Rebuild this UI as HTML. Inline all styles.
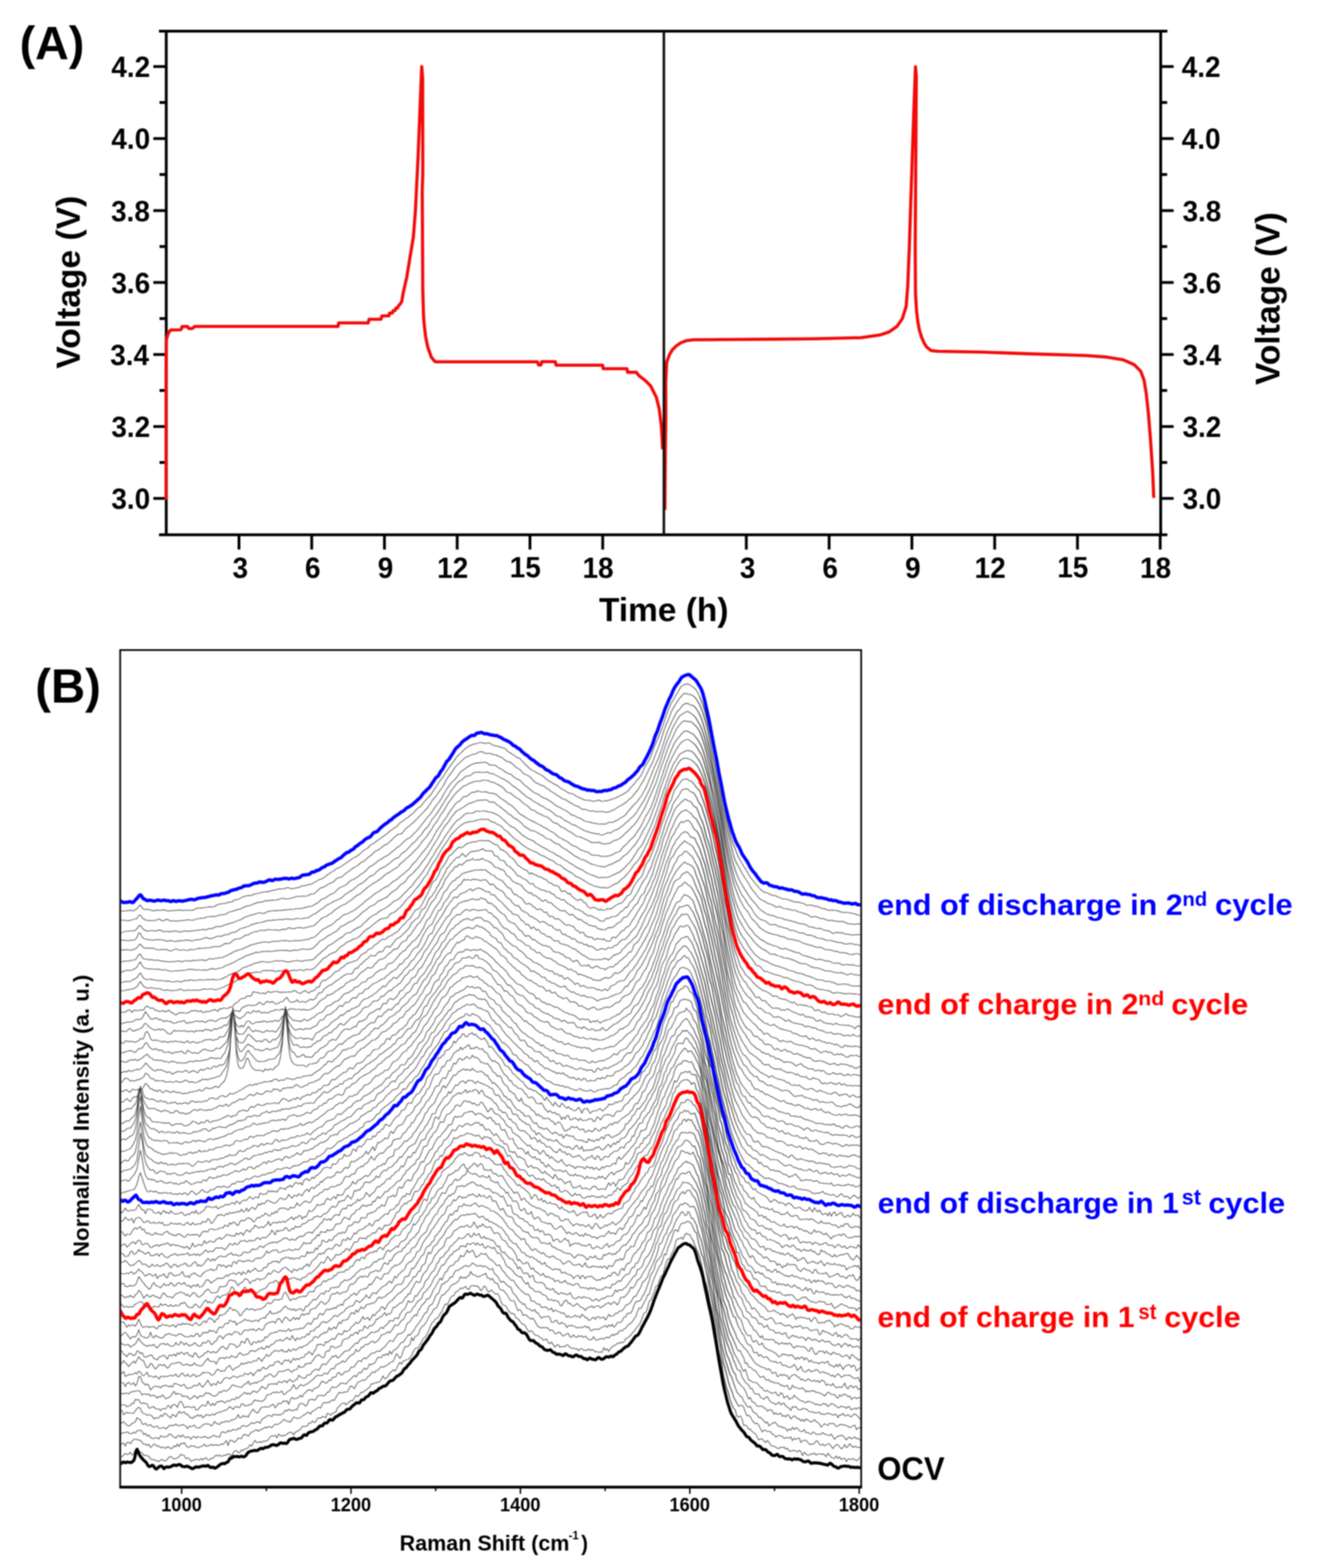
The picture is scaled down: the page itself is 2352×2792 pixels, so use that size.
<!DOCTYPE html>
<html><head><meta charset="utf-8"><title>Figure</title>
<style>html,body{margin:0;padding:0;background:#fff;}svg{display:block;filter:blur(0.8px);}</style></head>
<body>
<svg width="2352" height="2792" viewBox="0 0 2352 2792" font-family="Liberation Sans, Arial, sans-serif" font-weight="bold">
<path d="M283 55.5H2078.5M283 952.3H2078.5M296.0 53.0V954.8M2066.6 53.0V954.8" stroke="#000" stroke-width="5" fill="none"/>
<path d="M273.0 887.6H296.0M2066.6 887.6H2089.6M284.0 823.5H296.0M2066.6 823.5H2078.1M273.0 759.4H296.0M2066.6 759.4H2089.6M284.0 695.3H296.0M2066.6 695.3H2078.1M273.0 631.2H296.0M2066.6 631.2H2089.6M284.0 567.2H296.0M2066.6 567.2H2078.1M273.0 503.1H296.0M2066.6 503.1H2089.6M284.0 439.0H296.0M2066.6 439.0H2078.1M273.0 374.9H296.0M2066.6 374.9H2089.6M284.0 310.8H296.0M2066.6 310.8H2078.1M273.0 246.7H296.0M2066.6 246.7H2089.6M284.0 182.6H296.0M2066.6 182.6H2078.1M273.0 118.5H296.0M2066.6 118.5H2089.6" stroke="#000" stroke-width="5" fill="none"/>
<path d="M425.5 952.3V978.5M1328.8 952.3V978.5M555.0 952.3V978.5M1476.2 952.3V978.5M684.5 952.3V978.5M1623.6 952.3V978.5M814.0 952.3V978.5M1771.0 952.3V978.5M943.6 952.3V978.5M1918.4 952.3V978.5M1073.1 952.3V978.5M2065.7 952.3V978.5" stroke="#000" stroke-width="5" fill="none"/>
<path d="M295.7 890.0 295.7 700.0 295.8 640.0 296.2 605.0 298.5 596.7 301.0 591.0 304.2 587.5 321.2 587.3 323.0 586.0 324.0 581.5 334.0 581.3 336.0 585.0 342.0 585.0 347.0 581.3 601.8 581.3 603.0 575.0 655.6 575.0 657.0 568.5 678.3 568.5 680.0 562.5 692.5 562.5 693.5 557.5 698.5 557.5 700.0 553.0 703.5 553.0 705.0 548.5 707.5 548.5 709.5 544.5 712.0 542.0 715.2 537.0 718.2 520.0 724.2 493.8 730.0 458.0 736.0 422.0 739.7 374.5 742.0 326.7 744.4 279.0 746.8 219.3 749.2 159.7 750.9 118.5 752.5 140.0 752.8 307.6 751.8 338.7 752.8 517.7 754.0 560.0 755.0 575.0 757.9 600.4 761.7 618.3 768.0 636.1 774.4 643.8 776.0 644.3 956.8 644.3 959.0 650.0 963.0 650.0 964.5 644.0 988.7 644.0 990.0 650.2 1072.9 650.2 1074.0 656.5 1116.3 656.5 1117.5 662.9 1132.9 662.9 1138.0 669.3 1148.2 677.0 1158.4 687.1 1168.6 707.6 1173.7 728.0 1177.5 758.6 1179.3 789.2 1179.6 800.0" stroke="#f20a0a" stroke-width="5.6" fill="none" stroke-linejoin="round"/>
<path d="M1183.8 908.0 1184.6 800.0 1185.5 740.0 1185.3 679.0 1187.0 645.0 1192.0 631.4 1197.0 623.0 1204.0 616.0 1212.0 610.5 1221.0 606.8 1234.6 605.0 1300.0 604.5 1384.0 603.9 1450.0 603.2 1491.5 602.2 1533.0 601.2 1566.3 596.6 1583.0 591.0 1596.8 581.4 1606.5 567.5 1613.4 545.4 1616.2 509.4 1619.0 440.0 1621.7 357.0 1624.5 273.9 1627.3 190.8 1630.0 118.8 1631.4 135.4 1630.6 274.0 1629.5 440.0 1630.0 523.0 1632.0 555.0 1634.2 573.0 1637.0 588.0 1641.0 600.8 1645.0 610.0 1649.4 617.4 1657.8 624.3 1670.0 625.5 1750.0 627.0 1836.4 630.1 1932.7 633.0 1971.3 635.9 2000.2 640.7 2019.5 649.4 2031.0 661.0 2036.8 676.4 2040.7 699.5 2044.5 734.2 2048.4 782.4 2052.3 840.2 2054.2 886.5" stroke="#f20a0a" stroke-width="5.6" fill="none" stroke-linejoin="round"/>
<path d="M1182.0 55.5V952.3" stroke="#111" stroke-width="4.5" fill="none"/>
<path d="M214.0 2648.0V1157.4H1533.3V2648.0" stroke="#000" stroke-width="3" fill="none"/>
<path d="M212.5 2648.0H1534.8" stroke="#000" stroke-width="5" fill="none"/>
<path d="M323.4 2648.0V2660M474.2 2648.0V2655M625.0 2648.0V2660M775.8 2648.0V2655M926.6 2648.0V2660M1077.4 2648.0V2655M1228.2 2648.0V2660M1379.0 2648.0V2655M1529.8 2648.0V2660" stroke="#000" stroke-width="2.5" fill="none"/>
<defs><clipPath id="cb"><rect x="215.5" y="1159" width="1316.3" height="1487"/></clipPath></defs>
<defs><linearGradient id="bg" x1="1228" x2="1318" y1="0" y2="0" gradientUnits="userSpaceOnUse"><stop offset="0" stop-color="#fff" stop-opacity="0"/><stop offset="0.3" stop-color="#fff" stop-opacity="1"/><stop offset="0.7" stop-color="#fff" stop-opacity="1"/><stop offset="1" stop-color="#fff" stop-opacity="0"/></linearGradient><mask id="mband" maskUnits="userSpaceOnUse" x="1200" y="1200" width="150" height="1450"><rect x="1228" y="1240" width="90" height="1400" fill="url(#bg)"/></mask></defs>
<g clip-path="url(#cb)"><g stroke="#404040" stroke-width="1.25"><path id="gl" d="M214 2594.5l3-.5 3-2.7 3-3.4 3 2 3-.7 3-3.2 3 4.8 3-1.5 3-8.3 3 6 3-3.5 3 2.4 3 1.3 3 4.5 3-.5 3 1 3 .9 3 4.8 3 1.2 3-.4 3 2.4 3 .1 3 1.1 3-2.7 3-.8 3 2.6 3 0 3-3.1 3-3.8 3-1.1 3 2.4 3 1.8 3-.4 3-1.4 3-2 3-4.2 3 1.6 3 .3 3 6 3-1.6 3 1.3 3 5 3-1.9 3-.4 3-1.9 3 .9 3 1.1 3-3.1 3 2.9 3-3 3-1.2 3 3.7 3 .2 3-3 3 .2 3-3.3 3-2.5 3 1.8 3-1.8 3 2.2 3-.8 3-1.4 3 .4 3-2.4 3 .3 3 4.2 3-6.6 3-3.5 3-.1 3 3.1 3 0 3-4.7 3 1.3 3-3.1 3-.4 3-1.7 3-5.2 3 2.6 3-6.1 3-4.1 3 3.6 3 .2 3-1.8 3 1.8 3-3.1 3 1.1 3-1.3 3-2.2 3-5 3-1.7 3 .8 3-1.8 3 4.9 3-7.1 3 2.6 3 1.2 3-1.5 3 .3 3-2.3 3-2.3 3-.9 3 .2 3 4.6 3-5.3 3-1 3-2 3-1.9 3-4.8 3-.6 3-.1 3-.1 3-5.9 3 1 3-4.5 3 2.9 3-1 3-6.4 3-.6 3 .4 3-3 3 .4 3 1.8 3-8.1 3 1.3 3 2.2 3-3.1 3-1.4 3-.9 3-8 3-2.2 3-4 3-1.3 3-1.2 3 3.7 3-3.1 3-2.1 3-2.7 3 .7 3-5.3 3-4.3 3 2 3-2.7 3-5.1 3 .6 3-3 3-1.5 3-2.7 3-1.9 3-6.6 3 .6 3-2 3-.1 3-1.2 3-.6 3-4.3 3-6.5 3 5.5 3-1.2 3-3.9 3-5.2 3-2.3 3-3.7 3 2.4 3-4.5 3-6.3 3-4.9 3 3.4 3-5.4 3-.9 3-1.7 3-.5 3-3 3-4.1 3-7 3-4.9 3-1.4 3-.1 3-6.5 3-4.9 3-6.1 3-1.2 3-5.8 3-5.4 3-7.9 3-6.5 3-2.4 3-4.9 3-.8 3-3.7 3-5.3 3-3.8 3-7.8 3-5.1 3 1 3-4.6 3-7.5 3-3.2 3-.4 3-6.4 3-1.2 3-2.4 3-3.9 3 1.3 3-2.1 3-1.8 3 4.5 3 .9 3-6.1 3-.7 3-.2 3 1 3-.3 3 3 3 5.6 3-3.2 3-5.5 3 2.3 3 6.8 3 1.9 3-3.8 3 1.9 3 3.9 3 1.4 3-.7 3 5.4 3 8.8 3 5.4 3 1.5 3 1.2 3 6.2 3 3.6 3 3.3 3-.2 3 1.6 3 6.9 3 .7 3 3.9 3 4.3 3 1.9 3 1.2 3 4.6 3 5.6 3 2.2 3-2.2 3 3.3 3 4.1 3 1.1 3 .4 3 3.6 3 .4 3 4.3 3-.9 3-1.6 3 6.6 3 2.2 3-3.2 3 4.8 3 4.5 3-4 3-.6 3 4.6 3-1.3 3 .1 3 .1 3-3.3 3 1 3 3.9 3 1.6 3-.6 3 1.3 3-.2 3 3.7 3-3.4 3-.4 3 3.3 3-.6 3 .6 3-3.1 3 3.2 3-1.7 3 1.2 3 2.9 3-.5 3 1.3 3-.9 3 1 3-8.7 3 5.1 3-3 3 5.2 3-6 3-2 3-2.9 3-.6 3-3.3 3 .4 3-2.4 3 1.1 3-1.8 3-5.5 3-1.1 3-2.7 3-2.1 3-4.8 3-2.7 3-4.5 3-3.6 3-3.3 3-5.7 3-8.5 3-7.2 3-.5 3-8.5 3-11.8 3-1.5 3-7.9 3-8.1 3-9.1 3-.5 3-9.8 3-7.9 3-.8 3-12.1 3-10.5 3-7 3 1.1 3-8.8 3-4.6 3-8.7 3-12.2 3-2.6 3 0 3-2.6 3 3.7 3-7.3 3-3.5 3 2 3 0 3 6.3 3 4.4 3 8.5 3 6.5 3 7.3 3 8.4 3 12.9 3 13.3 3 14.5 3 8.8 3 12.7 3 17 3 11.8 3 16.4 3 15.2 3 20 3 19.6 3 13.8 3 11.8 3 21.5 3 12.7 3 11 3 8.2 3 12.2 3 8.1 3 6.4 3 3.3 3 10.8 3 1.8 3-1.8 3 4.1 3 12.7 3-.5 3 1.6 3 5.6 3-.3 3 4.3 3 2.1 3 2.2 3 5.3 3 5.4 3-1.7 3 .2 3 3.1 3 3.4 3-3.9 3 2.9 3 5.1 3 1.9 3 .4 3 1.1 3 2.6 3 .2 3-2.7 3 1.3 3-1.4 3 4 3-1.6 3 4.5 3 .9 3-1.3 3-.4 3 1.7 3 .9 3-2.6 3 2.5 3 6.7 3-5.9 3 2.9 3 2.7 3-.4 3-2.5 3 .8 3-2.1 3 3.9 3-2.3 3 .2 3 .4 3-.3 3 .8 3 3.9 3-6 3 3.2 3 4 3 1.3 3 .4 3-4.3 3 4.4 3-2.8 3 4.9 3-1.7 3-.7 3 6.1 3-4.7 3 .1 3 1.1 3-2.1 3 2.3 3 1.7 3-2.3 3-3.5 3 2.1M214 2572.0l3-1.1 3-1.7 3 5.9 3-6.5 3-.6 3 2.9 3-4.2 3-3.9 3 .1 3 0 3 1.2 3 .8 3 3.1 3 4 3-.6 3 2.6 3-2.3 3 5.8 3-2.6 3-3.5 3 1.1 3 3 3-.9 3 3.2 3-.6 3 .1 3 1.7 3-2.8 3 .7 3 2.5 3-.8 3-4 3 1.5 3-4.9 3 4.8 3-6.2 3 1.5 3-2.7 3 5 3 3.7 3-.3 3-2.8 3 .9 3-.4 3 2.2 3 .8 3-.8 3-1.4 3-.9 3-3.1 3 3.8 3-.6 3-.8 3-2.1 3 2.1 3-1.1 3-.4 3 1.6 3-1.1 3-2 3 1.6 3-4.1 3-3.1 3 8.7 3-8.8 3-.8 3 2 3 1.5 3-2.9 3-4.4 3 .5 3 .5 3-6.5 3-.7 3 .8 3 2.1 3-3.9 3-3.9 3-.1 3-2.8 3-.8 3 3 3-2.7 3-1.2 3-1.2 3-2.6 3 1.8 3-2.9 3 .9 3 .9 3-2.9 3-2.9 3 .7 3-1.2 3-1.7 3-2.9 3-3.5 3 1.6 3 2 3-.3 3 1.7 3-4.6 3-4.8 3 1.3 3 1.5 3-.9 3-.3 3-3 3-2.2 3-1.3 3-3.2 3-.1 3 3.2 3-5.3 3-.6 3-2.7 3-2.2 3-1.7 3 1.7 3-7.1 3-2.8 3 .9 3-1.1 3 .2 3-2.8 3-1.9 3 1.1 3-5.5 3-4.5 3-4.5 3 1.1 3-.4 3-1.3 3 0 3-.6 3-7 3-3.2 3 1.5 3 3.5 3-6.1 3-5.7 3-.7 3-1.6 3-1.7 3 1.1 3-2.9 3-3.8 3-1.6 3-4.7 3-2.2 3 1.1 3-3.5 3-.9 3-3.5 3-2.8 3 1.3 3-1.5 3-1.8 3-1.6 3-3 3-1.5 3-1.1 3-6.6 3-7 3 3.7 3 4.8 3-4.6 3-9.7 3-6.8 3 .4 3-1.8 3-2.7 3-12.2 3 5.9 3-8.1 3-.4 3-3.5 3-8.7 3-4.2 3-2.3 3-3 3-5.1 3-5.9 3-5.1 3-3.8 3-6.2 3-1.1 3-2.5 3-7.4 3-8.5 3-6 3-.1 3-3.1 3-3.6 3-2.6 3-5.5 3-3.1 3-1.3 3-1 3-2.3 3-3.3 3-6.8 3 3 3-1.6 3 1.7 3-3.5 3-.9 3-7.8 3 5.2 3 .7 3 1.4 3 2.2 3 0 3-1.9 3-1.3 3-1.1 3-1.9 3 8.7 3-.3 3 3.5 3-2.8 3 6.8 3 1.8 3 .3 3 8.6 3 3.3 3 0 3 1.9 3 4.6 3 3.3 3 6.7 3 2.6 3-.4 3 1.5 3 8.7 3 7.9 3-2.1 3 2.3 3 8.1 3-1 3 .5 3 3.1 3 2.6 3 1.5 3-1.5 3 4.2 3 6 3 4.5 3 1.3 3 1.3 3-1 3 .4 3 0 3 .8 3 4.6 3-1.7 3 2.2 3 4.7 3 0 3-2.3 3-.1 3 4.6 3 2 3-1.5 3-2.8 3 0 3 6 3 .3 3-4.2 3 3.7 3 .9 3-2.9 3 1.6 3-1.4 3 2.7 3-2.1 3 2.6 3 3.6 3 .3 3-.9 3-4.7 3 5.2 3 1.2 3-1.8 3-.9 3-.6 3 1.5 3-2.6 3-1.2 3 1.5 3-3.1 3-3.4 3 2.4 3-3.1 3 .5 3-4.8 3-1.6 3 .3 3-3.2 3-1.2 3-4.7 3-2.4 3-1.8 3-3.1 3-4.6 3-4.3 3-8.4 3-7.2 3 1.5 3-5.6 3-5.6 3-5.3 3-7.9 3-.9 3-12.3 3-9.7 3-7.5 3-7.2 3-6.6 3-7 3-2.8 3-8.9 3-10 3 1.5 3-11.8 3-7 3-6.3 3-10.8 3-7.7 3-1 3 3.4 3-8.9 3-5.5 3-.9 3 0 3-2.3 3-1.3 3 2.5 3 2.2 3 6.4 3 7.7 3 1.7 3 14.5 3 11.9 3 11.7 3 6 3 13.5 3 13.7 3 15.7 3 14.9 3 14.8 3 15.9 3 18.1 3 14.8 3 18.1 3 17 3 18.6 3 12.9 3 9.3 3 12.7 3 12.1 3 9.3 3 6.2 3 10.6 3 5.8 3 5.5 3 5.6 3-1.8 3 .3 3 2.7 3 9 3 6.9 3-1.2 3 2.8 3 6.1 3 3.7 3 2.8 3-1.5 3 4.2 3 6.2 3 5.6 3-3.4 3 .5 3 2 3-.1 3 .3 3 4.8 3 .6 3 4.4 3-1.8 3-1.1 3 .8 3 1.1 3 3.2 3-.7 3-.7 3 1.3 3-2.6 3 6.8 3-4.2 3 1.9 3-1.9 3-.4 3 8.1 3-3.5 3-.3 3-.6 3 3.5 3 3.8 3-.2 3 .6 3-2.2 3-3.9 3 .4 3 5.7 3 1.5 3-2.3 3 3.4 3-2.1 3-1.5 3 0 3 4.1 3 4.3 3-3.8 3-3.5 3 .7 3 3.5 3 3.6 3-2.4 3-5.5 3 5.9 3-2.6 3-4.6 3 3.2 3 3.6 3-2.4 3 1.3 3 1 3-.1 3-.4M214 2553.9l3-1.8 3-1 3-.3 3-1 3 1.3 3 1.9 3-.3 3-2.7 3 1.8 3-4.2 3-.6 3-.3 3 2 3 5.9 3-2.3 3 4.9 3-1.8 3 4.2 3 1.8 3-.3 3-1 3 .1 3 2.3 3-5.8 3 1.1 3 1.2 3-1.2 3-.1 3-4 3 .2 3 2.9 3 2.2 3 1.6 3-3.6 3-1.3 3 3.4 3-4.3 3 3.4 3 1.8 3-1.7 3 .6 3 3.9 3-4.3 3-.9 3 3.2 3-2.6 3 .8 3 .6 3-.1 3-1.9 3 1.5 3 1.7 3-.9 3-1.3 3-2.2 3-.3 3 2.4 3-.7 3 1.3 3-8.4 3-1.5 3 1.9 3-.3 3-3.7 3 1.8 3-1.4 3-2.2 3 .8 3 .4 3-3.3 3 1 3-4.3 3-1.5 3 .6 3 .8 3-1.2 3-2.5 3-3.1 3 1.8 3-1 3-1.9 3-.3 3 3 3-7 3-2 3-1.6 3-2.5 3-1.5 3 .7 3 1.6 3-3.9 3 .4 3 .5 3-.1 3 .2 3-1.6 3-2 3-4.7 3 1.5 3-3.4 3 2.2 3-.3 3 1 3-2.7 3 1 3-8.6 3-2.6 3-.1 3 1.4 3 3.3 3-2.3 3-8.8 3-.3 3-1 3 1.7 3-.9 3-6.5 3-.7 3-.1 3 0 3 .8 3-2.5 3-4.5 3-.1 3-6.2 3-3.3 3 1.6 3 .3 3-2.6 3-2.3 3-3.6 3 .6 3 .1 3 1.3 3-3.9 3-3 3-2.2 3-3.6 3-2.9 3 2.8 3-4.8 3-3.5 3 1.3 3-5.8 3-2.9 3 2.5 3-2.9 3-7.1 3 2 3-2.6 3-.6 3-5.3 3-5.4 3 .5 3 .3 3-5.2 3 1.3 3-3 3 2.5 3-7.1 3 5.3 3-5.6 3-2.5 3-1.8 3-3.2 3-4.6 3-3.4 3 0 3-4.8 3-4.3 3-4.9 3 1.5 3-4.2 3-3 3-4.9 3-5.4 3-3.2 3-4.2 3-4.7 3-5.6 3-4.5 3-1.1 3-9.6 3-2.9 3-1.4 3-5.6 3-8.1 3-4.8 3-1.7 3-9 3-7.7 3 .5 3-3.9 3-.4 3-3.6 3-5 3 .9 3-6.6 3-5.2 3-.4 3-1.2 3-2.6 3-.8 3-3.1 3-1.3 3 1.8 3-.5 3-1.6 3-4.1 3 1.6 3 2 3 2.2 3-.5 3-1.1 3 2.8 3-2.2 3 1.8 3 1.4 3 3.4 3-.2 3-1.6 3 8.9 3 2.6 3 2.8 3 5 3 5.6 3-2 3 1.5 3 3.6 3 3.1 3 1.5 3 1.6 3 9.3 3 2.4 3 4 3 4.3 3 4.9 3 1.4 3 3.8 3-1.6 3 7.1 3 2.2 3 .7 3 2.1 3 1.3 3-3 3 5.5 3 .8 3 5.4 3 3.9 3-2.1 3-.4 3-.2 3-.8 3 2.1 3 8.7 3 .4 3-3.1 3-.9 3 5.9 3 .7 3-3 3 2.6 3 .4 3 6.4 3-3.5 3 .6 3-1.4 3 1.9 3 .5 3 2.5 3-1 3 .4 3-.1 3-1 3-1.9 3 3.2 3-1.8 3 6.8 3 .4 3-2.7 3 .2 3-.3 3 .8 3-2.9 3-1.1 3-1.7 3-1.5 3 3.2 3-4.3 3 2.3 3-3.3 3 4.9 3-2.3 3-5.6 3-.4 3-.2 3-3 3-6.5 3-.3 3-6.4 3 .2 3-.5 3-4.9 3-9.2 3-5.9 3-1.5 3 .3 3-2.3 3-6.5 3-4.5 3-6.5 3-9.1 3-7.6 3-11.1 3-3.8 3-6 3-11.8 3-4.3 3-3 3-4.3 3-8.7 3-6.3 3-8.2 3-8.8 3-7.9 3-2.2 3-6.2 3-7.5 3-7.7 3-5 3-3.3 3-5.9 3-.2 3 5.6 3 .5 3-7.1 3 3.4 3 8.8 3 .1 3 5.8 3 5.9 3 12.1 3 9 3 7.5 3 13.7 3 14.4 3 12.4 3 11.3 3 21.7 3 11.9 3 13.5 3 19.3 3 15.2 3 16.1 3 18.3 3 18.4 3 12.9 3 11.1 3 9.3 3 9.2 3 9.7 3 4.2 3 9.9 3 8.4 3 7.9 3 3.4 3 4.3 3 1.1 3 7.4 3 4.1 3 5 3 1.9 3-1.9 3 6.2 3 5.3 3 .3 3 3.6 3 4.9 3-.4 3 3.1 3 2.8 3 4.2 3-2.1 3 7.1 3-2.4 3-1.7 3-1.9 3 .2 3 4.1 3 2.9 3-.4 3 2.4 3-.1 3 1.7 3 4.4 3-3.7 3 2.1 3-5.2 3 4.2 3-3.2 3 .9 3 4.3 3 1.5 3-.2 3-3.5 3 5.8 3-.6 3 2 3 1.5 3-4.2 3 1.2 3 2.9 3 0 3 .1 3-.2 3-3.1 3 2.7 3 .9 3 1.2 3 .9 3-3.3 3 5.2 3 4.5 3-3.4 3-2.5 3 .1 3-1.3 3 1 3 3.6 3 3.8 3-4.2 3-.7 3 2.8 3-1.8 3-1.6 3 3.2 3-.6 3 2.4 3 6M214 2532.4l3 1.7 3-2.9 3 3.7 3 2.8 3 1.4 3-1.3 3-3 3-1.4 3-1.7 3-7.4 3 2.8 3 .9 3 7.4 3 .8 3-2 3 4.2 3-.3 3-1.5 3 3.4 3 1.1 3-.8 3-1.3 3 4.2 3 .3 3-1.5 3 .2 3 1.9 3-1.7 3-4.4 3 .8 3-1.2 3 .5 3-2.4 3 2.4 3 .5 3-.7 3-1 3 .8 3 1.8 3 4.6 3-4.9 3 1.3 3-1.2 3-1.8 3 4.5 3 .3 3 .4 3-2.6 3-2.4 3-2.2 3-.1 3-.1 3 .7 3 3 3-2.2 3-6 3 3.8 3 .8 3 1 3-4.1 3 .4 3-.9 3-1.7 3 1.4 3-.7 3-2.7 3 .2 3-1.5 3-2.1 3-6 3 6 3-.8 3-3.4 3 2.5 3-1.5 3 2 3-6.8 3-4.2 3-3.2 3 3.9 3 2.9 3-1.2 3-5.5 3-3.9 3-.2 3-.5 3 .6 3 .1 3-1.9 3-2 3-1.2 3 6.6 3-4.1 3-4.5 3 1.4 3-2.3 3-3.2 3 1.3 3-1.2 3 6.1 3-8.3 3-4.1 3 2.7 3-.6 3-.6 3-1.8 3-3 3 2.9 3-5.9 3-2 3-3.9 3-1.2 3 .1 3 2.7 3-4.7 3-1.5 3-.4 3-2.7 3-5.6 3-3.6 3 2.5 3 1.4 3-1.5 3-4.4 3 1.2 3-6 3 .5 3-1.2 3-6.6 3-1 3 4.4 3-.6 3-4.3 3-1 3-.3 3-2.2 3-5.6 3 .4 3-1.3 3-5 3-4.1 3-1.6 3 1.7 3-4.5 3-2.5 3 2.2 3-3.5 3-2.9 3-3 3-1.2 3 .2 3-2.7 3-1.1 3 1 3-3.4 3-2.8 3-1.7 3-4.4 3-3.5 3-3.7 3 .6 3 1.2 3-5.4 3-3.9 3-4.6 3 0 3-1 3-1.8 3-3.4 3-10.3 3-3.6 3-1.5 3-5.4 3-3.3 3-3.6 3 2.2 3-9.7 3-3.4 3-6.3 3-1.8 3-3.9 3-5.6 3 .7 3-3.7 3-6.7 3-6.7 3-4.2 3-5.5 3-5.3 3-5.3 3 3.7 3-8.2 3-6.4 3-.7 3-7.4 3-2.8 3-.5 3-1.7 3-5.4 3-.1 3-3.7 3-7.3 3 2.5 3-1.1 3-5.5 3-5.2 3 4.9 3-2 3-2.9 3 4.3 3 8.4 3-1.2 3-1.6 3-4 3 .7 3 1.1 3-1.6 3 4.8 3 4.4 3 1.9 3 1.9 3 2.9 3 3.9 3 2 3-1.4 3 4.6 3 5.8 3 2.4 3 4.4 3 4.1 3 2.1 3 4.2 3-.9 3 3.6 3 5.3 3 3.5 3 3.6 3 2.6 3 3 3 2.1 3 2.2 3-.7 3 3.5 3 9.2 3-.5 3 1.1 3 3.4 3 1.5 3-.3 3 6 3-.5 3-.4 3 .4 3 3.9 3 .1 3-2.8 3 6.9 3-3.2 3 1.4 3 1.5 3 .7 3 2.5 3-1.3 3 3.1 3 5 3-2.8 3 3.3 3-1 3-.1 3-3.3 3 2.9 3-1 3 2.8 3-5.9 3 1.8 3 4.4 3-.5 3 5 3-.7 3-3.3 3-1.5 3 3.7 3-5 3 .6 3 2.6 3-1.5 3-1.2 3 5.6 3-4.1 3-6.2 3 3.9 3-1 3-.1 3-4.9 3 .8 3-3.2 3-1.4 3-.8 3-3.7 3-5.4 3-1.1 3-2 3-2.6 3-5 3-5.5 3 .4 3-6.3 3-5.1 3-5.1 3-8.9 3-1.5 3-4.5 3-2.9 3-10.5 3-5.7 3-6.5 3-7.2 3-6.6 3-9.1 3-13.7 3-.7 3-6 3-8.8 3-2.6 3-9.1 3-5.9 3-5.1 3-12.5 3-3.6 3-4.4 3-4.1 3-5.7 3-2.5 3 1.3 3-3.6 3 1.1 3 2 3 4.3 3-.1 3-1.2 3 2.4 3 8.2 3 9 3 12.9 3 7.8 3 13.9 3 13.3 3 16.8 3 13.3 3 14.8 3 15.8 3 14.1 3 21.4 3 20.2 3 11.1 3 18.7 3 13.2 3 8.7 3 17.1 3 12.1 3 5.4 3 8 3 9.8 3 7.5 3 2.8 3 11.4 3 4.1 3 3.9 3 3.2 3 2.8 3 5.1 3 7.4 3 7.4 3-3 3 7.5 3 1 3 2.7 3 4.5 3-.1 3 .2 3-.8 3 4.2 3 0 3 4.9 3-1.5 3-.7 3 1.9 3 6.5 3-3.3 3 3.3 3-1 3-1.2 3 5.6 3-1.6 3 2.6 3-4 3 1.7 3 5.9 3-3.1 3-2.6 3 2.4 3 3 3-.1 3 4.1 3-2.8 3 3.6 3-4.8 3 2.5 3 1.2 3 2.3 3-1.5 3-3.2 3 3.8 3 1.5 3 2.7 3 5.6 3-3.1 3-3 3 1.7 3 1.5 3-4.3 3 1.1 3-.5 3 1.4 3 4.5 3-1.5 3-2.3 3-.4 3 1 3-.1 3 1.4 3 1.1 3 2.2 3-1.4 3-2 3-1 3 8 3-3 3-.6 3 5.4M214 2512.8l3-1.5 3 7.8 3-2.5 3-1.8 3 1.5 3-.8 3 1 3 .2 3-5.3 3-3.2 3-2.4 3 2.3 3 6.6 3 2.3 3 .9 3 2.4 3-1.6 3 1.3 3 1.4 3 5 3-2 3 .8 3-.4 3-5.1 3 2.6 3-4.9 3-.5 3 3.3 3 2.2 3 2.6 3-6.4 3 1.3 3 3.2 3-5.8 3-4.2 3 3.2 3-1 3-1.6 3 4.8 3-.6 3 4.7 3 1.8 3 1.5 3-3.9 3 .4 3-3.2 3 2.4 3-2 3 5 3-2.4 3-3.2 3 .3 3 1.1 3-1 3-1.6 3 1.8 3-3.5 3-.5 3-1.3 3 0 3-1.8 3-1.2 3-1 3-2.3 3-3.6 3 2.3 3 2.8 3-3.8 3-1.4 3 2.1 3-.5 3-6.2 3 .4 3 3.5 3-1.1 3 .3 3-2.3 3 0 3-4.7 3-3.2 3 2 3-.4 3 .4 3 1.1 3-1.8 3-2.7 3-7.3 3-.6 3-.3 3-2.2 3-2 3 1.3 3-1.9 3 1.8 3-1 3-2.2 3 6.3 3-1 3-3.4 3-2.3 3-.9 3-5.2 3-5.1 3 7 3 .7 3-3.7 3-3.9 3 1.6 3 1 3-2.8 3-.8 3-2.2 3-2.5 3-2.3 3-2.8 3-3.5 3-2.3 3 .7 3-.3 3 0 3-3.9 3 0 3 1.6 3-4.8 3-4.3 3-.9 3 .3 3-6.3 3-1.5 3-2 3-.7 3-3.6 3 2.6 3-1.9 3-4.7 3-3.2 3-2.5 3-1.4 3-2.4 3-6.7 3 3.9 3-1.7 3-5.8 3 .1 3-3.7 3-2.1 3 .8 3-2.9 3-2.3 3-1.3 3 3.3 3-1.8 3-2.4 3-3.6 3-6.6 3-.3 3-.9 3-1.7 3-2.6 3 1.9 3-4.1 3-3.6 3-6 3 .4 3-.1 3-4.3 3-4.6 3-.6 3-6.3 3-6.3 3-1.1 3 .1 3-3.4 3-5.7 3-2.2 3-6.6 3-2.1 3-2.4 3-2.5 3-9.2 3-2.1 3-3.2 3-4.1 3-3.1 3-5.8 3-6.7 3-4.7 3-2.4 3-6.8 3-5.9 3-5.4 3 .3 3-4.2 3-5.9 3-3.4 3-4.8 3-.4 3-5.3 3-.8 3-2.5 3-1.2 3-5.5 3 .7 3-1.2 3 2.6 3-6.7 3 1.1 3 .9 3-2.5 3-.5 3 4.2 3-4.2 3 3.6 3 .6 3-2.8 3 6.9 3 1.2 3-4 3 1 3 2.4 3 1 3-2.1 3 6.2 3 5 3-1.1 3 2.7 3 6.8 3 3.7 3 8.9 3 3.1 3 1.1 3 3 3 2.4 3 4.7 3 2.8 3 1.7 3 1.8 3-.2 3 5.7 3 4.5 3 2.9 3-3 3 8.6 3 1.5 3 1.7 3 3.9 3 1.3 3-1 3 .8 3 2.9 3 2.5 3 .2 3 2.6 3 6.1 3-.5 3 .1 3 1.9 3-.9 3 1.4 3 .8 3 6.1 3 2.1 3-6.1 3-3.9 3-.3 3 5.9 3-.5 3 3.7 3 1.3 3-1.8 3-3 3 2.2 3 3.5 3 1.6 3 1.1 3 4.1 3-4.2 3-1.3 3-.7 3-1.8 3 3.5 3-2.9 3-.5 3-.5 3 4.1 3-2.8 3-.7 3-3.8 3-.8 3-1.6 3 3.5 3-1.8 3-3.3 3 2.2 3 3.7 3-4.3 3-9 3-.9 3 1.2 3-3.6 3-3.5 3-4 3-7.5 3 1.8 3-2.9 3-4.7 3-6.9 3-1.8 3-2.8 3-6.8 3-4.2 3-5.5 3-4.8 3-4.9 3-6.6 3-8.2 3-7.5 3-11.4 3-4.4 3-9.6 3-5.9 3-5.8 3-9.8 3-4.6 3-6.1 3-4.6 3-6.7 3-11.1 3-6.2 3-2.1 3-2.1 3-7.9 3-3.3 3-3 3 4.2 3-4.5 3-2.4 3 .4 3 5.5 3 5.2 3 2.6 3 7.4 3 9 3 12.4 3 13.8 3 10.8 3 12.6 3 14.9 3 14.2 3 11.6 3 20.2 3 16.1 3 14.4 3 12.1 3 20.9 3 20.5 3 12.3 3 12.6 3 10.9 3 11.1 3 7.9 3 8.9 3 5 3 10.1 3 5.6 3 9.3 3 2.6 3 .9 3 10.7 3 4.9 3 4.8 3 2.7 3 2.5 3 6.4 3-.8 3 6.9 3 3.4 3-.3 3 .1 3 5.9 3 1.8 3 2 3-3.3 3-1.9 3 5.2 3 4.7 3 1.3 3 .8 3 2.3 3-1.8 3-2.6 3 5.2 3-3 3-.1 3 5.3 3 1.3 3 2.5 3 4 3-7.1 3 1.4 3-1.7 3 4.4 3 1.8 3 0 3-2.6 3 .5 3 .2 3 2.4 3 2.6 3 .2 3 .1 3 1.8 3 0 3-.5 3-.7 3 3.7 3-.5 3 .9 3-1.3 3-.9 3 .4 3 1.5 3 1.7 3-1.7 3 .6 3 5.2 3-4.8 3 .3 3-2.9 3 4.4 3-.6 3-1.6 3 2.9 3 1 3-3.7 3-1.6 3 2.3 3 3.1 3 4 3-1.3M214 2500.9l3 .6 3 .2 3 0 3 3.3 3-1.5 3-.9 3-4.1 3 .8 3-7.7 3 1.3 3-.7 3 5.5 3 1.8 3-1.6 3 1.2 3 .9 3 7.3 3-.2 3-2.2 3 .1 3 3.5 3 .4 3-.1 3 3.1 3-3.7 3 .3 3 .2 3-5.2 3-.6 3 4.8 3-5.8 3-.9 3 .9 3 4.2 3-8.6 3-2.6 3 4.1 3 7.8 3-1.4 3-.8 3 .4 3 1.1 3-.3 3-1.4 3 6.3 3-.2 3-3.8 3-3.6 3-1.6 3 1.8 3-.3 3-8.2 3 5.4 3 2.7 3-4.2 3 3.9 3-4.5 3-2.5 3 .5 3-1.7 3 .9 3 3.1 3-3 3-1.4 3 1.3 3-3.5 3-.8 3 1.5 3-4.6 3 1.9 3-3.5 3-1.9 3-2.8 3-2.3 3 3.1 3-1.8 3 2.2 3-3 3-3.1 3 1.2 3 1.5 3-2.2 3-3.6 3-4.8 3 .8 3 3.4 3-1 3-7.4 3 .2 3-.8 3 .6 3-1.1 3 2 3-5.5 3 .6 3 1.4 3-2.3 3-1.2 3 3.7 3-4.6 3-1.4 3 4.2 3-.5 3-3 3-1 3-7.3 3 3.2 3 1.4 3 .9 3-.8 3-4.7 3-.5 3-.5 3-5.4 3-1.9 3-2.1 3 .5 3 1.2 3-5.8 3-5 3-.3 3 1.3 3-3.7 3-4.1 3-2.7 3-4.7 3 .9 3-2.7 3 4.7 3-1.1 3-3.4 3-2.8 3-3.9 3-1 3-.5 3-.8 3-4.7 3-2.1 3-3.7 3-2.5 3 .8 3-5.7 3-2.3 3-2.3 3-.3 3 .1 3-3.7 3-2.4 3-3.8 3 .8 3 .2 3-2 3-.1 3-4.5 3-2.8 3 2.6 3-4.9 3-1.7 3-3.1 3-4.9 3 .5 3 .3 3-4.8 3-.8 3 1.8 3-7.6 3-4.9 3-3.7 3-2 3-6.5 3-7.4 3 2.6 3-.5 3-2.4 3-8.8 3 .7 3-4.7 3-4.7 3-3.7 3-3.4 3-9.5 3-3.1 3-2.8 3-6.4 3-4.4 3-1.6 3-5.4 3-8.6 3-2.3 3-7.6 3-.9 3-1.9 3-5.9 3-1.9 3-3.8 3-6.7 3-.7 3-4.3 3-2.2 3-2.9 3-4.7 3 1.8 3-.2 3-1.4 3-2.7 3-3.9 3-.1 3 5.8 3-2.1 3-5.4 3 4 3-.4 3-2.6 3 7.3 3 1.1 3-3.5 3 4.4 3-1.1 3 1.4 3 2.5 3-.8 3 3.3 3 4.9 3 4.2 3-1.7 3 8.5 3 3.3 3-1.2 3 4.9 3 3 3 3.6 3 1.3 3 .6 3 6 3 2.8 3 8.4 3-3.8 3 3.6 3 6.7 3 1.4 3-.8 3 .8 3 7.2 3-2.9 3-.9 3 10.3 3 1.8 3 .4 3 .4 3-.6 3 1.7 3 3.2 3 6.5 3-.9 3 3 3-.6 3-1.9 3 6.5 3-.4 3 4.3 3-1.1 3-2 3 2 3-.2 3 1.9 3-.1 3-3.6 3 5.4 3 5 3 .4 3-.8 3-2.4 3 .8 3 1.8 3-3.1 3 1.5 3 .7 3 .1 3 1.6 3 3.4 3 .2 3-3.4 3 .6 3 3.4 3-2.6 3-2.6 3 .7 3-2.1 3-1.9 3-.5 3 .2 3-.3 3-4.3 3-6.6 3 3.6 3-3.2 3-.3 3 .3 3-3.4 3-1.6 3-3.5 3-5 3-3.3 3-4.9 3-3.4 3-1.4 3-10 3-.6 3-3 3-2.9 3-10.2 3-4.6 3-2.5 3-4.7 3-5.6 3-7.5 3-8.5 3-8.9 3-10.9 3-6.1 3-1.8 3-13 3-8.9 3-1.1 3-7.4 3-7.4 3-7.2 3-2.2 3-7.4 3-6.3 3-5.3 3-1.5 3-5 3-5.3 3 .7 3 .4 3 0 3 2.2 3 2.3 3 5.7 3 2.4 3 4.3 3 8.8 3 11.8 3 11 3 15.9 3 9.8 3 13.9 3 11.2 3 22.4 3 14.4 3 19.4 3 16.5 3 12.2 3 16.8 3 9.2 3 16.9 3 18.8 3 10.3 3 10.8 3 10.7 3 5.7 3 8.3 3 9.2 3 6.6 3 4.1 3 6.6 3 4.9 3 7.9 3 4.8 3-3.7 3 9.7 3 9.8 3 0 3 3 3 .7 3 .2 3 1.5 3 3.4 3 3.7 3 1.1 3 4.5 3 2 3-2.1 3 2.6 3 1.5 3 1.1 3-.8 3-1.4 3 5.6 3 1.3 3-5.8 3 1.9 3 7.9 3-2.5 3-1.7 3 6.3 3-1.8 3-.2 3-5.4 3 4.3 3 1 3 2.9 3 2.1 3 .2 3 2 3 1 3-2.4 3 .4 3 .8 3 1.3 3 1.6 3 1.5 3-.7 3 1.9 3 0 3-3 3 1 3-.2 3 4.7 3-2.1 3-3.4 3 .9 3 1.7 3 2.4 3 2.8 3-1.2 3-2.2 3 1.7 3 .1 3 2.5 3-3.6 3 1.9 3 4.3 3-1.4 3-1.8 3 2 3-2.9 3 1.2 3 3M214 2483.9l3-3 3 1.2 3-1.6 3 .2 3 1.3 3-2.8 3-.9 3-.9 3-.1 3-.8 3-.2 3 2 3 5.7 3-2 3 .4 3 .8 3-1 3 3.8 3-1.7 3 .8 3 .9 3 3.5 3-2.8 3 .9 3-3.8 3 2.7 3 4.5 3-1.9 3-.9 3-2.2 3-4.9 3-3.6 3 5.4 3-1.8 3 .9 3 .3 3 4.6 3-1.7 3 1.6 3-.2 3 4.5 3-.4 3-2.7 3-3 3 2.2 3 3 3-4.3 3-.3 3 .5 3-2.6 3-4 3 1.8 3-.5 3 2.9 3 2 3 .4 3-1.2 3-2.7 3-4.1 3 1.2 3-3.5 3 .5 3 .8 3-2 3-2 3-5.4 3-2 3 1.9 3 .7 3 .7 3 .9 3 .4 3-3.1 3-3.1 3-.2 3-4.8 3 6.6 3-2.4 3 0 3-1.9 3 1.6 3-3 3-.5 3-2.1 3-1.4 3-6.1 3 1 3-3.5 3-.9 3 2.1 3 3.1 3-1.2 3-3 3-5.5 3 0 3 .2 3-.8 3-1.1 3-1.5 3-.4 3 3.2 3 1.8 3-4.1 3-.1 3-1.2 3-6.5 3 3.5 3-.9 3-.3 3-5.5 3 .3 3-1.6 3 1.1 3-4.6 3-3.7 3-4.6 3-1.6 3-1.8 3 3.6 3 2.1 3-.4 3-9.8 3-2 3 .6 3-8.5 3-.3 3 2.5 3 .5 3-1.6 3-1.3 3-.8 3-8.7 3-3.5 3 0 3-1.2 3-1.9 3-4.8 3 1.5 3-4.1 3-1.7 3 3.5 3-6.9 3 .9 3-1.2 3-7.3 3 3 3 1.5 3-5.2 3 .3 3-1.5 3-3.1 3-7.4 3 .2 3-3.7 3-.1 3-3.8 3-4.2 3 5.7 3-3.6 3 .8 3-3.5 3-8.5 3 .4 3-3 3-1.9 3-3.1 3-.1 3-4 3-5.4 3-1.9 3-5.3 3 .6 3-9 3-3.9 3-6.9 3-2.9 3 2.2 3-.3 3-9 3-6 3-3.8 3-2.3 3-8.1 3-3.3 3-2.9 3-7.5 3-6.1 3-2.3 3-5.4 3-2.2 3-2.5 3-2.3 3-9.9 3-5.4 3 0 3-2.4 3-3.1 3-7 3-1.2 3-2.5 3-2 3-1.8 3-.2 3 .5 3-2 3-1.4 3 3.2 3 .9 3-3.6 3-6.1 3 6 3 5.5 3-5 3 1.8 3-4.8 3 3.3 3 2.7 3 .4 3-1.3 3 1.2 3 6.1 3 4.9 3-1.1 3-.4 3 2.1 3 6.3 3 4.6 3 .8 3 2.1 3 6.4 3 3.6 3 1 3 3.4 3 4 3 5.8 3 9.5 3-1.7 3 3.8 3 3.4 3 .4 3-2.8 3 .3 3 7 3 5.2 3-3 3 5.4 3 2.5 3 1.7 3 2.9 3 1.5 3-4 3 5.2 3 1.7 3-1.2 3 2.6 3 .8 3 .8 3 5 3-2 3 .1 3 3 3 .6 3-1.1 3-2.9 3 4.6 3 2 3-1 3 2.8 3 .8 3-3 3-.5 3 1.2 3 5.3 3 1.5 3-1.3 3 1.6 3-.4 3 3 3-4 3 2.7 3-1.8 3 .7 3 3.2 3-.8 3 .3 3-.3 3-1.8 3-3.1 3 1.2 3 .1 3 1.1 3-7.2 3 .4 3-1.4 3-3.7 3-1.4 3 1.2 3-4.6 3-4.2 3-2.9 3-1.3 3-.2 3-7.4 3-4.4 3 .1 3-7.6 3-.1 3-5.9 3-6.9 3-7.5 3-1.9 3-9.7 3-6.8 3-2.5 3-2.9 3-10.7 3-5.4 3-2.5 3-6.5 3-8.2 3-8.6 3-4 3-11.2 3-6.2 3-8.2 3-4.9 3-7.6 3-6 3-7.8 3-8.4 3 .1 3-6.8 3-2.4 3-1.4 3 1.8 3-.9 3-2.8 3-.4 3 6.8 3 4.5 3 5 3 4.9 3 7.6 3 6.8 3 11.7 3 16.1 3 11.1 3 19 3 8.6 3 13.6 3 24.5 3 13.8 3 19.9 3 14.7 3 14.4 3 16 3 15.2 3 9.4 3 11.3 3 12.2 3 12.3 3 8.6 3 6 3 6.6 3 6.5 3 8.2 3 4.2 3-.6 3 7.4 3 4.8 3 10.8 3-1.5 3 7.7 3 .3 3 2.6 3 2.8 3 .8 3 4.3 3 4.5 3 3.1 3-.9 3-1.2 3 5.9 3 1.4 3-1.1 3 4.3 3-1.5 3 3.1 3-.6 3 1.1 3 0 3 3.7 3-.2 3 2.3 3-1 3-1 3 6.9 3-.5 3-6.9 3 3.7 3 .7 3 .4 3 1.5 3 0 3-1.8 3 3.2 3 4.7 3-2.5 3 2 3-1.7 3-.3 3 .4 3 2.8 3-.2 3 1 3 1.5 3 1.2 3 2.7 3-3.2 3-3.6 3 1.3 3 2.8 3 .4 3-.5 3 4.7 3 1.9 3-6 3 2.9 3-3.3 3-.7 3 2.2 3 2.2 3-.9 3 5.8 3-2.5 3-1.4 3 2.8 3-1.7 3 0 3-.6M214 2461.2l3 .8 3 .4 3 6.5 3-5.5 3-2.1 3 3.3 3 .3 3-2.9 3 5.8 3-4.4 3-12.4 3 0 3 9.9 3 1.7 3 4 3-2.3 3 3 3 7.9 3-3.6 3-2.6 3-1 3 1.1 3 0 3 2.2 3-3.7 3 .1 3-1.3 3 1.6 3 1.4 3-1.9 3 2.4 3-6.2 3-.2 3 1.5 3 .9 3 2.7 3-2.6 3-.9 3 4.9 3 2.4 3-1.1 3 .2 3-2.4 3-2.5 3 .4 3 0 3-4.5 3 5.1 3 2.5 3-3.7 3-4 3-4.8 3 5.2 3 5.2 3-4 3 .3 3 1.8 3-6.5 3 3.1 3-.1 3-4.9 3-3.8 3-.9 3 .5 3 1.8 3-2.2 3-3 3 .9 3 1.6 3-.2 3-2.5 3 0 3-.4 3-4.3 3 1.6 3 .9 3-3.3 3 .5 3 4.9 3-4.9 3-3 3-3.2 3 3 3-5 3-2.5 3 3.3 3 .1 3-3.6 3-3 3 .8 3-1.2 3-5.3 3-.6 3-1 3 3.9 3 2 3-5.4 3-2.8 3 1.9 3-2.1 3 5.6 3-4 3-4.2 3 3.3 3-3 3 2.2 3-3.3 3-.6 3-.2 3-5.6 3-.7 3-4 3 2.3 3 3.8 3-6.1 3-4.1 3-8.8 3 .8 3-1.2 3 1.6 3 .9 3-7.1 3 1.8 3-2.8 3-2.6 3-1.8 3 1.6 3-3.2 3-5.7 3-1.7 3 2 3-.8 3-6.5 3 2.4 3-2.1 3-.4 3-5.2 3-2.9 3-2.7 3-3.8 3 2 3-2 3-4.2 3-5.8 3 4.8 3-1.5 3-1.8 3 5.2 3-4.5 3-5.7 3 1.7 3-4.6 3-2.9 3-1.9 3-6 3 .1 3 4.6 3-5.2 3-5.1 3-3.8 3-1.3 3-3 3-3.7 3-3.2 3-2.9 3-1.8 3-1.5 3-4.2 3-1.8 3-3 3-3 3-5.1 3-3.5 3-6.2 3 .2 3-3.8 3-6.5 3 .2 3-9.6 3-2 3-2.4 3-12.2 3-8 3 3.1 3-4.5 3-8.5 3-1.9 3-2.1 3-5.4 3-4.6 3-3.1 3-3.4 3-6 3-5.3 3-3.2 3-3.6 3-3.5 3-3.5 3-3 3 1.3 3-4.3 3-3.2 3-1.5 3 .9 3-.5 3-2.3 3 1.8 3-1.3 3-.2 3-.5 3-.3 3 4.1 3 3.2 3-1.3 3-1.3 3 2.2 3 4.7 3-2 3 5.1 3-.6 3 2.1 3 2.1 3 .6 3 2.4 3 2.6 3 .7 3 3.4 3 3.6 3 5.4 3 2.1 3 7.6 3 1.4 3 4.3 3 1.3 3 0 3 5.8 3 2 3 6.4 3 2.2 3 0 3 5.2 3-.1 3 3 3-1.6 3 1.3 3 3.2 3 .4 3 4.2 3-.2 3 4.5 3 0 3-3.1 3 6.5 3 .9 3 2.3 3 2 3 1.7 3-1.7 3 .1 3 1.1 3-.3 3 6.6 3-1.1 3-.6 3 3 3 .7 3 1.1 3 1.6 3 5.1 3-3.5 3-1.8 3-.6 3 6.2 3-5.9 3 .9 3 4.8 3-3.5 3-.3 3-.4 3 .2 3 2.8 3 2.8 3 1.4 3-1.3 3 .7 3-4.2 3 1.5 3-.8 3-2.1 3-2.9 3 2 3-6.1 3-1 3 .6 3 4.7 3-1 3-8.9 3-2.6 3 3.7 3-7.6 3-5.1 3 .1 3-3.2 3-8.7 3-5.4 3-1 3-5.6 3-1.8 3-5.3 3-6.5 3-1.9 3-7.2 3-8.6 3-1.9 3-3.5 3-6.2 3-12 3-3.8 3-4.6 3-7.4 3-11 3-6.3 3-8.2 3-4.9 3-7.6 3-7.9 3-3.3 3-4.8 3-8.1 3-3.6 3-8.9 3-1.9 3-2.4 3-4.4 3-1.9 3-2.3 3 3.5 3-1.1 3 3 3 1.7 3 6.8 3 8.4 3 4.3 3 11.8 3 9.6 3 11.1 3 11.9 3 16.6 3 17.2 3 16 3 16.9 3 13.8 3 20.1 3 18 3 14.8 3 13.8 3 13.9 3 15.7 3 7.2 3 7.5 3 15 3 8.3 3 7.5 3 6.7 3 5.8 3 9.1 3 4.5 3 5.3 3 2.1 3 4.9 3 2.8 3 2.9 3 5.1 3 4.6 3 4.5 3 4.8 3 3.4 3 2.6 3 1.4 3 2.1 3 1.1 3 .8 3 1.3 3 2.5 3-1.9 3 3.1 3 5 3-.9 3-.9 3 7.7 3-1.1 3-3.2 3 2.5 3-2.1 3 2.4 3-.2 3 6.7 3-5.5 3-2.1 3-1.1 3 .6 3 4 3 .2 3 4.9 3-1.6 3 2.9 3 .4 3-3.3 3 .3 3 3.4 3-.2 3-1.5 3 2.6 3-2.1 3 3.7 3-3.9 3 .2 3 1.9 3 6.8 3-2.3 3 1.5 3 1.3 3-3.9 3 5.1 3 2.3 3-.7 3-.5 3 1.1 3-2.4 3-5.7 3 7.6 3 2.8 3-5.2 3-.4 3 4 3-2.9 3-.1 3 5.9 3-1.7 3 3.9M214 2445.7l3-.2 3-3.6 3 8.8 3-1.1 3-2.2 3 .5 3-.9 3-.3 3-2.8 3 2.5 3-5.1 3 2 3 5 3 1.3 3-2.7 3-3.4 3 7.4 3-.9 3 1 3 1.5 3-2.5 3 2.4 3 3.3 3-4.9 3 .1 3 .4 3-.8 3 .7 3-1.4 3-1.3 3 1.7 3-.8 3-2.8 3 4.5 3 .2 3-4.9 3-1.6 3 4.4 3 1.4 3-3.7 3 4 3 .1 3-3.3 3-.3 3 4.3 3-1.8 3-.3 3-2 3-4 3 1.2 3-1.3 3 .5 3 .9 3 3.8 3-.2 3-2.4 3-5.4 3-2.7 3 2.2 3 1.7 3-1.4 3 .8 3-5.6 3-1.9 3-2.7 3 5.7 3 3.3 3-3.7 3-1.2 3-1.3 3-2.3 3-4.6 3 2.6 3-2.4 3 .6 3-2.9 3 1.4 3-.2 3-2.9 3 0 3-.3 3-5.2 3 2 3 4.5 3-4.5 3-3.9 3-4.1 3 3.5 3-1.9 3-4.6 3-1.9 3-2.6 3 1.5 3-.1 3 0 3-2.8 3 4.7 3-1.3 3 1.4 3-5.2 3 3.8 3-2 3-2.6 3 3 3-2.4 3-2.1 3-1.7 3 1.2 3-3.1 3-.6 3-1.6 3-3.2 3-3 3-.9 3-6.5 3-.7 3 2.1 3-1.4 3-4.8 3-.1 3-3.7 3 1.7 3-2.9 3-7.1 3 4.4 3-2.5 3-2.9 3 3.4 3-6.2 3-5.9 3 2.8 3-6.1 3 0 3-.7 3-1 3-4.7 3-6.6 3-.2 3 2.3 3-7.3 3 4.1 3-4.8 3-4.9 3 2.8 3-.6 3-5.8 3-.7 3-.6 3-1.4 3-.1 3-1.4 3-3.3 3-4.8 3-1.5 3 2.5 3-2.6 3-.4 3-2.9 3-2.9 3-1.3 3-2.3 3-4.1 3-4.8 3-2.6 3-1.2 3-.5 3 .4 3-4.8 3-8.4 3-1.3 3 .2 3-6 3-8.2 3 .5 3-3.2 3-5.6 3-4.9 3-4.7 3-5 3-.9 3-8.7 3-5.6 3-1.4 3-1.9 3-5.9 3-1.4 3-9.4 3-1.2 3-5.1 3-2.8 3-6.4 3-3.3 3-6 3-.7 3-9.1 3-4.3 3 2.6 3-4.7 3-3.5 3 1.3 3-9.4 3 .3 3 .3 3-5.1 3 3.2 3-.4 3 1.2 3 0 3-2.7 3-1.3 3-1.3 3 4.5 3 2.6 3-1.8 3-.5 3 1.8 3 1.1 3 1.4 3 1 3 4.2 3 .3 3 .4 3 2.5 3 1.8 3 3.4 3 2.3 3 3.1 3 4.8 3 3.7 3 5.1 3 3.6 3 1.7 3 1.6 3 4 3 4.8 3 1.9 3 2.5 3 3.9 3-1.8 3-.2 3 9.3 3 1.4 3 4.5 3 4.8 3 .7 3-2.4 3 .6 3 4.4 3 .6 3 2.9 3-1.9 3 2.5 3 4 3 .4 3 1.8 3-2.2 3-.7 3 3 3 2.2 3 1.3 3 .2 3 4.4 3 3.5 3-1.4 3-2.2 3-2.1 3 1.1 3 3.4 3 3 3 .1 3-.6 3-1.3 3 .8 3 4.1 3-2.1 3-5.3 3 7.4 3-.1 3 1.5 3-2.5 3-.3 3 1.4 3-.5 3 1.4 3-2 3 3.2 3-3.6 3 1.1 3 4.2 3-6.2 3 1 3 .8 3-4.7 3-5.4 3-1.7 3 .7 3-3.4 3 3.1 3-3 3-10.7 3-4.2 3-1.4 3-5.4 3 .9 3-.5 3-9.5 3-5.6 3-7.1 3-1.9 3-3.9 3-2.6 3-4.8 3-1.9 3-7.9 3-10.3 3-5.4 3-4.2 3-7.3 3-7.3 3-11.4 3-8.2 3-5.4 3-3.7 3-7.7 3-9.3 3-6.6 3-3.7 3-7.1 3-7.3 3-4.5 3-2 3-6.1 3-8 3 .5 3 2.2 3 1.4 3-1.1 3 3.7 3-.9 3-3.1 3 6.4 3 7 3 7.1 3 9.5 3 10 3 15.1 3 15.1 3 11.6 3 17.8 3 19.3 3 12.1 3 19.2 3 17.8 3 15.7 3 12.1 3 16.2 3 17.3 3 8.5 3 13.8 3 8.7 3 6 3 10.1 3 8.8 3 7.9 3 .4 3 9.5 3 8.1 3 4.9 3 6.9 3 2.2 3 8.5 3 7.3 3 1.9 3 1.1 3 4.9 3 8.2 3 .2 3-.6 3 6.5 3-2.4 3 3.2 3 2.1 3-1.3 3 .1 3 4.5 3 2.7 3 .4 3 1 3-.3 3 2.4 3-.2 3-1.3 3 5.7 3 0 3 .2 3 2.4 3 .5 3 .2 3-1.9 3-3.2 3 3.9 3 6.9 3-2.8 3-4.3 3 6.9 3 2.5 3 .7 3-3.5 3-.9 3 4 3-1.8 3 .2 3-2.7 3 1.1 3 4.2 3 .3 3-1.6 3 1.4 3 1.2 3 .8 3 1.6 3 2.6 3-1.6 3 3.9 3-3.5 3-2.6 3 2.5 3 3.7 3-1.8 3-2.1 3 .4 3-.5 3 .2 3 2.5 3 2 3 1.6 3-1 3-1 3 7.8 3-4.4M214 2430.8l3-3.2 3-4.9 3 3.9 3 2.3 3 4.5 3-3.6 3-2.7 3-3.5 3 3.8 3-6.2 3-5.5 3 4.5 3 1.4 3 2.2 3 8 3 3.8 3-2 3-5.7 3 1.2 3 5.6 3 3.1 3-3.5 3-4.4 3 .2 3 1.6 3-2.3 3 3.6 3 3.3 3-2.2 3-4.9 3-1.4 3 .2 3-1.5 3 .2 3-1.5 3 1.8 3 3.6 3-.2 3-.7 3-.9 3 3.1 3-1.2 3 .2 3-4.3 3 3.8 3 .4 3 1.1 3 .6 3-2.1 3-5.1 3-2.8 3-4.1 3 5 3 .8 3 .3 3-.2 3 4.7 3-6.2 3-5.1 3 .9 3-1.3 3 2.1 3-2.9 3 1.2 3 .1 3-4.1 3 2.1 3 .9 3 .8 3-5.6 3-3.2 3 1.9 3 2.6 3-.4 3-1.7 3-.1 3-4.9 3-1.2 3 .7 3 .8 3-1.6 3-3 3-.4 3-2.4 3 3.3 3-1.2 3-4.6 3 3 3-3.2 3-2.8 3-.2 3-4.4 3-2 3 .1 3-1.9 3 2.6 3-.9 3-2.9 3-2.5 3 3.1 3 1.3 3-7.7 3 4.7 3 4.6 3-5.2 3 2.3 3-.6 3-2.9 3-.1 3-1.1 3-4.9 3 2.2 3-7.1 3-.4 3 0 3-4.4 3-2.3 3-.8 3-5.5 3-2.3 3-1.1 3 2.2 3-1.3 3-2.2 3-2.5 3-3 3-4 3 .4 3 1.5 3-3.4 3-2.4 3-1.7 3-1.8 3-5.4 3-.6 3-2.8 3-.3 3-1.1 3-3.2 3-5.9 3 .8 3 2.9 3-2.7 3-3.2 3-2.6 3-5.1 3 4.2 3 1.6 3-6.1 3-3.5 3 .3 3 1.3 3-4.4 3-2.8 3-3.6 3-2.1 3-1.7 3-1.4 3-4.4 3-2.1 3 3.8 3-4.7 3-7.6 3 2.9 3-5.2 3-2.9 3-3.4 3-1.8 3-3.3 3-7.4 3-2.9 3-1.9 3-.8 3-5 3-3.1 3-8 3-1.8 3-2.6 3-7.6 3-6.4 3-3.7 3-4.6 3-3.2 3-5 3-5.9 3-2.9 3-5 3-3.5 3-5.4 3-3.9 3-3.9 3-1.9 3-4.4 3-9 3-2.3 3-.3 3-5.5 3-4.8 3 1.9 3-3.2 3-4.8 3 0 3 3.7 3-2.1 3 1 3-2.6 3-2.8 3 1 3-2.4 3 1.3 3 3.2 3 1.1 3-5.5 3 4.7 3-1.2 3-.6 3 4.1 3 .3 3-3.9 3 1.4 3 7.9 3-.4 3 .6 3 6.8 3 6.5 3 2.9 3-3.8 3 4.8 3 6 3 3.7 3 .4 3 .6 3 1.9 3 8 3 3.7 3 2.3 3 1.7 3 3.1 3 4.7 3 .1 3 2.4 3-1 3 5.2 3 3.4 3 1 3 .5 3-.3 3 .6 3 5.2 3 4.5 3-.6 3 0 3 1.5 3 .6 3-2.9 3 6.1 3 2.7 3-.2 3 3.5 3 .6 3 1 3 1.2 3 2.7 3 .9 3 1.1 3-.2 3 .9 3 2 3 4.1 3 .9 3-4.5 3-1.3 3 1.6 3-.8 3 1.7 3 2 3 5.1 3-2.8 3-3.6 3 2.1 3 .3 3-3.8 3 5.1 3 1.1 3-.2 3 0 3-8.1 3 1.9 3-2.2 3-2 3 .5 3 2.6 3-2.3 3 1.3 3-4.7 3-.8 3-5 3-3.8 3-2.4 3 .6 3-4.1 3-3.7 3-3.8 3-7.7 3-1.9 3-4.6 3-3.9 3-4.6 3-2.3 3-3.2 3-7.9 3-2.9 3-2 3-7.3 3-7.7 3-7.3 3-3 3-13.4 3-2.6 3-4.1 3-12.5 3-6.5 3-7.5 3-5.6 3-5.8 3-9.4 3-6.7 3-6.3 3-5 3-6.8 3-5.3 3-.3 3-2 3-2.5 3-6.2 3-.9 3 1.3 3 2.1 3 4.1 3 4.4 3-1.4 3 8.1 3 9.8 3 3.7 3 15.6 3 13.2 3 15 3 9.4 3 20.7 3 17.2 3 12.2 3 20.2 3 15.8 3 17.1 3 17.8 3 11.9 3 11 3 13.1 3 9.7 3 12.2 3 7.8 3 6.1 3 5.5 3 11.1 3 7.3 3 8.6 3 5.3 3 2.4 3 5.6 3 12.2 3 5 3 5.4 3 2 3-1 3 8.9 3 3.8 3-3.3 3 1.5 3 6.2 3-.3 3-3.4 3 6.6 3 3.7 3 .7 3 2.3 3 .7 3 1.1 3 2.2 3 1.1 3 3.9 3 2.8 3-1.3 3-3.8 3 .9 3-.1 3 1.4 3 .8 3-1.5 3 .7 3 4.7 3 2.9 3-4 3 3.5 3-3.3 3-.6 3 5.3 3-3.9 3 2.7 3 4.9 3-3.5 3 3.5 3 .6 3 .4 3 .3 3 1.8 3-2.8 3-.6 3 2.4 3-1.9 3-1.8 3 7.1 3 0 3 2.4 3 1 3-4.8 3 4.2 3-4.8 3 4 3 5.8 3-5.1 3-1.8 3-1.7 3 .6 3 4.1 3-4 3 2.2 3 8.2 3-2.4 3-3.1 3-3.9M214 2403.8l3 1.9 3 5.6 3 1.2 3 3.4 3-5.1 3-1.1 3 2.2 3 1.7 3-1.2 3-6.8 3 .8 3 4 3-2.1 3 6.9 3 1.5 3-1 3-1.6 3-1.4 3 1.2 3 5.2 3 .3 3 2.3 3-5.1 3-1 3-1.4 3-1.2 3 3.4 3 3.6 3-6.9 3 .1 3 .9 3-3 3 3.8 3-6.2 3 2.9 3-4.1 3 1.6 3 3 3-3.4 3-.2 3 5.5 3-.6 3 3.4 3-7.3 3 .1 3 5.5 3 2.8 3-3 3-.8 3-4.5 3-.4 3-3.7 3 1.7 3 1.9 3-2.7 3 1.7 3 .8 3-3.2 3-3.9 3-3.2 3-1.5 3 3 3 2.4 3-3 3-6.7 3 .2 3 .9 3 .4 3 5.2 3-2.3 3-1.8 3-7.2 3 1.2 3 2.5 3-8.8 3 2 3 7 3 3 3-5.2 3 .1 3 1.2 3-3.7 3 2.6 3-3.3 3 .4 3-6.8 3 1.4 3-3.6 3-3.4 3-1 3-.5 3-1.3 3 .1 3-2.6 3-.7 3 1.5 3-1.1 3 1.8 3-1.9 3-3 3 4.5 3-2.3 3-.8 3-.5 3-.1 3-.6 3-1.1 3 .5 3-1.6 3-3.7 3-3.6 3-1.3 3 3 3-4.3 3-6.4 3 .9 3-.7 3-8 3-1.4 3 3.2 3-3.3 3-5.2 3-2.4 3 1.9 3-2.9 3 1.4 3-3.2 3 1.8 3-5.1 3 0 3-2.6 3 2.2 3-7.6 3-2.8 3-.8 3-3.3 3-3.5 3-1.7 3-2.3 3 3.9 3-3.2 3-4.5 3-2.2 3-.4 3-1.6 3 .2 3-3.4 3-5.1 3 1.9 3-5.1 3-4 3-5.4 3 1.2 3 2.3 3 1.1 3-6.6 3-3.4 3-.2 3-.2 3-4.4 3-5.1 3-2.2 3-3.1 3 .5 3-1.4 3-1.9 3-2.5 3-5 3-5.9 3-3.4 3-2.3 3-.5 3-8 3-.6 3-2.2 3-3.7 3-6.8 3-5.8 3-3.3 3-3 3-1.8 3-4.3 3-8.9 3-3.6 3-5.2 3-6.1 3-4.2 3-1.1 3-8.3 3-4.1 3-3.2 3-2.6 3-7.6 3-2.2 3-5.5 3 1.3 3-4.1 3 .4 3-5.4 3-8.3 3 .2 3 0 3-1.7 3 2.2 3-1.3 3-3 3-.9 3-1.9 3-1.5 3 1.4 3 2.9 3 2.5 3-.1 3-.8 3 2.7 3 2.2 3 1.8 3-.1 3-.3 3 3.1 3 3.9 3-.4 3 1.4 3 .7 3 3.4 3 2.7 3-2 3 5 3 7.2 3 6.1 3-1.4 3 .4 3 12.4 3 3.1 3 .3 3 2.5 3 3.5 3 1.7 3-.4 3 4.8 3 .2 3 2.4 3 5 3 0 3 .9 3 7.5 3 .1 3-2.2 3 5.4 3-2.6 3 1.2 3 6.6 3-.9 3-.3 3 .8 3 2.5 3 8.8 3-2.1 3-1.6 3 .7 3 5.2 3-1.5 3-3.1 3-2.9 3 4.3 3-.8 3 11.1 3-4 3 0 3-1.8 3 .9 3-.5 3 1.8 3 2.3 3-.6 3 1.3 3-.2 3-2.5 3 0 3 6.7 3 .6 3-2.1 3-2.2 3 1.7 3 2.3 3 .5 3-4.2 3-2.2 3-2.9 3 6.7 3-2.8 3-1 3-.1 3-5 3-1.8 3-.8 3-1.8 3-6.3 3-2.7 3-.4 3-2.2 3-4.2 3-7.4 3-.9 3-5 3-6.6 3-8.1 3 1.3 3-4.3 3-4.8 3-6.5 3 3.7 3-8.5 3-7.2 3-3.6 3-7.2 3-7.1 3-9.7 3-8.6 3-4.3 3-4.3 3-12.6 3-5.6 3-6 3-7.7 3-8.2 3-4 3-8.2 3-3.7 3-5.8 3-1.3 3-8.5 3-4.5 3-.3 3 .5 3 .2 3 .7 3-2.3 3 2.2 3 .1 3 3.4 3 9.6 3 4.1 3 8.4 3 14.1 3 10.8 3 16.2 3 20.4 3 14.9 3 14.9 3 12.6 3 17.2 3 18.6 3 18.3 3 14.8 3 14 3 15.3 3 9.3 3 9.8 3 6.1 3 8.8 3 9.7 3 7.2 3 13.1 3 3 3 7.3 3 6.4 3 4 3 5.6 3 9.4 3 1.8 3 1.4 3 3.8 3 7.1 3 2.4 3 6.9 3 .3 3 4.6 3 4.7 3 4 3-3.7 3 6.6 3 .1 3-.4 3 1.3 3-.7 3-.1 3 1.2 3 4.5 3-.5 3 3.5 3-1.7 3-1.4 3 2.7 3-1.8 3 2.1 3-2.1 3 1.2 3 4.7 3 3.1 3-3.4 3-.4 3 .8 3 .4 3 .1 3 .3 3 2.5 3 4.1 3 1.1 3-6.5 3 2.2 3 7.9 3 2.4 3-3.8 3-2.7 3 .7 3-.8 3 4.5 3-4 3 3.2 3 1.1 3 2.1 3-4.6 3 1 3 2.2 3 .2 3 .4 3 3.5 3 .9 3-1.8 3-1.7 3 2.3 3 5.1 3-7.8 3 .5 3 4.4 3 .8 3 4.4 3-1.9 3-.8M214 2390.8l3 1.8 3 1.8 3 .6 3-.4 3-.5 3 4.5 3-1.9 3-1.8 3-1.6 3-5.4 3-5.2 3 5.9 3 2.5 3 3.1 3 1.7 3 1.5 3-2.3 3 1 3-.4 3-1.8 3 4.1 3 2.2 3-4.1 3-3.2 3-.1 3-.7 3 2.6 3-2.3 3 2.7 3 1.9 3 .2 3-1.5 3-5.2 3 4 3 .3 3-5.9 3 2.2 3 3.8 3-3.8 3 2.9 3 2.8 3-1.9 3-.1 3-3.9 3 1.9 3 3.6 3 .4 3-.7 3-5.7 3 .8 3 0 3-3.9 3 .5 3 6.4 3-1 3-4.4 3-1.1 3-6.3 3-2.7 3 .9 3 4.6 3-4.6 3-3.2 3 0 3-1.9 3 2.8 3-2.9 3-3.3 3 .9 3 .2 3 4.2 3-.4 3-5.6 3-2.1 3 .1 3 .7 3-2.2 3 1 3-1.7 3 2.9 3 .3 3-3.8 3 1 3 2.1 3-1.5 3-7.4 3-2.9 3-1.3 3-1.4 3-.6 3-.4 3 2.9 3-5.9 3-2.7 3 2.3 3 5.5 3-5.5 3-4.6 3 1.5 3 3.7 3 1.7 3-3.4 3-3.2 3 4.5 3-3.9 3 3.4 3-6.3 3-4.2 3 3.2 3-2.1 3-1 3 .8 3-8.2 3-.7 3-1.5 3-.1 3-4.8 3-2.4 3-4.7 3 .9 3 3.8 3-.1 3-3.7 3-2.7 3-9.3 3-2.7 3 .7 3-1.3 3-2.4 3 3.4 3-.5 3-2.6 3-.3 3-.2 3-3.1 3-7.9 3-3.4 3 .9 3-2.2 3-3.8 3-4.9 3-1.9 3-1.6 3 1.5 3-2.2 3 1.6 3 .4 3-6.6 3-2.3 3-.4 3-1.6 3-1.3 3 2.2 3-.7 3-3.5 3-7.8 3-3.6 3 2.2 3 .9 3-7.4 3 .8 3-6.5 3-4.5 3-1.7 3-3.2 3-.1 3-.7 3-6 3-.2 3-6.4 3-.8 3-5.6 3-2.5 3-3 3-1.3 3-5.9 3-1.5 3-8.7 3-6.4 3-5.1 3-6.3 3-4.5 3-1.8 3-7 3-3.3 3-2.6 3-5.1 3-2.1 3-7.7 3-5.2 3-5.2 3 .5 3 .4 3-6.5 3-6.2 3-2.5 3-.8 3-6.2 3-3.3 3 3 3-1.4 3-1.7 3-5.1 3-1 3-1.6 3-8.1 3 4.3 3 1.3 3 1.8 3-1 3 .3 3 2.3 3 2.9 3 .2 3-2.4 3 2.1 3 1.1 3 .6 3-3.8 3 9.1 3 1 3 1.4 3 2 3-2.7 3 6.9 3 3.8 3 2.1 3 2.1 3 6 3-2.4 3 8 3 2.1 3 6.5 3-.1 3-.5 3 3.7 3 10.3 3 3.6 3-2.3 3-2.1 3 7.7 3 2.7 3-.9 3-3.6 3 9.4 3 3.9 3-2.3 3-1.8 3 3.4 3 5.5 3 .4 3 1.1 3 .7 3 1.6 3-1.4 3 2.4 3 5 3 3.2 3-.2 3-2.8 3-1.8 3-.4 3 4.6 3 3.8 3 5 3-3.2 3 1.5 3 2.3 3 .6 3-2.7 3 .1 3 3.8 3 1.4 3-1.7 3 2.6 3-5.6 3 3.4 3-.5 3 1.4 3 2.9 3-.7 3 .4 3 3.1 3-3.1 3-1 3-1.5 3 1.5 3-2.9 3-3.2 3-3.5 3 4.5 3-1.3 3 .1 3 2.5 3-6.3 3-3.5 3-2 3 3.6 3-3.6 3-7.7 3-2.1 3-8.8 3-.7 3-2.5 3-5 3-8 3-2.6 3-2.9 3-8 3 1.6 3-7.7 3-3.5 3-8.8 3-.8 3-6.5 3 .8 3-8.6 3-9.2 3-6.6 3-8.9 3-9.8 3-3.6 3-7.6 3-7.2 3-9.9 3-4.1 3-5.5 3-9.2 3-9.8 3-1.1 3-4.4 3-5.4 3-.2 3-7.3 3-2.1 3 4.8 3-4.9 3 2.5 3-1.1 3 6.4 3 4.6 3 7.2 3 1.5 3 8.6 3 12.4 3 13.8 3 17.8 3 15.3 3 15 3 16.2 3 17.7 3 18.4 3 16 3 12.4 3 15.4 3 13.7 3 18.2 3 3.9 3 9.9 3 13 3 9.2 3 10.1 3 6.3 3 9.3 3 6.9 3 7.2 3 6.1 3 3.6 3 2.9 3 9.7 3 5.5 3 8 3 .7 3 3 3 6.1 3 .1 3 1.2 3 3.9 3 6.4 3-.8 3 1.6 3 5.6 3-1.3 3-3.2 3 6.8 3 2 3 .3 3 1.3 3 4.3 3-.9 3-.3 3 1.3 3 2.4 3-2.6 3-.6 3 7.1 3 3 3-3.5 3-2.6 3 2.5 3-.7 3 2.5 3 .6 3-1.3 3 .5 3 1.9 3 3.7 3-5.1 3 .4 3 3 3 1.3 3-1.7 3 .5 3 1.9 3 2.3 3-2.9 3-.8 3 3.4 3 .1 3-1 3 .2 3 4.3 3 1.7 3 1.4 3-.8 3-2.6 3 1.5 3 4.8 3-4.4 3-2.3 3 .6 3 4.4 3-3.2 3 3.6 3 1.3 3-.7 3-1 3 .1 3 3.3 3 .1M214 2378.2l3-.1 3-4.4 3-1.4 3 3.4 3 4.4 3 4.1 3-3.9 3-.2 3 .6 3-4.4 3-8.7 3 9.1 3 3.1 3 1.4 3 1 3 .4 3-2.5 3-7.9 3 8.1 3 2 3-4.6 3 1.9 3 1.5 3 1.3 3 .1 3-2.8 3-3.9 3 .5 3-2.1 3 1.8 3 .9 3 .2 3 1.9 3-1.5 3-2.9 3 1.1 3 1.4 3 2.2 3 .9 3 .3 3-.2 3-2.4 3 1.7 3-.5 3-4.5 3 0 3 5.4 3-1.7 3-5.5 3 .6 3-1 3 .9 3-5.1 3 2.8 3-1.8 3 1.4 3 3.3 3-6.8 3-4.2 3 1.3 3-1 3-5.2 3-2 3 1 3-6.3 3 1.3 3 2.4 3-1.9 3 7 3-3.5 3-.5 3-2 3-1.6 3-3 3 2.3 3 0 3 .4 3 1.3 3 0 3-2 3-.1 3 2.3 3-4.4 3-.7 3-1.8 3 1.2 3-6 3-2 3-5 3 5 3 0 3-1.4 3 .5 3-3 3 .2 3-4.1 3-3.1 3-3.1 3 3.2 3 2.4 3-.3 3 2.2 3-2.5 3 3.6 3-1.6 3-1.4 3-.8 3 3 3 .8 3-7.8 3 .3 3-3 3-3.8 3-3.5 3-3 3 1.6 3-2.8 3-4.8 3-3.4 3-1.3 3 1.9 3-5.6 3 .7 3-.3 3-6.2 3-.2 3 0 3-.7 3 .1 3-1.2 3-6.9 3-1 3-4 3 1 3-.5 3-1.3 3-1.2 3-3.9 3-1 3-5.5 3-1.7 3-2.6 3-3 3 .6 3-.2 3-3.4 3 .7 3-1 3-2.5 3-4.2 3-3.1 3 .8 3-3.1 3-2.5 3 .3 3-.4 3-6 3-6.8 3-2.6 3 2.5 3-1.8 3-2.8 3-2.2 3-2.9 3 2 3-7 3-3.5 3-.5 3-2.3 3-3.5 3-7.8 3-2.2 3-6.1 3-9 3 2.5 3-4.4 3-3.1 3-7.7 3-1.7 3-5.2 3-4.3 3-6.4 3-6.2 3-.6 3-8.8 3 0 3-4.6 3-6.8 3-3.7 3-2 3-.6 3-6.3 3-4.5 3-7.6 3-5.6 3 .8 3-2.8 3-1 3-4.2 3 .7 3-2.7 3-5 3-2.6 3-2.2 3 7.5 3 1.9 3-1.2 3-3.5 3-2 3-4 3 1.8 3 4.6 3-3.2 3-2.1 3 2 3 8.9 3-.3 3 1.2 3 0 3-1.7 3 5.9 3 2.3 3-.8 3 4.1 3 .7 3-1.3 3 1.3 3 5.7 3 4.4 3 5.4 3 3.7 3 3.3 3 4.6 3 3.5 3-2.4 3 .7 3 5.8 3 8.3 3-2.7 3-1.2 3 5.3 3 1.7 3 3.2 3 2.1 3 2.6 3 0 3 2.7 3-.3 3 1.1 3 1.9 3 1.8 3 .7 3 5 3 3.3 3-4.3 3 .3 3 1.1 3 3.3 3 0 3 .7 3 5.7 3 2.5 3-.3 3-2.5 3-.1 3 .3 3 5.2 3 3.1 3 3.2 3-2.8 3-1.1 3 1.3 3 2.2 3-1.9 3 1.1 3 2.7 3-.9 3-3.1 3 3.5 3 4.4 3-4.4 3-5.6 3 1.3 3 5 3 3.2 3-1.9 3-1.3 3-3.2 3 1.6 3-3.1 3 .2 3-4.4 3 2.3 3 3.5 3-2.8 3-2.3 3-1.9 3-5 3-4.4 3-3.2 3-4.8 3-5.4 3-3.3 3-3.6 3-3.7 3-3.9 3-2.7 3-5.4 3-5.4 3-4 3-2.3 3-5.2 3-4.1 3-7.5 3-3.6 3-5.3 3-9.2 3-7.7 3-5.3 3-7.9 3-8.7 3-6.8 3-6.5 3-4.6 3-8 3-8.1 3-5.1 3-10.1 3-5.1 3-3.6 3-3.4 3-8.8 3-1.8 3-.2 3-4 3 2.6 3-1.4 3 3.8 3 2.2 3-1 3-.9 3 8.5 3 9.1 3 8.1 3 9.8 3 15.1 3 14.2 3 17.3 3 17.7 3 16.2 3 13.8 3 16.1 3 18.3 3 15.4 3 14.4 3 14.4 3 9.2 3 14 3 9.7 3 5.9 3 5.5 3 13.4 3 13.5 3 4.9 3 7.9 3 8 3 3.5 3 6.1 3 10.8 3 2.3 3 5.3 3 6.7 3 2 3 5.5 3 6.7 3-2.7 3 2.4 3 4.4 3 3.2 3 6.6 3-.7 3 2.9 3 2.5 3-.2 3-1.4 3-2.3 3 1.6 3 4.2 3 5.2 3-.5 3-.2 3-1 3 3 3 1.6 3 .9 3-1 3-.4 3 1.8 3 3.7 3-2.7 3-.5 3 1.2 3-2.3 3 .4 3 4.5 3-1.1 3-.4 3 .4 3 3.2 3 1.9 3-.8 3-.4 3-1.3 3 1.4 3 8.5 3-2.4 3-5.9 3 2.5 3 1.1 3 .2 3 2.3 3 1.7 3 2 3-3.7 3-2.3 3 7.8 3-3.3 3 4.4 3-1.6 3-3.4 3 .1 3 2.5 3 3.2 3 2.9 3-1.5 3 1 3-.8 3 3.8 3-4.3 3-.4M214 2352.6l3 1.9 3-.6 3 4.6 3 5 3-4.6 3 2.2 3-2.1 3 .6 3 1.8 3-5 3-7.4 3 6.5 3 7 3 1.2 3-1.7 3-.2 3 1.8 3-1.2 3 .6 3-1 3 3.2 3 .7 3-5.3 3 1 3-3.4 3 .8 3 1.4 3-.9 3 2.1 3-.1 3-2.3 3 .7 3 3.6 3-4.9 3-.5 3 1.4 3-3.5 3 2.6 3-1.9 3 1 3-.1 3 1.5 3 1.4 3-3.1 3-2.7 3 4.1 3 1.5 3-2.3 3-4 3-2 3 3.2 3-5.3 3-3.4 3 1.9 3 1.7 3 4.8 3-5.7 3-.3 3-7.5 3 1 3-2 3-.4 3-3.8 3-2.7 3-5.6 3 2 3 3.5 3-1.7 3 2.2 3 2.3 3 6.9 3-1.9 3-5.2 3-2.8 3-3.6 3 2.2 3 .3 3-1.8 3 .7 3 2.8 3-2 3-.8 3 .6 3-2.1 3-1.4 3-2.3 3-4.8 3-1.6 3 2.4 3-1.9 3-4.8 3-1.3 3 .4 3 .8 3-1.9 3-.2 3-9.3 3-3 3 4.2 3 6.5 3 4.8 3-2.9 3-.6 3 .8 3-1.6 3-2.2 3-.6 3 0 3-1.1 3 .8 3-2.9 3-5.5 3-.2 3-.5 3 .3 3-7.5 3-1.8 3-1.8 3 0 3-5.9 3-2.7 3 2.4 3-3.1 3-1.9 3-.1 3-1.6 3-4.6 3 .4 3-5.2 3-.9 3-.1 3-.8 3 .2 3-4 3 .2 3-2.9 3-3.5 3-.1 3-5.9 3-4.6 3-1.5 3 2.3 3-5.7 3-.1 3 2.1 3-6.9 3-1 3-2.2 3-1.1 3 .5 3-3.2 3 1.7 3-5 3-2.8 3 .7 3 3.5 3-5.4 3-3.2 3-1 3-5.4 3-4.5 3-1.9 3-3.9 3-.1 3-.1 3-.8 3-6.5 3-4.2 3-1.9 3-3.9 3-1.7 3-2.1 3-5.6 3-7.6 3-3.3 3-2.4 3-1.4 3-9.4 3-4.9 3-8.6 3-.3 3 3.3 3-10.2 3-7.4 3-6.1 3-4.4 3-2.2 3-5.7 3-4.4 3-2.8 3-8 3-3.9 3-1.9 3-2.2 3-1.8 3-3.3 3-2.4 3-3.7 3-5.5 3-2.8 3-3.3 3-1.5 3 1.1 3-3.5 3 .5 3 2.8 3 2.1 3-1.7 3 1.3 3-4.7 3-1.1 3 1.1 3 .4 3 6.9 3-1.5 3-1.1 3 4.4 3 .4 3-.9 3 4.3 3 1 3 5.7 3 .7 3 .8 3 0 3-1.8 3 5.7 3 5.4 3 3 3 5.8 3 2.1 3 3.1 3 2.7 3 3.2 3 5.1 3 3 3-2.4 3 4 3 2.7 3 1.2 3 3.7 3 2.1 3 3.4 3 8.8 3-3.7 3-4.2 3 2.1 3 7.2 3 .7 3-3.4 3 6.7 3-2.9 3 4.5 3 1 3-2.2 3 2.6 3 .4 3 .5 3 1.2 3 4.3 3 3.1 3-4.3 3 4.6 3 1.4 3 .8 3 3.5 3-.8 3 .4 3-3.6 3 4.5 3 5.4 3-1.1 3-2.9 3-1.4 3-1.3 3 1.3 3-1.7 3 8.1 3 .4 3 .1 3-4 3 .1 3 8 3-3.2 3-4.3 3 4.5 3 .8 3-3.6 3-3.3 3-.8 3 .7 3 0 3-4.2 3-1.3 3-1.3 3-1.7 3-.6 3-.7 3-9.1 3-.3 3-3.5 3-.4 3-7.1 3-5.6 3-4 3-6.9 3-2.8 3-4.2 3-5.7 3-4.3 3-3 3-5.7 3-1.3 3-7.6 3-2.3 3-.5 3-5.1 3-10.8 3-9.5 3-7 3-6.1 3-7.3 3-11 3-8.4 3-6.3 3-8.6 3-3.7 3-5.3 3-5 3-6.5 3-2.3 3-4.7 3-6.6 3 .7 3-.1 3-4.7 3-.8 3 1.4 3 2.1 3 5.9 3 .4 3 5.6 3 6.2 3 3.4 3 14.4 3 17.8 3 14.3 3 17.4 3 16.5 3 20.6 3 14.2 3 15.2 3 14.8 3 18.2 3 15.6 3 10.7 3 13.4 3 11.5 3 4.2 3 9 3 11.2 3 5.9 3 8.6 3 7.5 3 4.7 3 10.7 3 14.3 3 4.1 3 2.6 3 5.4 3 3.9 3 2.1 3 5 3 6.1 3 3.1 3 2.6 3 4.4 3 2.2 3 4.3 3 1.1 3 3.7 3 1.3 3 2.5 3 5.8 3 1.6 3-.4 3-.6 3-2 3 2.8 3 2.3 3 .7 3 3.1 3-2.7 3 1.8 3 1.8 3 3.9 3-3.8 3-.5 3-2.7 3 3.6 3 6.6 3-4.1 3 1.6 3-1.8 3 1.7 3-.4 3 1.3 3 .6 3-.6 3 5.9 3-3.6 3-4.4 3 2.2 3 6.7 3 2 3-1.7 3 .4 3 .1 3-3.2 3 .4 3-1.9 3 4.1 3 2.2 3 6.1 3-3.7 3 .9 3-2.6 3-.4 3 1.7 3 .8 3 2.6 3-1.9 3 5 3 .5 3 .1 3-4.2 3 .9 3 .9 3-.7 3 5.2M214 2318.6l3 4.8 3 3.6 3 0 3-1.1 3 2.1 3-1.8 3 1.5 3-2.1 3-3.6 3-1.3 3-1.7 3-.9 3-.1 3 6.2 3 3.1 3-1 3-.4 3 1.7 3 1.4 3-3.4 3 .7 3 .6 3 .4 3-6.1 3 3.1 3-1 3-1 3 3.1 3 .7 3-3.2 3 3.2 3-.4 3-2.2 3 1.7 3-.3 3-4.6 3 .8 3-2.5 3 3.4 3 4.6 3 1.2 3 .9 3-.6 3-4.7 3-1.3 3 3.3 3 3.3 3-2.5 3-5.3 3-3.8 3-2.4 3 5.4 3-2.9 3 3.1 3-.3 3-4.6 3-5.4 3-2.9 3 4.6 3-2.9 3-2.8 3-.2 3-.5 3-3.3 3-2.1 3-8.5 3 1.2 3 6.1 3 3.5 3 .1 3 .8 3-.3 3-7.1 3-4 3 4.9 3 1.3 3-1.6 3-1.9 3 4.2 3 4.9 3-.8 3-2.4 3-2.8 3-.8 3-1.6 3-.6 3-3.5 3-4.2 3-2.8 3-.5 3 .1 3-3.8 3 1.3 3 4.4 3-2.9 3-5.1 3-2 3-2.6 3 .4 3 4.8 3-1 3-1.6 3-.5 3 .6 3 2.7 3-.9 3 2.7 3-4.4 3-1.1 3-.7 3-3.2 3-3.5 3 .6 3-2.4 3-3.2 3-2.5 3-3.7 3-3 3-5.1 3 0 3 1 3-5.1 3-6.5 3 3.1 3 4.8 3-2.8 3-2.6 3-5.9 3 .7 3-.2 3-1.5 3-3.6 3-.7 3-5.3 3 .3 3 3.7 3-5.2 3-4.6 3-6 3 .1 3-.6 3-6.4 3-.4 3 1.4 3-1.2 3 1.8 3-5.7 3 .4 3-2.8 3-2.9 3 .8 3-3 3-4.8 3-2.7 3 4.3 3-2.4 3-6.2 3 1.4 3-1.4 3-.6 3-3.5 3-6.3 3-4.4 3-7.9 3-.1 3-4.1 3-6.4 3-2.2 3-3.6 3 1.7 3-4.8 3-.6 3-1.8 3-9.4 3-6.2 3 1.1 3-2.2 3-3 3-7 3-1.1 3-8.4 3-2.4 3-7 3-2 3-4.9 3-9.5 3-7 3-2.6 3-.6 3-7.3 3 2.2 3-5 3-8 3-3.1 3-2.1 3-2.4 3-5.3 3-7.3 3 1.2 3-.9 3-2.2 3-2 3 .2 3-.9 3-2.1 3-1.8 3 .9 3 .6 3 .8 3 2 3 .9 3-1.1 3 .1 3 3.9 3 3.2 3-5 3 1.3 3-.7 3 2.3 3-.1 3 5.9 3 2.8 3 2.7 3 .7 3 0 3 3.5 3-.1 3 4 3 6.5 3 6.5 3-2.1 3 3 3 5.9 3 4.1 3 3.9 3 4.5 3 4.4 3-.3 3 .6 3 .6 3 2.8 3 5.5 3 2.3 3-1.7 3-.2 3 4.3 3 3.2 3-1.4 3 .7 3 2.6 3-3.5 3 3.6 3 3.8 3 1.3 3 1.3 3 4 3-1.1 3-1.6 3 5.4 3-1.6 3 8 3 1.3 3-1.6 3-1.7 3 1.3 3 2.3 3 2.9 3 3.8 3-1.2 3-4 3 3.7 3-1.1 3 .2 3 4.8 3 1.3 3-.6 3-2.2 3-.3 3 .9 3-2.6 3 1.6 3 .1 3 2.2 3-1.5 3 .8 3-2.9 3 1.7 3 2.7 3-2.3 3-3.5 3 1 3-1.1 3-6.3 3 .3 3-6.8 3 2.1 3 2.9 3-7.3 3-1.3 3-2.5 3-1.4 3-8.4 3-4.1 3-3.5 3-5.2 3-5.8 3-4.3 3-1 3-5.6 3-6.4 3-4.3 3-1.3 3-1.1 3-7 3-3.9 3-3 3-7 3-9.7 3-9.6 3-5.9 3-9.7 3-4.7 3-6 3-7.7 3-5.8 3-6.7 3-8.6 3-13.1 3-3.1 3-9.3 3-.5 3-6 3-3.1 3-2.1 3-.8 3-.6 3 .9 3 2.2 3 5.6 3-3.4 3 1.8 3 11.3 3 3.7 3 11.6 3 11.2 3 13.6 3 14.5 3 13.5 3 17.3 3 20.9 3 17.1 3 10.8 3 14.3 3 18.1 3 14.9 3 14 3 13.3 3 6.4 3 13.9 3 9.3 3 7.4 3 9.1 3 6.8 3 8.9 3 7.8 3 11.4 3-.7 3 10.6 3 10.4 3 2.4 3 6.4 3 3.1 3 .2 3 1 3 6.2 3 7.5 3-.7 3 2.1 3 4.7 3 6.5 3 .2 3 .4 3-.7 3 6.4 3 1.8 3 .1 3 1.9 3-2 3 2.5 3 1.3 3-1.7 3 1.8 3 3.3 3 .4 3 1.6 3-2.7 3 2 3-1.8 3 1 3 3.6 3 3.5 3 2.8 3-2.2 3-1.3 3-2.6 3 .4 3-.5 3 4.1 3 1.2 3 3 3-.7 3 1.9 3 .6 3-1.3 3-2.1 3 2.1 3-.8 3 .5 3 4.5 3-.2 3 .6 3-2.7 3 5.7 3 3.7 3-1.9 3-2.2 3-1.8 3-2.4 3 1.7 3 1.5 3 .3 3 3.1 3 .7 3-.5 3 1.1 3 0 3 4.7 3-4.9 3 .7 3-2.3M214 2306.3l3-.2 3 2.7 3 2.2 3-2.3 3 .9 3-3.1 3 2.7 3 1.1 3-4.9 3-2 3-5.9 3 2.5 3 5.7 3 6.3 3-4.3 3-2.5 3 3.5 3 .6 3-3 3 .1 3 3.1 3-.5 3 2.7 3-.1 3-7.7 3-1.7 3 3.8 3 3.1 3 .1 3 .1 3 2 3-3.9 3-3.5 3-.7 3-1.7 3-1.3 3 2.1 3 .5 3 3.6 3-1.9 3 4.2 3-1.7 3-4.8 3-.2 3 2.6 3 4.6 3 .2 3-2.2 3-1.9 3-4.8 3-2.2 3-3.1 3 2.1 3 5 3-.3 3-.2 3-.2 3-2.4 3-7.9 3-.4 3 .6 3-1.2 3-.7 3-6.9 3-3.6 3 .5 3 .8 3-.1 3 4.5 3 4.7 3-4.3 3-.8 3-2.9 3-4.3 3 .2 3 2.4 3 5.8 3-3.9 3-1.5 3 .2 3-3.4 3-.5 3 3 3-2.1 3-.4 3-1.5 3-4.2 3-4.7 3 2.6 3-2.8 3-4.4 3 .4 3 2.6 3 1 3-2.5 3-3.8 3-2.2 3-1 3 2 3 3 3 1.8 3 2.8 3-6.3 3 2 3 .9 3-2.7 3-1.7 3 1.9 3-5.1 3-.7 3-3.9 3 4.7 3-4.8 3-5.2 3-2.6 3-1.8 3-4.6 3-4.2 3 1.8 3-3.1 3 1.5 3-5.9 3-2.3 3-1.2 3 1.7 3-.9 3-4.3 3-3.8 3 1.2 3 2.3 3-1.5 3-9.9 3-.3 3 1.7 3-5.5 3 3.7 3-.9 3-5.5 3-5.4 3 1.8 3-4.7 3-2.7 3-.1 3-1.2 3-2.3 3-3.2 3-.5 3-4.7 3 5 3-.9 3-6.2 3-2.6 3 .6 3-3.2 3-2.4 3-2.8 3-3.1 3-.7 3 .9 3-7.4 3-1.2 3-.3 3-2.6 3-5.2 3 .1 3-7.7 3-4.3 3-3.9 3 1 3-5.7 3 1.1 3 .5 3-8.3 3-2.6 3-6.4 3-4.5 3-7 3-.5 3-6.5 3-1.1 3-12.1 3-4.6 3-.7 3-2.9 3-5.8 3-5.1 3-7.8 3-.3 3-6.6 3-3.3 3-1.8 3-8.3 3-1.3 3-2.2 3-4.8 3-4.1 3-6.7 3 1.4 3 .6 3-4.8 3-4.7 3 .3 3 2.2 3-2.3 3-3 3-.6 3 1.2 3 2.2 3-1.2 3-2.2 3-1.9 3 .7 3-.2 3 4.9 3-1.7 3 5.2 3 4.9 3-2 3 .6 3 4 3 4 3 3 3-3.4 3 3 3 4.3 3 6 3-1 3 6.5 3-1.1 3 3.2 3 10.6 3 .2 3 1.7 3-1.5 3 4.8 3 5.8 3-1.9 3 2.4 3 1.1 3 2.2 3 7.9 3 5.2 3-.8 3-2.3 3 4.7 3-.5 3 .1 3 1.7 3 2.7 3 4.5 3 .9 3-3.7 3 4.3 3 1.1 3 3 3 2 3 2.7 3-7.4 3 3.8 3 5.8 3-1.6 3 1.1 3 3.6 3 4 3-2.6 3-.1 3-2.1 3 8.1 3 4.2 3-.6 3-.6 3-1.8 3-1.5 3 5.9 3-.7 3-.6 3 .9 3 1.2 3 1 3-4.4 3-1.7 3-.2 3 4 3 2.2 3-1.1 3-.3 3-.2 3 1.4 3-6.6 3-5.5 3 4.9 3-4.5 3-1.3 3 6.9 3-4.7 3-6.9 3 .6 3-1.4 3-1.9 3-6.1 3-4.4 3-5 3-2.7 3-5.7 3-4.8 3-4.4 3-10 3-2.2 3-.3 3-3 3-4.2 3-2 3-5.4 3-1.4 3-8.6 3-6.7 3-4.2 3-8.6 3-7.8 3-9.6 3-9 3-3.3 3-5.8 3-5.4 3-12.9 3-4.6 3-6.3 3-9.2 3-9.9 3 2.7 3-4.4 3-7 3-5.4 3 .4 3-2.2 3-.3 3 1.6 3-2.4 3 5.4 3 1.1 3-.7 3 3.8 3 10.1 3 11.6 3 13.6 3 14.7 3 11.8 3 16 3 21.8 3 14 3 16.9 3 16.3 3 10.2 3 15 3 15.7 3 15 3 7.8 3 14.9 3 15.1 3 6.8 3 4.8 3 11 3 11.5 3 7.9 3 6.6 3 5.1 3 8.9 3 5.3 3 8.5 3 5.8 3 2.4 3 7.1 3 4.5 3 .4 3 2.9 3 4.5 3 5.8 3-2.4 3 .2 3 3.6 3-1.7 3 4.4 3 3.4 3 .4 3 1.3 3 1.3 3 6.2 3-.2 3-.8 3 5.2 3-2.8 3 2.3 3-1.3 3 .8 3 2.4 3-2.7 3 2.3 3 2.2 3 .4 3-3.7 3 2.5 3 2.9 3-.6 3 4.2 3 .6 3-1.4 3-3.9 3 6.3 3-3.8 3 .4 3 6.9 3 2 3-6.3 3 2.4 3 .6 3 .3 3-.7 3 1.6 3 2.9 3-2.2 3 2.7 3 .2 3-.3 3 .9 3-1.1 3 1.4 3-1 3-1.2 3 2.9 3 2.2 3 1.6 3-2.5 3-1.3 3 5.3 3-1.5 3 1.3 3 2.5 3 1 3 .8 3 2.3M214 2286.2l3 0 3-1 3 5.1 3 .9 3-.8 3-1.8 3 1.1 3 0 3-1.5 3-6.3 3-8.7 3 3.8 3 4.9 3 2.8 3 4.9 3 2.1 3 4.1 3-1.7 3-6.5 3-4.1 3 5.3 3 .9 3 1.5 3 2 3-4 3-3.6 3 3.4 3-.9 3 .3 3-4.7 3 2.8 3 3.5 3-1.1 3-4.1 3-.7 3 2.6 3-.4 3-2.9 3 4.8 3 1.5 3-.8 3 4.3 3-4.4 3-.2 3 1.8 3-3.9 3 5.3 3-.8 3-1.2 3-4.9 3-5.6 3-.6 3 2.3 3 3.9 3-2.9 3-1.6 3-2.7 3-2 3 .6 3-.5 3 .5 3-2.5 3-3.6 3 2.5 3-4.2 3-.2 3-1.5 3 .9 3 1.6 3-3.2 3-.5 3 4.7 3-6 3 3.6 3-.4 3-6.2 3 4.8 3-3.4 3-.9 3-3.9 3 3.3 3 2.5 3-.5 3-.2 3-5.1 3-1.2 3-.1 3-7.1 3 .5 3-2.7 3-1.4 3 .4 3-1 3 3.2 3-2.4 3-4.9 3 .5 3-3.3 3 1.1 3-.7 3 3 3-2.2 3 2.7 3-2 3-.3 3 1.5 3-3.9 3-1.3 3 1 3-.5 3-8.3 3 3.5 3-2.3 3 1 3-1.5 3-7 3 2.9 3-7 3 0 3-10.1 3 1.8 3 1.6 3 .3 3-4.8 3 2 3-1.2 3-6.3 3-.6 3-3.3 3-2.3 3 1.6 3-3.2 3 2 3-2.9 3-8.1 3-2.5 3 0 3-2.3 3-4.2 3 .3 3 1.4 3-2.1 3-7.1 3 .5 3 0 3-.2 3-7.9 3 .4 3-1.8 3-.7 3-.7 3-3.6 3-3.8 3 .2 3-4.8 3 .9 3 1.1 3-8.2 3-7.6 3-.8 3-.8 3-2.4 3 3.3 3-4 3-11.5 3-2.6 3 3.1 3-3.7 3-7 3-2.6 3-2.6 3 2.7 3-1.5 3-9.5 3-3.7 3-3.7 3-5 3-7.6 3-3.9 3 1.3 3-6.3 3-5.5 3-5.7 3-4.7 3-1.1 3-6.6 3-6.5 3-4.8 3-4 3-.4 3-5 3-3.2 3-3.6 3-3.9 3-5.5 3 .7 3-2.6 3-10.2 3-2.7 3 1.9 3-2.1 3 .9 3-.9 3-5 3-1.6 3-.4 3-.9 3-1.1 3 .6 3 2.8 3 3.5 3-2.9 3 0 3 .5 3 1.9 3 3.2 3 .9 3 3.6 3-3.2 3 .4 3 5.5 3 1.2 3 5.7 3-.9 3 0 3 9.4 3 1.9 3-1.6 3 5 3 7.1 3 5.3 3-.5 3-1 3 9.2 3 3 3 5.8 3 0 3 .1 3 1 3 5.2 3 4.1 3-5.4 3 7.5 3 2 3 1.9 3-2 3 5.1 3-.7 3 .7 3 6.3 3-.7 3 6.2 3 2.1 3-5.3 3 3.4 3 2.6 3 3.4 3 1.6 3 .3 3-.4 3-.3 3 1.1 3 2.1 3-3 3 2.1 3 4.4 3 2.8 3-1 3 1.8 3-3.8 3 3.3 3-.7 3 1.1 3 .1 3 2.8 3 2.4 3-4.9 3 3.4 3-.5 3-.2 3 .6 3 2 3-1.1 3-4 3 2.8 3-2.8 3 2.3 3 3.1 3-4.6 3-3.7 3-3.3 3-1 3 4.8 3-3.8 3-2.2 3-.7 3-1.3 3-1.7 3-2.8 3-9.9 3 3.2 3-1.6 3-5.6 3-4.1 3-6.3 3-10.4 3-1.3 3-1 3-6.8 3 0 3-9.6 3 .9 3-4.8 3-1.2 3-7.3 3-6.5 3-6.5 3-11.2 3-8.7 3-8.1 3-9.5 3-7.3 3-3.8 3-9 3-6.7 3-6.6 3-5.5 3-6 3-11.4 3-7.5 3-2.9 3-2.4 3 .4 3-6.1 3 .9 3-1 3 2.2 3 1 3-1.1 3 4.7 3 8.1 3 4.1 3 7.5 3 2.9 3 14.2 3 18.3 3 16.1 3 13.6 3 20.5 3 13.2 3 17.5 3 18.3 3 12.1 3 15.1 3 15.8 3 9.7 3 11.7 3 9.8 3 10.2 3 10.9 3 9.5 3 7.4 3 9 3 10.7 3 8.6 3 4.2 3 5.7 3 7.3 3 2.7 3 8.8 3 3.5 3 6.2 3 7.2 3 4 3-4.2 3 2.9 3 7.1 3 4 3 1.3 3 2.7 3 1.8 3-1.1 3 2.6 3 6.1 3-1.8 3 3.4 3 .9 3-3.4 3-2.1 3 5.8 3-1.5 3 2.6 3 1.6 3 2.3 3 1.3 3-.2 3 1.9 3-2.3 3-1.2 3 3.4 3-.4 3 .4 3 2.2 3 1.3 3-1 3 .6 3 3.5 3-.4 3-1 3 5.2 3-1.8 3-2.9 3 3.8 3-3.6 3 1.5 3 .5 3-.5 3 3.5 3 2.7 3-2.8 3 1 3 .1 3 1.1 3 5.7 3 .5 3-2.8 3-1.6 3 2.2 3 1.9 3-.8 3-2.6 3-.3 3 2.2 3 1.6 3 .1 3 1.8 3 4.5 3-1.6 3 2.3 3 .5M214 2265.3l3 2.7 3 .5 3-.3 3-1.4 3 1.4 3-3.1 3-.2 3 3.8 3-1.9 3-2.8 3-4.4 3 3.6 3 1.6 3 4.3 3 3.3 3-2.5 3-1.5 3 .2 3 3.5 3-.3 3-3.5 3 8.3 3-4.3 3-.7 3-.9 3-2.6 3 5.5 3 1.8 3-8.2 3-.8 3 2.4 3 3 3-.4 3-1 3 0 3-3 3-3.2 3 7.8 3 1.2 3-1.4 3 3.2 3-5.7 3-.7 3-2.3 3 3.1 3 1.1 3 2.2 3 .1 3-5.4 3-1.9 3-2.2 3-1.3 3-.7 3-2.1 3 3.1 3-1 3-.3 3-8.5 3-1 3 3.5 3-2.6 3 1.6 3 3.2 3-3.8 3-.2 3 2.2 3-8 3-.7 3 3.6 3-5.6 3-.2 3 1.1 3 1.4 3-1.6 3-.1 3-1.8 3 1.9 3 .4 3 .1 3-4.4 3-.6 3-1.1 3 .9 3-1.3 3-2.6 3-3.8 3-5.8 3 4.3 3-2.1 3-2 3-1.2 3-.3 3-.1 3 4.5 3-.3 3-1.3 3-2.1 3 .4 3-.5 3-2 3 .6 3 1.9 3-1 3-2 3 1.1 3 0 3-3.8 3-3.6 3-5.6 3 2.7 3-1 3-.5 3 1.3 3-6.4 3-1.9 3-1.9 3-6.1 3 2.4 3-7.6 3 .7 3 .1 3 .5 3-4.8 3 2.1 3-1.9 3 .5 3-4.7 3-5.7 3-.6 3-.5 3-.3 3-7 3-3.8 3 .6 3 1.7 3 1.9 3-6.9 3-3.4 3-.4 3-6.5 3-.7 3-1.1 3-3.9 3-3.2 3 .9 3 1.2 3-1.8 3-.8 3 .7 3-7.2 3 1.1 3-5 3-4.4 3 3.6 3-3.2 3-3.5 3-4.8 3-1 3-.7 3-4.7 3-1.5 3-2.6 3-3.1 3-4 3-1.8 3-.6 3-4.3 3-5.3 3-2.8 3-6.1 3-1.1 3-3.7 3-2.9 3-2.5 3-1.3 3-8.1 3-.6 3-5 3-7.6 3-8.9 3-1.3 3-.5 3-8 3-5.9 3-3.7 3-5.7 3-1.4 3-5.1 3-6.7 3-6.8 3 .8 3 .1 3-9.2 3-5 3-.3 3-1.5 3-4.6 3-2.2 3-6.9 3-1.2 3 1.5 3 .9 3-5.1 3-4.2 3-.4 3 2.1 3-.5 3 .8 3 3.5 3-2.2 3 2.9 3 1.7 3-.8 3-5 3 .7 3 5.8 3 3.8 3 6.8 3-1.7 3-4.8 3 2.2 3 6.2 3 2.2 3 .5 3 1.7 3 3.8 3 3 3 3.1 3 6.4 3 3 3 2.2 3 1 3 8.6 3 .9 3 3 3 1.5 3 2.3 3 4.1 3 3.3 3 2.8 3 2.7 3 3.2 3-2 3 3.7 3 3.9 3 .7 3 .7 3 2.3 3 5 3-2.4 3-4.3 3 2.7 3 6.7 3-1.2 3 6.3 3-3.5 3 3.2 3 3.3 3 1.7 3 2.3 3-2.1 3-3.3 3 5.9 3 3.3 3 2.5 3-2 3-.1 3 2.7 3 0 3 4.3 3-3.6 3-.1 3 .4 3 0 3 1.8 3 1.3 3-4.2 3 1.7 3 1.8 3-2.4 3 4.8 3-3.2 3 .5 3 3.5 3-1.5 3-4.3 3 2.4 3-2.9 3-1 3 .6 3-.4 3-3.4 3-1.6 3 1.7 3-8.8 3-4.4 3 4.8 3-2.1 3-4 3-3 3-3.9 3-2.3 3-5.5 3-2.2 3-4.2 3-3.5 3-7.9 3-3.4 3-9.4 3 .6 3-2.3 3-.1 3-10.9 3-6.5 3-7.1 3-2.6 3-11.2 3-3.2 3-5.5 3-12.4 3-9.2 3-5.5 3-7.6 3-5.6 3-9.8 3-3.5 3-8.3 3-2.3 3-5.3 3-6.8 3-5.2 3-5.4 3-4.3 3-3.2 3-3.8 3 2.2 3 5.1 3-2.5 3 .8 3 4.5 3 5.2 3 6.5 3 5.6 3 8.9 3 13.9 3 18.4 3 9.9 3 18.1 3 20.4 3 12.6 3 12.6 3 13.7 3 19.7 3 15.6 3 12.5 3 11.9 3 9.4 3 12.9 3 13.4 3 10.1 3 10.9 3 7.7 3 7.4 3 6.4 3 7.2 3 6.7 3 10.1 3 5.7 3 3.9 3 8.3 3 3.5 3 1.4 3 6.1 3 5.7 3 4.3 3 1.8 3 .8 3 3.5 3 3.2 3 1 3 3.5 3 3.6 3-2.4 3 1.6 3 3.1 3 4.1 3-1.2 3-.1 3 2 3 5.7 3-2.8 3 3.2 3 4.1 3-3.7 3 .7 3-4.9 3 2.4 3-.1 3-.2 3-.2 3 1.2 3 7 3 2 3 2.2 3-4.1 3-1.7 3 2.6 3 1.1 3 0 3 3 3 2.7 3-6.4 3-.6 3 6.2 3 .7 3 .5 3-.4 3 .1 3-1.7 3 3.8 3 4.7 3-2 3-.6 3-1.6 3-1.4 3-1.3 3 4.3 3 1.8 3-1.4 3 2.3 3 2.1 3-4.5 3-1.3 3 1.2 3-2.7 3 7.1 3 3.7 3-1.3 3-6 3-1.2M214 2250.1l3-3.1 3-.1 3-2.5 3 2.5 3 3.7 3 3.1 3-1.2 3 0 3-2.9 3-2.7 3-2.4 3 1.6 3 4.9 3 0 3 .2 3 1.9 3 3.4 3-1.3 3-4.4 3 3.3 3 .3 3-2.6 3 3 3 .7 3-2.9 3 .3 3-3.7 3 .5 3 3.7 3 4.1 3-3.4 3-2.8 3 .6 3 4 3-1.5 3-2.4 3-.2 3-2 3-.2 3 4.7 3-.3 3-.1 3-3.9 3-2.6 3 0 3 7 3-2.1 3 2.2 3-1.8 3-3.6 3-4.3 3-3.8 3 1.8 3 2.8 3-4.2 3 3.1 3-3 3-2.6 3-1.9 3-.7 3 1.7 3-.3 3-.9 3-3.2 3-.9 3-1.9 3 4.4 3-1.2 3-.1 3 2.3 3-.4 3-1.1 3-4.5 3-1.2 3 1.7 3-.5 3-.5 3-4.6 3-1.5 3 1.5 3-.6 3-2.9 3-2.8 3 .8 3 2 3-3.8 3-1.5 3-1.8 3-1.8 3 .7 3-2 3 .4 3 1.1 3-2.5 3-.6 3-2.5 3-1.9 3-1.1 3 .3 3 3.1 3 .5 3-2.2 3 1.7 3 .5 3-3.7 3-1.9 3-1.7 3 1 3-1.2 3-4.1 3-1.4 3-1.3 3 .7 3 1.2 3-4.2 3-3.3 3-2.8 3-3.3 3-4.4 3-1.2 3-6.7 3 1.6 3 .9 3-2.5 3 3.1 3-4.7 3-3.3 3-2.5 3 .8 3 1 3-8.5 3-3.5 3-.4 3 .7 3-6.2 3-.9 3 1.9 3-3.8 3-1.3 3-1.7 3-5.3 3 3.4 3-3.8 3-.4 3-4.5 3-6.7 3 3.5 3 3.8 3-4.4 3-1.7 3-2.8 3-6 3-3.1 3 .5 3-3.4 3-1.8 3-2.4 3-5.2 3-1.8 3 1.2 3-6 3-.7 3-4.3 3-3.2 3-.5 3-4.3 3-4.9 3 2.1 3-5.4 3-7.9 3-5.6 3 2.3 3-3.5 3-5.9 3 1.4 3-7 3-4.7 3-6.2 3-5.7 3-.1 3-1.5 3-9 3-3.5 3-5.1 3-2 3-10.9 3-8.9 3 1.3 3 2.7 3-6.8 3-8.5 3-4.1 3-4.3 3-1.8 3-2.8 3-4.4 3-5.9 3-2.5 3-1.9 3-2.2 3-1.9 3 2.3 3-2.4 3-1.1 3-4.3 3 6.1 3-3.3 3 .1 3 .5 3-2.7 3-.8 3 2.1 3 5.6 3-5.4 3-.6 3 7.2 3 3.2 3 .7 3 2.9 3 .3 3 3.9 3 3.5 3 1.7 3 4.8 3 6.9 3 .1 3 4.5 3-1.1 3 1.9 3 6 3 5.2 3-.2 3 5.5 3 .4 3 2.6 3 7.4 3 3.1 3 1.4 3-.2 3 .8 3 2.8 3 2.6 3 2.8 3 6 3-1.7 3-1.4 3 4.1 3 4.3 3-4.2 3 5.6 3 .2 3 2.8 3 4.3 3-.9 3 1.1 3 2.5 3 4.1 3 1.7 3 1.9 3-3.6 3-3.5 3 4.5 3 1.7 3-.8 3 5.2 3-1.9 3 .6 3 4.7 3 .6 3-.7 3-.9 3-2 3 2.3 3 3.1 3 3.6 3 .2 3-4.3 3-.5 3-.6 3-3.3 3 5 3 2.4 3-6.6 3 1.1 3 6.5 3-.7 3-3.8 3-2 3 .9 3 0 3-5.4 3-.6 3-4 3-.2 3-.2 3-2.7 3-4 3-.4 3 1.9 3-6.7 3-3.1 3-1.2 3-3.2 3-7.8 3 .9 3-10.6 3-4.5 3-7.5 3-.6 3-1.5 3-8.7 3-2.5 3-4.8 3-1.8 3-6.7 3-5.7 3-6 3-4.2 3-11.7 3-11 3-2.5 3-10.6 3-12.2 3-3.5 3-10.9 3-3.6 3-6.1 3-5.1 3-6.1 3-12.7 3-4.3 3-.4 3 .1 3 .9 3-7.5 3-3.3 3 3.2 3 5.5 3 1.8 3 6.9 3 1.8 3 7.9 3 5 3 11.5 3 14.9 3 12.4 3 14.5 3 12.8 3 15.4 3 20.8 3 14.7 3 13.5 3 15.5 3 12.7 3 12.6 3 8.6 3 12.1 3 14.4 3 13.7 3 13.1 3 7.4 3 10 3 8.9 3 7.6 3 2.1 3 6.9 3 9 3 7.9 3 8.8 3 5.1 3 5.4 3 2.5 3 2.9 3 5.1 3 3.7 3-.3 3 2.2 3 3.9 3 5.4 3 3.1 3-.5 3-.9 3 6.9 3-3 3 .6 3 .3 3 3.8 3-.5 3 2.2 3 .9 3-.4 3 3.5 3-2.3 3 3.3 3-.4 3-3 3 1.3 3 4.4 3-1.8 3 5.1 3-.9 3 6 3-2.1 3-.5 3-3.3 3 1.1 3 4.2 3 5.1 3-1.2 3-1.2 3-1.8 3 1.9 3 1.5 3 1.1 3-2.7 3-2.3 3 5.1 3 3.9 3-4.2 3-1.5 3 2.7 3 0 3 1 3-2.6 3 3.1 3 .3 3-1.6 3 3.5 3-1.5 3 1.4 3 6.6 3-3 3-1.7 3-.5 3-.8 3-1.9 3 2.5 3-2.6 3 6.7 3 2.3M214 2230.1l3 1.9 3 1.6 3 3.9 3-.5 3-1.1 3-6.9 3-1.4 3 5.9 3-.6 3-3.6 3-4.3 3 3.4 3-.1 3 3.3 3 1.5 3-2.4 3-1.1 3 6.1 3-.2 3 .2 3-2.1 3-.9 3 4.1 3-4.5 3 0 3 4.2 3 1.5 3 1.7 3-1.8 3-3.1 3-.1 3-1.8 3-.2 3 3 3-1.7 3 .4 3-1 3 .3 3-.7 3-2.3 3 4.7 3-1 3 .1 3-1.7 3 2.5 3-2.6 3 3.2 3-2.3 3-2 3-3.8 3-1.9 3 4.1 3-1.9 3 0 3 .6 3-3.9 3-2.9 3 .5 3-.1 3-.6 3 .8 3 2.7 3-2 3-4.3 3-4.6 3 1.5 3 1.3 3-3.9 3 2.6 3-.1 3-4.5 3-1.8 3 .1 3-.9 3 2.7 3-.8 3-2.5 3 2 3-1.1 3-.3 3-4 3-.5 3 3.1 3-2.8 3-1.1 3 1.2 3-1.8 3-3.4 3-2.2 3-6.8 3 3.6 3 5 3-8 3 1.7 3-1.4 3-.6 3-.1 3-4.8 3 1.7 3 4.6 3-1.1 3-3.6 3 1.6 3-5.7 3 2.4 3-1.2 3-.1 3-4.6 3-.8 3-.8 3-2.9 3-2.9 3-.5 3-.2 3-4.5 3 0 3-2.1 3 1.6 3 .5 3-3 3-2.7 3-.8 3-1.6 3-4.3 3-4.3 3-2.9 3 2.2 3-.7 3-4.2 3-5.9 3 .7 3-2.2 3 .4 3-5.1 3-4.2 3 3.4 3 3 3-4.9 3-10.2 3 1.6 3-3.2 3 1.5 3-4.9 3-1.8 3-7.4 3-.8 3 .4 3 .9 3-2.4 3-2.3 3-1.9 3-5.7 3 3.1 3-1.6 3-7.3 3-2.3 3-2.2 3 1 3-4.6 3-.9 3-1.2 3-2.7 3-4.3 3-1.7 3-4.8 3-4.5 3 1 3-4.3 3-4.4 3-3.2 3-5.5 3-2.3 3-1.6 3-2 3-1.1 3-6.9 3-5.7 3-6.1 3-2.3 3-3 3-6.8 3-2.3 3-6.5 3-5 3-8.2 3-.4 3-.3 3-8.5 3-5.1 3-4.5 3-4.5 3-5.3 3-1.9 3-2.3 3-7 3 3 3-4.8 3-4.5 3-5.5 3 .8 3-2.5 3-4.1 3-1.5 3 .9 3 3.4 3-4.1 3-1.6 3 1.2 3-.6 3 3.5 3 1.7 3-3.7 3 1.6 3 1.4 3 1.8 3 .2 3 2.6 3 .3 3 3.1 3 1.4 3 .7 3 7.9 3 4.3 3-1.2 3 1.9 3 5.9 3 3.5 3 1.6 3 3.7 3 6 3-.2 3 4.2 3 7.7 3 .5 3-.4 3 2.8 3 6.2 3 1.6 3 3 3 .7 3 3.8 3-.3 3 2.1 3 6.4 3 3.6 3 .6 3 6.8 3-4.1 3 1.3 3 3.3 3 2.6 3 2.7 3 .3 3 3.2 3-1.9 3 2.4 3 .8 3-.5 3-1.9 3 4.7 3 2.2 3 2.4 3 2.2 3 .6 3 1.9 3-2 3 1.8 3 2.9 3 .3 3-5.4 3-1.8 3 5.6 3 1.6 3-5.3 3 8.6 3-1.5 3 .2 3-.7 3 .4 3-1.5 3 .7 3-4.1 3 .6 3-2.4 3 3.3 3 3 3-1.2 3-3.5 3-3.6 3-1.6 3 5.3 3-4.7 3-2.9 3 2.3 3-5.2 3 1.4 3-6.1 3-1.4 3-.2 3-3 3-4.4 3-7.3 3-1.9 3-3.7 3-3.2 3-4 3-4.9 3-2.4 3-7.9 3-5.1 3-.8 3-7.1 3-5.8 3-5.5 3-3.8 3-8.2 3-3.4 3-7 3-9 3-7.7 3-11.5 3-8.6 3-7.5 3-8 3-2.7 3-4.8 3-8.5 3-5.8 3-6.4 3-4.4 3-8.2 3-.9 3-4 3-4.5 3 2.4 3-2.5 3 3 3 2.9 3 3.3 3 4.7 3 4.8 3 6.3 3 9.4 3 8.1 3 11.1 3 17.7 3 12.6 3 6.9 3 17.2 3 16.8 3 16.7 3 15.5 3 14.1 3 19.8 3 18.5 3 10 3 11.7 3 6.3 3 11.2 3 12.5 3 5 3 10.7 3 9.9 3 8 3 7.2 3 7.7 3 6.3 3 3.7 3 7.1 3 6.8 3 6.4 3 3.4 3 7.2 3 2 3 3.2 3-.7 3 1.8 3 6.4 3-2.9 3 1.5 3 4.5 3 1.8 3-.1 3 5.7 3-.5 3-.6 3 2.1 3 .3 3 1.4 3 2.8 3-.1 3 4.3 3 3.8 3-2.9 3-1.3 3-.3 3 3.2 3 .2 3-3.7 3 1.7 3 4.1 3 2.8 3-1.2 3 4 3-1.8 3-2.1 3 3.2 3-1.1 3 1 3-2.3 3 4.1 3-.9 3 3.6 3 2.3 3-.4 3-8.4 3 3.4 3-.4 3 3 3 2.1 3 .2 3 3.3 3 1.3 3-4.4 3 4 3-1.3 3-1.7 3-.7 3 .3 3-1.4 3-1.1 3 .7 3 5.7 3 2.9 3 2.6 3-3.5 3-5.1 3 3.1 3 3.9 3 5.8M214 2218.5l3-.8 3-2.5 3 .4 3 5 3-2.4 3-3.4 3-2.5 3-1.2 3 3.9 3-4 3-2.8 3 1.5 3 7 3-.7 3-2 3 .1 3 3.1 3 4.4 3-.2 3-3.4 3 .1 3-1.8 3 2.9 3-2.9 3 .4 3-1.9 3 .6 3-2.5 3 2.4 3 3.2 3-2.7 3 .1 3 2.3 3-.9 3 1 3 2 3-.5 3 2.7 3-2.7 3-.2 3 4.8 3-3.3 3-7.8 3 6.6 3-.5 3-2.9 3-.3 3 1.7 3-2.2 3-6.9 3 5.4 3-1.8 3-2.4 3 .3 3 1.2 3-.1 3-4.8 3-.6 3-2.5 3 3.2 3-2 3-2.3 3-4.1 3 .1 3 1.2 3 1 3 0 3 .5 3-5.8 3 3.6 3-3.1 3-.9 3 4.8 3-5.2 3-4.6 3 1.6 3 2.4 3-5.4 3-1.5 3-5.4 3 2.3 3 2.7 3-.9 3-1.5 3 2 3-3.5 3-1.8 3-6.1 3 7.8 3-4 3-2.1 3 0 3 1.6 3-3 3 1.9 3-1.7 3-.2 3 1.3 3-3.3 3-1.8 3-2.4 3-1.8 3 5.2 3-4.6 3 .8 3-3.9 3 0 3 6.2 3-4.5 3 1.1 3-4.2 3-8.1 3 1.9 3-.2 3-3.4 3-3.4 3-5.7 3 2.1 3-.4 3-2.5 3 .9 3-7.4 3-3.3 3 2.2 3 1.1 3-4.5 3-1.7 3 3.7 3-7.8 3 1.9 3-.7 3-.1 3-5.5 3-5.5 3-.6 3-3.2 3-2.6 3-6.8 3 4 3 0 3-5.9 3-.8 3-1.2 3-2.7 3-2.5 3-1.6 3 2 3-3.1 3-4.5 3-3.9 3-1.3 3-1.6 3-3.7 3-.4 3-1.1 3-3.4 3 1.5 3-5.3 3-5.7 3-1.2 3-1.6 3-1 3-11.5 3-.7 3-.4 3-3.7 3-2.8 3-4.2 3-4 3 1.2 3-3.2 3-2.9 3-2.2 3-6.6 3-2.2 3-4.7 3-4.9 3-4.3 3-3.9 3-6.1 3-8.9 3-1.9 3-6.8 3-2.7 3-3.6 3-2 3-5 3-7.4 3-6.2 3-2.7 3-7.7 3-3.6 3 4.7 3-4.8 3-3.7 3-5.6 3-4.9 3-4.5 3 .7 3-3.5 3-3.5 3-1.4 3-1.9 3-1.3 3 2.5 3-1.7 3 1.2 3 .9 3-3.7 3 3 3 1.8 3 1.7 3-.5 3-1.5 3 1.7 3 2.8 3 3.6 3-.5 3 6.6 3 2.2 3 5.9 3-1.7 3 3.9 3 2 3 5.1 3 2.6 3 5.5 3 5.9 3-.2 3 5.4 3-.5 3 3 3 6.1 3 3.7 3 4.2 3 2.8 3-.6 3 4.7 3 .2 3 6 3 .1 3-.7 3 .9 3 5.9 3 4.6 3 2.5 3-1.7 3 5.9 3 3.7 3-1 3 3.3 3-1 3-1.1 3 2.7 3 3.6 3 2.8 3 1.2 3-3.5 3 1.8 3 2.4 3 2.2 3-2 3 6.7 3-4.4 3-2.4 3 2.8 3-.5 3 1.4 3-.4 3 5.3 3 1 3 .7 3 .6 3-1 3 3 3 .1 3 1.5 3-6.8 3 3.2 3-.7 3 2.6 3-1.8 3-2.4 3 2.2 3-4 3-2.6 3 4.3 3-6.6 3-.7 3-.6 3 3.5 3 2 3-2.2 3-1.4 3-1.5 3-1.4 3-3.7 3-2.8 3-2.3 3-9.6 3 .4 3-4.6 3-2.5 3-7.9 3-1.2 3-5.6 3-5.9 3 1.1 3-4.5 3-3.6 3-4.7 3-3.3 3-8.6 3-3.7 3-4.1 3-4.2 3-8.7 3-9.9 3-9.3 3-2.4 3-15.8 3-10.1 3-4.9 3-8.4 3-8.2 3-6 3-8.1 3-1.8 3-1.8 3-10 3-2.9 3-3 3-5.3 3-3.8 3-1.7 3-3 3 3.6 3 4.8 3 6.4 3 3.1 3 7 3 6.7 3 6.4 3 8.5 3 16.3 3 13.1 3 14.2 3 12.8 3 13.1 3 16 3 14.1 3 15.8 3 10.6 3 19.2 3 14.5 3 15.9 3 12.9 3 7.6 3 12.2 3 8 3 14.4 3 .8 3 10.8 3 11.4 3 7.1 3 9.4 3 4.6 3 4.1 3 12.1 3 5.2 3 .3 3 3.9 3 3.7 3 6.6 3 .2 3 1.7 3 1.7 3 5.5 3 3.8 3-.4 3-.7 3 2.3 3 3.4 3-.9 3 3.2 3-2.7 3 3.7 3 3.4 3 1.9 3 1.3 3 1.5 3 2.9 3-2.1 3-1.7 3 .4 3 3.2 3 5.6 3-3.4 3 1.4 3 .5 3-3.7 3 2 3 6.6 3 2.5 3-2.2 3-.1 3 1.7 3-1 3-.2 3 1.4 3 3.2 3-4.1 3 .6 3 1.4 3 2.8 3-1.3 3-.2 3-2.1 3-.8 3 4.1 3 .7 3 0 3 .3 3 4.2 3-2.7 3-3.2 3 1.3 3 3.1 3 .5 3-2.4 3 4.7 3-.8 3-2.9 3 .4 3 .3 3 1.8 3 .1 3-5.8 3 4.4 3 3.4M214 2194.1l3-1.1 3 4.6 3 3.1 3-3.2 3 .5 3 .4 3-5.4 3-4.8 3-2 3 2.3 3-2.4 3-2.2 3 6.3 3-1.9 3 6.2 3 2.3 3-1.4 3 2.7 3 1.2 3-1.5 3-3 3 3.1 3-.9 3 1.4 3 .4 3-3.6 3-1.5 3-1.2 3 3.8 3 .8 3 2.3 3-.5 3 1.9 3-3.5 3 .4 3 .5 3 3.2 3 1.6 3-1.3 3-4.2 3 1.1 3 .9 3-1.4 3 1.3 3-1.9 3 1.2 3 3.5 3-4.6 3-4.5 3-.4 3 .2 3 .4 3-4.8 3-.5 3 1.1 3 .8 3-.4 3-.9 3-1.6 3-1 3 .6 3-5 3 .9 3 1.1 3-6.1 3 2.4 3-3.8 3 .5 3 4.2 3 1.1 3-5.9 3-3.3 3 1.1 3-.8 3-3.3 3-1.3 3 1.2 3 1.2 3 4.8 3-1.3 3-5 3-1.7 3 .9 3-4.2 3 .7 3-4.7 3 1.3 3 3.2 3 .2 3-5.3 3 2 3-4.5 3 2.1 3-5.8 3-2.3 3 .4 3-.6 3 .6 3 1.8 3 .4 3-4.2 3 1.2 3-.1 3-3.1 3-6.1 3 5.2 3-.4 3-3.4 3-3 3-1.2 3 1 3 2.1 3-.8 3-5.3 3-5.3 3-1 3-.3 3-3.6 3-1.8 3-.7 3-4.3 3-1.6 3 1.3 3-2.3 3-3 3-.6 3 1 3-1.3 3-2.5 3 .4 3-2.1 3-3.7 3-6.4 3-3.4 3 1 3 0 3-3.5 3-1.7 3 .3 3-5.5 3-5.1 3-.5 3-2.9 3 .8 3-4.2 3-1.8 3-2.2 3-5.2 3-4.9 3 4.7 3 1.9 3-6.6 3-1.9 3-3.3 3-.8 3 .3 3-3.6 3-4.2 3-2.7 3-1.8 3-1.9 3-8.9 3-1.2 3-.8 3-1.1 3 .8 3-4.2 3-5.8 3-1.1 3-4.3 3-5.1 3-1.3 3-7.4 3 0 3-5.4 3-6.8 3-2.3 3-4 3-6.8 3-1.5 3-6.5 3-4.3 3-2.2 3-5.8 3-4.3 3-6.3 3-7.1 3-1.6 3-.6 3-6.7 3-5.6 3-2.2 3 1.9 3-5.4 3-8.7 3 .4 3-7.1 3-7.1 3 2 3-4.2 3-5.4 3-.4 3 3.1 3-1.4 3-3.9 3-1 3 3.2 3-.3 3-5.6 3 3.8 3-.3 3 1.8 3 1.8 3 5.4 3 .4 3 1.7 3 .8 3-.7 3 4.4 3 3.2 3 6.6 3 2 3 2.3 3 4.7 3-1.4 3 2.3 3 8.1 3 4.9 3 1.9 3 2.7 3 7.6 3 .4 3 3.5 3 .9 3 7 3 3.8 3 2.8 3-6.1 3 8.6 3 2.8 3 1.5 3 2.2 3 .4 3 5.7 3 .8 3 2.8 3 6.1 3-2.2 3 3.6 3-.2 3 4.4 3-.3 3 .6 3-1 3 2.2 3 3.4 3 .5 3 5.3 3-2 3-2.8 3 1.4 3 4.5 3 6.4 3 4.4 3-1.4 3-1.8 3-1.5 3-4.1 3 1.6 3 1 3-2 3 3.7 3 2 3-1 3-.1 3 5.6 3-1.5 3-2.5 3 1.3 3 1.8 3-2.2 3-4.6 3 2.8 3 2.7 3-1.6 3-3.5 3-1.8 3 2.3 3-3.4 3-2.2 3-3.3 3 2.8 3-4.2 3-.4 3 .9 3-3 3-3.1 3-2.7 3-1.3 3-2.4 3-2.2 3-2 3-4.3 3-2.4 3-7.8 3-3.7 3 .6 3-5.8 3-5.4 3-9.9 3-1 3-5.3 3-8 3-5.9 3-4.2 3-2.1 3-6.8 3-11.6 3-6.3 3-7.2 3-11.7 3-9.8 3-8.4 3-7.3 3-11.2 3-5.2 3-1.5 3-7.1 3-5.2 3-8.4 3-3.5 3-3.7 3-.1 3-1.5 3 0 3-6.3 3 4.4 3 1.6 3 4.3 3 8.3 3 5 3 4.2 3 10.4 3 11.3 3 10.3 3 19.1 3 17.2 3 7.9 3 14.6 3 12.7 3 14.6 3 10.8 3 18.2 3 15.9 3 17.4 3 10.6 3 8.8 3 14.1 3 11.5 3 7 3 18.2 3 4 3 9.3 3 10.8 3 8.1 3 5.9 3 7.4 3 5.9 3 3.6 3 6.3 3 8.2 3 1.2 3 4.4 3 .7 3 3 3 1.2 3 3.6 3 .5 3 7.7 3-.9 3-.4 3 4.4 3-2.4 3 5.8 3-.5 3 4 3 .8 3-.6 3 2.4 3 2 3 1.7 3 1.5 3-.1 3-3.6 3 5 3 1.1 3-1.3 3-.4 3 0 3 3.1 3-2.8 3 1.2 3 3.8 3-.8 3 1.7 3 2.8 3-1.6 3 2.1 3 2.4 3 1.4 3-2.7 3-4.8 3 4.8 3-1.6 3 .9 3 .7 3 3.1 3 1.1 3-3 3 4.6 3 2.4 3 3.6 3-4.4 3-.5 3-1.7 3-.1 3-1.4 3 2.4 3-3.4 3 .9 3 4.3 3 1.3 3 .9 3-.8 3-.8 3-1.4 3 1 3-1.2 3 1.1 3-.5M214 2173.0l3 1.8 3-2.5 3-4.9 3 2.8 3 2.8 3-1 3-2.2 3 7.9 3-7.2 3-2.5 3-.2 3 1 3 4.2 3 4 3-.5 3-2.7 3 .7 3 3.5 3-.2 3-1.7 3 2.2 3 .2 3-2.6 3 2.6 3-2 3 5.3 3-.4 3-.1 3-.1 3-3.8 3 .9 3 1.2 3-.9 3 1.7 3-1.9 3 .8 3 1.8 3 .7 3-3.5 3-1.8 3 3.7 3 1.1 3-4.3 3 3.5 3-.1 3-1 3-.3 3 .2 3-4.4 3 1.3 3-.2 3-5.9 3 2 3 6.5 3-1.5 3-5.2 3-3.9 3-4.7 3 .7 3-1.7 3 2.1 3 .4 3-3.9 3 1.6 3-3.6 3 1.7 3-1.4 3 .2 3-1.6 3-.4 3 .4 3-4.4 3 4.7 3-1 3-5.8 3 5.8 3-3.7 3-3 3 0 3 3.5 3-4 3-6.3 3 2.5 3-3.9 3 1.7 3-1.4 3-4.8 3-.1 3 1.9 3 1.2 3 1.7 3-.1 3-2.1 3-3.7 3-3 3 .2 3 2.6 3-.6 3-2.8 3-6.1 3 3.9 3 3 3-4.7 3 .2 3 .7 3-4.1 3 2.1 3 1.2 3-5.6 3-3.7 3-2.3 3 4.7 3-5.9 3-2.3 3 2.7 3-3.1 3-3.5 3-.1 3-6.4 3 1.6 3-4.9 3-1.3 3-2.8 3 .3 3 .9 3-2.5 3-.9 3-5.1 3-2.6 3 2.1 3-.9 3-2.3 3-4.9 3-1.6 3 1.8 3-3.2 3-9.2 3 .2 3 .6 3-2.9 3-.9 3-3.5 3-.5 3-3 3-2.9 3-5.4 3 5.6 3-4.1 3-5.1 3-4.4 3 7.3 3-7.2 3-7.8 3 .9 3-2.7 3-1.9 3-3.6 3 .7 3-.6 3-9.2 3-3.1 3 3.9 3-5.2 3-5.3 3-3.2 3-1.1 3-1 3-2.6 3-5.6 3-6.7 3-1.3 3-1.4 3-4.1 3-2.8 3-7.8 3-1.7 3-3.8 3-1.6 3-8.2 3-3.6 3-3.7 3-8.1 3-.6 3-6.8 3-8.3 3-7.6 3-3.6 3 .2 3-1.1 3-5 3-7.4 3 .5 3-4.9 3-6.5 3-.2 3-1 3-6.6 3-5 3-2.4 3-2.8 3 .5 3-6.4 3 4.5 3-3.2 3-1 3-3.3 3-1.2 3 7.5 3-1.5 3 .9 3-3.1 3 1 3 2.4 3 .9 3-1.5 3 5.6 3 1.1 3 2.5 3 6.7 3 3.3 3 4.1 3-2 3 2.8 3 1.4 3 3.6 3 7.1 3 4.6 3 5.6 3 1.6 3 3.3 3 6.3 3-.6 3 6.2 3 2.7 3 .6 3 4 3 .7 3 .4 3 2.6 3 5.4 3 1.6 3 5.8 3 1.3 3-2.5 3 1.7 3 3.7 3 6.3 3 .3 3 .9 3-2.2 3 4.8 3 6 3 2.7 3 3.7 3-3.3 3 3.3 3 1.1 3-1.1 3 3.7 3-.5 3 2.6 3 6.9 3-4.2 3 3.3 3-5.7 3-.4 3 7.4 3-.2 3-1.8 3-1.2 3 1.7 3 3.1 3-4.3 3 3.3 3 .9 3-.3 3-.4 3-2.2 3-.4 3 .6 3 4.7 3-1.7 3-6.6 3 1.2 3 3.9 3-3.6 3-4.5 3-.3 3-1.5 3 1.1 3-.3 3 2.8 3-.5 3-6.1 3-2.6 3 0 3 0 3-3 3-5.7 3-3.4 3-1 3-3.9 3-4.7 3-1.2 3-4.9 3-2.4 3-3.2 3-3.6 3-5.4 3-5.7 3-7.7 3-5.8 3-3.5 3-2 3-9.7 3-8.4 3-2 3-8.3 3-11.4 3-12.7 3-3.2 3-5.8 3-7.3 3-12.8 3-7.8 3-9.1 3-2 3-7 3-9.6 3-1.1 3-1.1 3-8.9 3-2.6 3-.8 3-.8 3 .7 3 .8 3 1.1 3 2.5 3 10.4 3 4.6 3 1.9 3 13.6 3 16.1 3 8.8 3 14.1 3 18.3 3 10.5 3 8.3 3 18.8 3 14.5 3 13.6 3 14.4 3 11.8 3 12.6 3 17.4 3 7.2 3 16.1 3 16 3 6.5 3 9.5 3 10.6 3 13.4 3 4.5 3 9.3 3 3.4 3 8.4 3 11.1 3 .7 3 8.7 3 2.5 3 3.1 3 6 3 2.2 3 2.1 3-3.3 3 8 3 2.5 3 2.7 3 5.2 3-1.3 3 .6 3 2.6 3-1.4 3 3.6 3-.6 3-1.8 3 5.7 3-.3 3 1.2 3 .2 3 3.6 3-.2 3 .3 3-1.4 3-3.1 3 4.5 3 2.8 3 .8 3-1.5 3-.6 3 .9 3 5.9 3 .8 3-.1 3-.5 3-.3 3-.1 3 1.7 3-2.2 3 1.1 3 1.9 3 2.4 3 2 3 .9 3-4.9 3 4.1 3 0 3 1 3-1.3 3 1 3 1.7 3 1.7 3-.5 3 .7 3 4 3-.5 3-3.5 3 2 3-4.5 3-.3 3 .3 3 5.3 3 .7 3 .7 3-2.6 3 1.1 3-1.1 3 3.6 3 1.1M214 2154.2l3 5.4 3-3.7 3-4.8 3 4.7 3 .7 3-1.4 3-.6 3 .8 3-.8 3-4.7 3-5.3 3 5.6 3 4.5 3-.4 3 6.8 3-7.7 3-.3 3 .5 3 .7 3 5.5 3 .3 3 .1 3-2.4 3 5 3-4.6 3-3 3 4.8 3-1.5 3 2.8 3-5.3 3 3.6 3 1.3 3 1.3 3-1.1 3-.2 3-2.1 3 1.1 3 3.9 3 .7 3-2.9 3 1.3 3-3.1 3-2.2 3 2.9 3-5 3 5.7 3-.3 3-2.4 3-1.9 3-2.1 3-6.1 3 .4 3-.4 3 1.2 3 .6 3-.7 3-1.5 3 4.8 3-1.9 3-2.3 3-.2 3-2.6 3-.9 3 .6 3-.8 3-2.3 3-.9 3 3.3 3-5.9 3 1.6 3 3.5 3-4.7 3-1.5 3-.9 3 .7 3-4.1 3-2.8 3 3.3 3 1.1 3-3.1 3-.4 3 1.7 3-8.7 3 1.3 3 1.1 3-.7 3-1 3-5.2 3 2.3 3-1.9 3 1.8 3-1.1 3 1.7 3-4.4 3-3.6 3 1.7 3-.9 3 2.6 3-4.9 3 0 3-3 3 3.7 3-4.5 3-3.9 3 .4 3 2.2 3-2.3 3 4.3 3-8.4 3-1.9 3-1.2 3 3.9 3-2.1 3-4.6 3 2.5 3-4.5 3-1.2 3-2.9 3-2.7 3-4.7 3-3.1 3 0 3-1.3 3 1.3 3 .9 3-7.6 3 .3 3 0 3-2.8 3-6.3 3-.3 3-1.3 3-7 3 3.7 3-.6 3-.5 3-2.8 3-8.1 3-.6 3 4.1 3-7.9 3-1.9 3 1.7 3-3.2 3-2.9 3-5.7 3-2.5 3 1 3-.5 3-6 3 1.9 3-3.3 3-5.4 3 .3 3-5.3 3 0 3-6.9 3-2.2 3 3 3 .6 3-4.4 3-5.5 3-3.7 3-3.7 3-.5 3-4.3 3-5.8 3-.6 3-1.9 3-7 3-3.8 3-.2 3 1.1 3-8.5 3-3.5 3-4.7 3-.7 3-2.9 3-5.7 3-3.4 3-5.4 3-10.9 3-3.5 3-2.6 3-5.6 3-5.9 3-3.3 3-6.5 3-8.4 3 .8 3-4.5 3-.7 3-8 3-1.4 3-.4 3-4.1 3-2.2 3-9.2 3 3.6 3-5 3-3.7 3-1.5 3-5.9 3-.4 3 5.1 3 .1 3-4.4 3-1.2 3-1.3 3 4.1 3-1.9 3 4.5 3 2.5 3 1.9 3 .7 3-3.2 3 4.9 3 3.5 3 9 3-2 3 2.8 3 4.4 3 3.9 3 3.9 3 3.3 3 3.7 3 3.2 3 6.7 3 3.4 3 .2 3 4.3 3 2.3 3 6.8 3 1.2 3 3.5 3 2.7 3 2.5 3 3.3 3 .8 3 5.8 3 2.7 3 3.9 3 .7 3-.3 3 3.4 3-.8 3 2.3 3 3 3 2.4 3 1.2 3 4.8 3 4.6 3-6.3 3 5.4 3 2.7 3 4.1 3 3.5 3-6.5 3 3.9 3 3.1 3 1.3 3-6.4 3 2 3 4.1 3 3 3-3.1 3 3.6 3 .7 3 2.6 3 .3 3-1.9 3-4.2 3 4 3 6.7 3-7.3 3-.3 3-1.4 3 4.8 3 4.5 3-3.4 3-1 3-.2 3-.5 3-2.5 3-.9 3 3.7 3-.7 3-3.7 3-1.7 3-5.8 3 1.2 3-.8 3-.7 3-3.2 3 1 3-1.9 3-.9 3-.2 3-8.3 3-2.9 3-.3 3-3.4 3-6.6 3-5.2 3-2.6 3-2 3-1.8 3-1.9 3-10.6 3-6.1 3-1 3-5.5 3-3.4 3-5.6 3-6.8 3-9.9 3-5.8 3-2.7 3-10.3 3-9.3 3-8.1 3-14.3 3-9.3 3-7.2 3-6.3 3-9.2 3-10.4 3 .2 3-7.7 3-5.2 3-6.4 3-.8 3-3.2 3-.6 3-4.6 3 .7 3 2.3 3 7 3 2 3 2.7 3 10.6 3 10 3 9.3 3 13.1 3 11 3 12.5 3 10.1 3 15.3 3 20.3 3 15 3 4.5 3 16.9 3 18.2 3 13.2 3 13.4 3 12.5 3 11.3 3 6.3 3 14.1 3 17 3 8.7 3 12.8 3 8.3 3 7.5 3 7.6 3 9.8 3 4.2 3 7.5 3 4.7 3 .8 3 7.4 3 2.2 3-.5 3 4.7 3 5.2 3 3 3-1.7 3 5.2 3 1.8 3 1.4 3 2.3 3 .7 3 2 3 2.5 3 4.1 3 4 3-2.1 3-2.8 3 1.2 3 2.2 3 2.9 3-.8 3 .4 3 1.6 3 3.4 3-4 3-.4 3 1.9 3 2.9 3 3.7 3 .5 3-.9 3-1 3 1.7 3 3.1 3 .6 3 1.2 3-1 3-5.4 3 4.8 3 3.6 3-7.8 3 4.7 3 3 3-3.6 3 5.5 3 2.9 3-1.4 3-1 3 4.5 3-6 3 6.8 3-5.8 3-1.9 3 6.8 3-2.4 3-2.5 3-.8 3 5.8 3 2.8 3-2.1 3-2.3 3 3.8 3-2.3 3-4.6 3 4 3 .1 3-.7 3 4.7 3 1.1M214 2128.0l3-3.8 3-1.7 3 .4 3-1.7 3-.5 3-1.2 3-1 3-.1 3-3.9 3-6.5 3-12.1 3-7.7 3 9 3 9.6 3 8.2 3 6.5 3 1 3-2.3 3 1 3 1.4 3-1.9 3 2.2 3 1.7 3-.2 3 .2 3-1 3-.1 3 1.4 3-.3 3-.7 3 2.5 3 0 3-.5 3 1.2 3-2.3 3 .9 3 1.1 3-2.8 3 .7 3 3.3 3-2.2 3-4.9 3 .2 3 3.2 3 3.1 3-1.9 3-2.2 3-3.6 3-1.2 3 3.4 3 .8 3 .6 3-3.2 3-1.7 3 .1 3-1.4 3-3.2 3-1 3 .5 3 .8 3-2.2 3 .7 3 1.1 3 .6 3-1.5 3-3.8 3-1.7 3 1 3-3.8 3-1.3 3 1.4 3-.8 3 .5 3-3.3 3-2.3 3 1.7 3-1.6 3-1.2 3-2.4 3-1.3 3 1.3 3 .1 3-1 3-2 3-1.1 3 .8 3-2.1 3-1.4 3 .3 3-1.5 3-.4 3-2.7 3-2.5 3-.6 3 1.3 3-.9 3-1.8 3-.1 3-1.4 3 2.6 3-.7 3-2.2 3-2.3 3 .2 3-.6 3-.7 3-1.5 3-2.3 3-1.9 3-.6 3 .6 3-2.7 3-2.7 3 .1 3 .5 3-1.3 3-4.2 3 .4 3-2.1 3-2.4 3-1.5 3-4.9 3-3.6 3 0 3 .9 3-2.3 3-2.3 3-3.2 3-3.4 3-2.1 3-.4 3-2.1 3-2.6 3-.7 3-1.7 3-2.7 3-1.4 3-1.2 3-2.9 3-1.4 3-1.2 3-3.8 3-2.1 3-1 3-6.7 3-1.9 3-1.4 3 .3 3-2.2 3-1.6 3-3.5 3-4.5 3-1.8 3-1.8 3-5.7 3-2.4 3-2.7 3-2 3-2.2 3-2.5 3-2.8 3-1.9 3-3.8 3-3.7 3-2.8 3-1.8 3-3.9 3-5.2 3 1.7 3-2.3 3-5.7 3-4.8 3-.1 3-5.4 3-4.3 3-.9 3-4 3-5.2 3-5.6 3-3.3 3-5.5 3-6.2 3-3.5 3-6.6 3-2.6 3-5.9 3-3.2 3-3.5 3-4.6 3-5.5 3-5 3-6.6 3-3.1 3-.5 3-4.3 3-7.7 3-1.7 3-1.2 3-3.4 3-2.1 3-2.4 3-1 3-1.8 3-.5 3-5.1 3 .6 3 3.1 3-.3 3-3.8 3 2 3 .7 3 1.4 3 2 3 4.2 3 3.5 3-.1 3 1.7 3 3.9 3 .6 3 4.6 3 3.3 3 6.6 3 2 3 3.3 3 4.7 3 4.6 3 3.8 3-.5 3 3.9 3 1.9 3 3.6 3 3.6 3 7 3 1.7 3-.1 3 4.8 3 3.9 3 1 3 2.9 3 2.8 3 1.7 3 1 3 4.3 3 3.6 3 3 3 1.1 3 4.6 3 .6 3-2.2 3 4.8 3 1.7 3 3 3 2.8 3 1.3 3 .5 3 1.9 3 2.9 3 .4 3 .9 3-.2 3 1.6 3 .7 3-.8 3 3.6 3-1.7 3 1.2 3 1.6 3 1.2 3 .7 3 2 3-.5 3-1.5 3-1.5 3 2.6 3 .8 3 .7 3 .4 3-.2 3-1.9 3 1.7 3 2.4 3-.7 3-2.2 3-.6 3-1.4 3 0 3-.5 3-.8 3-.1 3 .1 3-1 3-1.9 3-2.9 3-.3 3-1.8 3-5.4 3-3.2 3-2.6 3-.6 3-3.6 3-2.7 3-2.4 3-1 3-4.7 3-2.8 3-2.8 3-4.1 3-6 3-5.1 3-2 3-6.6 3-5.1 3-6.3 3-7.7 3-5.8 3-6.6 3-7.7 3-4.8 3-8.7 3-10.1 3-11 3-10.3 3-7.6 3-8.7 3-8.3 3-8 3-7.6 3-6.4 3-4.2 3-3.6 3-5.6 3-6.2 3-1.5 3-.7 3 .7 3 1.5 3 1.2 3 3.3 3 5.1 3 8.1 3 6.1 3 8.7 3 9.4 3 10.3 3 12 3 12.4 3 12.5 3 14.9 3 15.4 3 9.8 3 14.2 3 13.8 3 14.6 3 13.9 3 13.1 3 14.7 3 13.4 3 11.7 3 10.9 3 12.1 3 10.8 3 10.8 3 10.2 3 8.7 3 7.2 3 7.2 3 7.3 3 6 3 6.1 3 5.3 3 5.4 3 1.8 3 .8 3 3.7 3 2.3 3 4.1 3 1.9 3-.6 3 4.9 3 1.9 3 2.3 3 2.5 3 1.7 3-.7 3-.3 3 1.9 3 .6 3 1.9 3 1.3 3 2.2 3 2.1 3-.4 3 .6 3 1.6 3 .5 3 1.7 3 1.9 3-.2 3-.9 3-.4 3 3.4 3 1.6 3 .6 3-.3 3 1.3 3 .1 3-.2 3 1.4 3 .2 3 2.8 3 1.7 3 .8 3-.8 3-.4 3 .6 3-1.8 3-1.6 3 3.7 3 .5 3 .6 3 1.8 3-.2 3-1 3 1.4 3 2.5 3 .1 3-3.2 3-2.3 3 3.6 3 2.2 3-1 3 1.1 3 3.3 3-2.4 3-3.5 3 .2 3 2.9 3 2.5 3-3.4 3 .8M214 2105.3l3-2.5 3-1.3 3-1 3 1.7 3 1.2 3-3.5 3-4.3 3-3 3-4.7 3-6.9 3-16.8 3-15.8 3 13.8 3 19.5 3 11 3 5.1 3 2.4 3-.8 3 1.7 3-.9 3 3.5 3 1 3-1 3-1.4 3 .9 3 2.8 3 .2 3 .6 3-1.2 3-.6 3 1.5 3 1.7 3-1.6 3 2.1 3 .4 3-2.6 3 0 3 0 3-4.3 3 2.2 3 2.1 3 2.7 3-.7 3-1.4 3-1.1 3-.9 3-.4 3 1.3 3-4.3 3-.7 3 2.1 3-3.6 3-3.7 3 .6 3 2 3-1.2 3 0 3-2.9 3 .8 3-.9 3-2.5 3 .6 3 .4 3-.9 3-1.7 3-1.6 3-1.3 3-2.2 3-.4 3 2.2 3-1.5 3-1.1 3-3.1 3 2.2 3-.6 3-4.4 3-.3 3 .2 3 3 3-.8 3-4 3 .8 3-2.7 3-2.1 3-2.6 3-.2 3 2.4 3-5 3 1.6 3 .2 3-1.5 3-1.7 3-.9 3-1.3 3 .6 3 2.7 3-4 3-3.6 3 .7 3 2.5 3-1.5 3-2.2 3-.8 3-2 3-3.3 3 2.8 3 .9 3-2.4 3-4.9 3 .2 3-.8 3 .2 3-2.9 3 .2 3-2.3 3-3.6 3-.2 3-3 3-2.5 3 .5 3-1.6 3-1.5 3-1.9 3-3.9 3-3.7 3-.1 3-1.4 3-.8 3 .6 3-5.9 3-1.7 3-1.3 3-2.1 3-2.7 3-1.6 3-3.5 3-.9 3-1.4 3-.9 3-2.2 3-1.7 3-2.5 3-5.1 3-.6 3-2.3 3-1.9 3-2.3 3-1.1 3-.9 3-4.7 3-1 3-1.3 3-4.9 3-2.6 3-1.6 3-2.1 3-4.7 3-3.6 3-2.9 3-2.1 3-3.7 3-2.2 3-.8 3-.8 3-2.2 3-7.2 3-2.1 3 .1 3-5.2 3-3.4 3-2.7 3-4.3 3-2.8 3-2.5 3-4.2 3-3.4 3-6.2 3-5.2 3-5.1 3-1.7 3-6.4 3-4.9 3-4.2 3-1.5 3-6.1 3-7.9 3-4.5 3-2.1 3-3.6 3-3.8 3-3.4 3-4.7 3-5.2 3-5.2 3-2.6 3-4.6 3-4.8 3-2.7 3-1 3-3.7 3-1.2 3-1.1 3-2.5 3-1.1 3-1.9 3-2 3 1.3 3 .4 3-1.7 3 .1 3 2.2 3 3.8 3 1 3 .1 3 2.4 3 .9 3 1.3 3 .9 3 4.5 3 6.6 3 5 3 .9 3 5.4 3 .8 3 .9 3 4.5 3 5.3 3 3.5 3 4.4 3 2.5 3 2.9 3 3.4 3 3.6 3 3 3 2.1 3 3.7 3 2.6 3 2.4 3 3.4 3 3.9 3 1.3 3 2 3 4.8 3 .2 3 3.2 3 3.3 3-2.1 3 1.2 3 5.1 3 1.6 3 1.9 3 4.5 3-1.1 3 .8 3 2.8 3 .8 3 2.1 3 .3 3 3.3 3-1.9 3 1 3 1 3-2.1 3 4.1 3 .3 3 3.5 3 .7 3 1.3 3-2 3 3.1 3 1.6 3-2.8 3 3.1 3 .6 3-3.5 3 .7 3 4.3 3 .5 3-1.9 3 .7 3 .2 3-.4 3-3.6 3-.8 3 1.9 3-3.1 3 1.6 3-.5 3-4.8 3 1.4 3-.5 3 .3 3-2.8 3-4.9 3-.4 3-1 3-1.6 3-1.4 3-3.5 3-2.4 3-1.4 3-2.5 3-4.2 3-3.2 3-5.6 3-5.8 3-1.7 3-3.4 3-4.2 3-4.1 3-7.6 3-3.9 3-7.6 3-6.5 3-5.8 3-9.6 3-5.8 3-3.9 3-10.2 3-7.9 3-8.5 3-12.5 3-6.8 3-8.9 3-9.7 3-6.4 3-9.1 3-7.3 3-1.8 3-6.5 3-5 3-.7 3-2.9 3-3.7 3-2 3 4.2 3-.3 3 5.1 3 6 3 3.9 3 6.6 3 9 3 10.3 3 11.3 3 11.7 3 12.7 3 11.5 3 16.3 3 9.3 3 11.2 3 16 3 14.5 3 11.3 3 13.4 3 15.5 3 14 3 14.7 3 14.3 3 9.3 3 10.2 3 12.8 3 12 3 9.6 3 8.5 3 8 3 6.8 3 7 3 7.3 3 6.8 3 3.3 3 3.4 3 5.1 3 2 3 1.7 3 3.2 3 2.3 3-.3 3 2.2 3 6.8 3-2.4 3 3.7 3 3.3 3 .8 3-.3 3 3.4 3 3.4 3-.5 3 .4 3 2 3-.8 3 .9 3 1.2 3 2.6 3 1.9 3-.4 3 2.4 3 2.9 3-2.3 3 .4 3-3 3-.7 3 4.4 3 2.2 3 5.1 3 0 3-.7 3-1.3 3 .7 3 .6 3-.5 3 1.6 3 .8 3-1.5 3 1.4 3 2.4 3 .7 3 .3 3 .3 3-.2 3 .9 3 .3 3-1.8 3 4.5 3 .4 3-1.3 3-.6 3 .7 3 1 3 .4 3-1.4 3 .6 3-2.5 3 1.8 3 1.1 3-1.3 3 3.5 3-.2 3-.5 3-2.2 3-2M214 2086.0l3 1.1 3-3.2 3-.2 3-.3 3-.7 3-1.4 3-2 3-2.8 3-4.4 3-7.6 3-22.8 3-24 3 13 3 25.4 3 12.8 3 7 3 4.6 3 3 3-.6 3 .9 3 4.9 3 .9 3-3.5 3-.9 3 .8 3 .2 3 1.6 3 3.5 3-1.4 3 1 3-1.7 3-.7 3 1.3 3 2.3 3 .5 3-.1 3-.4 3-2.2 3-2.5 3 1.3 3 1.1 3-.8 3-1.4 3 .4 3-1.5 3-.3 3 .2 3-1.4 3 1.2 3-1 3-.2 3-2.3 3-.3 3-.4 3-1.9 3 2.9 3-3.1 3-1.7 3-1.6 3 .8 3 1 3-2.3 3-1.6 3 .1 3-2.8 3-.6 3 1.4 3 1.3 3-1.1 3-1.9 3-2.3 3-1.6 3-2 3-2.3 3-.7 3 2.7 3-.9 3-2.5 3-3 3-.7 3-.6 3-1 3-.9 3 .2 3-1.4 3-2 3 1.1 3-2.4 3-.6 3 1.4 3-3.6 3-1.3 3 2.3 3-1.2 3 .7 3-3 3-.7 3-1 3 .9 3-1.3 3-1.2 3-2.3 3 1.6 3-.1 3-.7 3-1.6 3-2.3 3-2.9 3 .8 3 2 3-1.2 3-3.9 3-2.9 3-1.5 3 2.2 3-1.6 3-3.4 3-2 3-1.1 3-3.5 3 .2 3 2 3-4.3 3-2.1 3-1.2 3-3 3-5 3-2.1 3-.9 3-2.5 3-1.9 3-1.3 3-1.6 3-1.8 3-2.5 3-.4 3-.9 3-4.1 3-2.9 3-4 3-2.2 3-1.6 3 1.4 3-4.8 3-3.7 3-.4 3-1.7 3-1.2 3-2.9 3 .1 3-1.9 3-6.7 3-4.4 3-.9 3-2.3 3-1.8 3-3.9 3-3 3-.9 3-5 3-3.3 3-1.7 3 1.9 3-4.3 3-5.7 3-2.2 3-2.1 3-3.9 3-4.4 3-1 3-1.9 3-5 3-1.6 3-3.7 3-5.2 3-2.5 3-4.9 3-4.4 3-5.2 3-5.4 3-3.6 3-4.3 3-4.1 3-7.8 3-4.6 3-.2 3-4.7 3-5.9 3-4.5 3-4.3 3-2.7 3-4.7 3-4.4 3-3.2 3-5.1 3-1 3-4.4 3-6.3 3-3.4 3-1.1 3-2.9 3-1.6 3-1.4 3-2.4 3-1.2 3-.2 3-2.2 3 .3 3 1.6 3-1.2 3 3.1 3 2.9 3 1.4 3-.2 3 1.1 3-.9 3 1.7 3 4.4 3 6.4 3 3.3 3 .9 3 4.6 3 4.3 3 2.9 3 3.1 3 3.9 3 3.8 3 2.9 3 2.5 3 3.5 3 2.9 3-.8 3 4.3 3 5.7 3 2.3 3 2.5 3 6.8 3 2.5 3-1.5 3 1 3 4.6 3 5.5 3 1.2 3 .6 3 3.5 3 3.7 3 .6 3 .4 3-.1 3 3.2 3 2.9 3 3.2 3 0 3 2.2 3 5.3 3 0 3-1.5 3 3.2 3 3.4 3-1.8 3 .1 3 2.7 3 3 3-.7 3-1.1 3 1.6 3 1.1 3 .8 3 1.3 3 2.3 3 .5 3-1.3 3-1.4 3 .7 3 2.2 3-.5 3 2.4 3-1.5 3 .2 3-.1 3 4 3-.4 3-6.4 3-.1 3 3.4 3-.5 3-3.6 3-.2 3 1.3 3-.8 3-2.3 3-1.4 3-1.6 3-1.1 3-1.4 3-3.2 3-.4 3-3.5 3-5.5 3-3.2 3-3.4 3-.3 3 .5 3-4 3-7 3-3.4 3-3.5 3-3.9 3-6 3-6.6 3-3.5 3-4.9 3-4.9 3-7.6 3-3.1 3-8.5 3-9.1 3-9.1 3-9.6 3-7.8 3-8.5 3-8.6 3-9.9 3-9 3-8.6 3-8.4 3-6.3 3-2.8 3-2.8 3-7.6 3-4.7 3-3.9 3-2.3 3-4 3-.9 3 1 3 3.6 3 4.7 3 3.4 3 6.5 3 6 3 8.6 3 8.5 3 10.1 3 11.2 3 12.6 3 11.9 3 14.3 3 13.3 3 10.8 3 15.5 3 13.8 3 10.9 3 12.9 3 17.5 3 15.6 3 9.8 3 11.2 3 14.8 3 12.5 3 13.1 3 7.9 3 10.3 3 9.9 3 10 3 7.2 3 6.5 3 6.6 3 5 3 3.8 3 4.8 3 6.8 3 3.1 3 0 3 4.8 3 3.3 3 .2 3 1.4 3 4.4 3 2.9 3-1.8 3 1.8 3 1.9 3 1.4 3 2.4 3 2.2 3-.3 3-.4 3 .5 3 .4 3 2 3 3.4 3 1.5 3 2.8 3 1.2 3-1.5 3-.8 3 .7 3 2.2 3 2 3 .2 3 1.8 3 .7 3-.3 3 2.4 3 .3 3 .5 3-.7 3-2.2 3 1.5 3 3 3 .3 3-2.8 3 2 3 3.9 3 .6 3-1.5 3-.8 3-.2 3 2.5 3 0 3-2.5 3 3.1 3 .9 3-1.4 3 .6 3 4.5 3-1.8 3-1.4 3 1.7 3 .2 3-2.4 3-1 3 2.7 3 .4 3 1.2 3 1.1 3 1.4 3-1 3 .2M214 2073.4l3-3.9 3-2 3-2.2 3 2.1 3-.6 3-5.6 3-2.1 3-2.3 3-5.9 3-14.3 3-21.8 3-16.8 3 21.3 3 22.2 3 13.4 3 3.8 3 2.9 3 1.9 3 2.2 3 3 3 1.5 3 .4 3 1.8 3-3.3 3 1.8 3 1.2 3-1.3 3 3.2 3 .2 3-.2 3-1.6 3 2.1 3-.4 3-1.5 3-1.1 3 1.1 3-1 3 .2 3-.3 3 .3 3 .3 3 3.3 3 1.3 3-2.1 3-3.2 3-3.3 3 .1 3 1.5 3-.6 3-.6 3-1.7 3 1.2 3 1.4 3-3.6 3-.6 3-.7 3 .2 3 .2 3-1.6 3-1.1 3 .3 3-1.7 3-2.2 3 .2 3-3 3 1.9 3-.4 3-.5 3-1.1 3-4.6 3-2.4 3 .9 3 .8 3-.9 3-3.7 3-.7 3-.6 3-1.6 3-3.2 3 .3 3 .6 3 1.4 3-3.6 3-2.2 3 2.8 3-.9 3-2.5 3 .5 3 .9 3 .2 3-2.9 3-5.1 3-.1 3 3.9 3-.3 3-3.1 3 1 3-.1 3-1 3-1.2 3-2 3-.9 3-.1 3-.2 3-3.2 3 1.4 3-.3 3-1.7 3-.2 3-1.4 3-2.4 3 2.7 3 .4 3-3.6 3-3.3 3-1.3 3-3 3-1.7 3-.6 3-1.2 3-3.8 3-3.6 3-2.4 3-.6 3-1 3-1.2 3-1.1 3-4.4 3-3.3 3-1.1 3 1.7 3-3.5 3-2.3 3-2.9 3-3 3-1.9 3-.1 3-4.9 3-2.9 3-2 3-1.6 3 .2 3-1.9 3-4.2 3-2.9 3-.1 3-2.6 3-1.1 3-2.9 3-2 3-4.2 3-.4 3-2.2 3-2.7 3-.9 3-4.2 3-3.4 3-4.2 3-.7 3-1.2 3-5.6 3-2.6 3-1.9 3-3.2 3-1.4 3-5.4 3-2.6 3 1 3-1 3-4.8 3-5.3 3-1.5 3-3.2 3-4.6 3-5.6 3-4.1 3-6.9 3-3.4 3-1 3-3.7 3-6.6 3-7.9 3-2.4 3-3.8 3-4.9 3-3.9 3-7.8 3-4.3 3-2 3-3.5 3-3.7 3-6.3 3-4.4 3-3.1 3-4.5 3-6.9 3-1.3 3-1.4 3-4.1 3-.2 3-1.7 3-2.3 3-.6 3-2.1 3-2.4 3-3.4 3 1.4 3 .4 3-1 3 2.4 3 .2 3-1.4 3 .5 3 1.7 3 5.2 3-.4 3 1 3 6.2 3 3.8 3 2.3 3 1.4 3 2.5 3 4.9 3 2 3 .9 3 3.5 3 7.1 3 2 3 3.4 3 3 3 1 3 4.1 3 4.6 3 2.8 3 1.7 3 5.6 3 3.4 3 3.9 3 2.6 3 1.5 3 2.7 3 2.6 3 2.1 3 1.3 3 1.9 3 2.7 3 3.5 3-.3 3 2.9 3 3.2 3-2.2 3 4.5 3 1.8 3 .4 3 3.6 3 .7 3-2 3 3.5 3 2.7 3 .4 3 .4 3 .3 3 2.3 3 .9 3-.8 3 .4 3 3.6 3 1.9 3 .9 3-1 3 .4 3 2.2 3 .5 3-.6 3 .2 3 .6 3 1.9 3 1.8 3 .6 3-3.5 3 2 3 .7 3-.8 3-1.6 3-.1 3-1 3 .3 3-1.6 3-1.8 3-1 3-1.7 3-3.1 3-3 3 1.2 3 .5 3-4.5 3-2.9 3-.7 3-2 3-.6 3-2.9 3-5 3-3.2 3-3.4 3-4.8 3-3.9 3-2.8 3-7.5 3-4.5 3-3.4 3-5.3 3-3.1 3-5.4 3-7.1 3-8.4 3-4.3 3-6.1 3-12.2 3-5.9 3-10.9 3-10.3 3-9.2 3-7.8 3-10.8 3-8 3-6.4 3-4.2 3-3.3 3-8 3-8.6 3-3.2 3-2.8 3-4.1 3-.6 3-.9 3-1.7 3 .9 3 5.4 3 3 3 6.9 3 7.9 3 8.2 3 7.8 3 11.7 3 10.5 3 10.4 3 10 3 14.7 3 16 3 13.6 3 11 3 14.3 3 13.6 3 13.5 3 13.5 3 15.6 3 14.4 3 9.9 3 12.9 3 13.6 3 12.1 3 8.3 3 12.1 3 12.1 3 8 3 6.8 3 9.8 3 4.2 3 4.8 3 6.9 3 4.1 3 4.1 3-.5 3 1.9 3 5.6 3 6.1 3 .5 3-1.7 3 .9 3 4.3 3 4 3 1.2 3-.8 3 .9 3 1.5 3 1.6 3 1.3 3 2 3 1.3 3 1.2 3 1.1 3 1.3 3 .3 3 3.5 3-.1 3 3.1 3 .7 3-4.3 3 0 3 4.4 3 1.6 3 2.3 3-1 3-.8 3 1.1 3 1 3 .8 3 .5 3 1.6 3-1.2 3 .6 3 1 3 2.7 3-.7 3-.2 3 .2 3 1.3 3-.3 3 1.1 3-.2 3 1.3 3 3.9 3 .1 3 .6 3-.8 3-.3 3-.3 3-.2 3 1.8 3 .5 3-1.2 3-1.6 3-1.6 3 1.4 3 .2 3 .8 3 2.6 3 1.4 3-.2 3-1.2M214 2051.3l3-1.7 3 .4 3-1 3-1 3-1.5 3-1.3 3-4.1 3-5 3-6.6 3-12.8 3-28 3-18.9 3 25.1 3 27 3 11.4 3 6.9 3 2.2 3 1.2 3 1.9 3 3.2 3 1.7 3 1.2 3 1.5 3 .6 3 2.3 3-1.1 3 .2 3-.7 3-.7 3-1.7 3 2.2 3-1.7 3 1 3 .3 3 2.4 3 1.5 3-1.4 3-.7 3 0 3-1.9 3-1.5 3-.5 3 2.4 3-2.2 3 .3 3-1.2 3-3 3 2.8 3-.2 3-1.6 3 1.2 3-.7 3-3 3 .3 3 .4 3-1.6 3-2.2 3-.3 3-.6 3 0 3-1.3 3-1.6 3-.5 3 .4 3 1.2 3-2.7 3-.2 3-4.7 3-2.6 3 1 3 .9 3-.6 3-1.6 3-2 3 1.3 3-2.2 3-3.8 3 .3 3 1.7 3-1.7 3-1.5 3-.5 3 .1 3 .1 3-.1 3-1.3 3-2 3-.9 3-.8 3-2.9 3-.6 3 .4 3 1.1 3-1.2 3-2.8 3-1.1 3 1.6 3-2.4 3 1 3 0 3-2.2 3-.4 3-.7 3-1.6 3 .1 3-2.3 3-2.6 3 3.7 3-.8 3-1.8 3-1.5 3-1.7 3 .7 3-.2 3-1.9 3-2.8 3-1.1 3-2.5 3-2.9 3-1.5 3-2.4 3-2.4 3-3.4 3-1.3 3-1.3 3-.9 3-3.2 3-3.2 3-1.3 3-2.6 3-.2 3 .9 3-3.8 3-1.8 3-3.4 3-3.8 3 .6 3-.6 3-2.2 3-.3 3-2.2 3-4.9 3-1.9 3-3.4 3-5 3 0 3-1.2 3-2.2 3-2.6 3-5.1 3-2.7 3-3.2 3 .9 3-3 3-1.6 3-1.6 3-3.8 3-.2 3-.6 3-4.1 3-5.8 3-4.4 3-1 3-1.5 3-2.9 3-3.1 3-5 3-3.6 3-1.4 3-1.3 3-5.6 3-1.6 3-2.9 3-5.4 3-3.4 3-3.8 3-4 3-3.8 3-4.3 3-8.1 3-3.1 3-2.7 3-5.6 3-4.7 3-4.6 3-6.8 3-3.8 3-2.7 3-6.6 3-5.3 3-5.8 3-1.1 3-2.4 3-3.1 3-6.7 3-5.6 3-.5 3-3.8 3-2.1 3-2.9 3-1.2 3-1.7 3-4.4 3 .1 3-1.5 3 .2 3-1.9 3-.2 3 2.1 3 1 3-1.6 3-.7 3 3.9 3 2.3 3 .6 3 4.6 3 .7 3 3.6 3 1.9 3 .7 3 2.3 3 3.7 3 4 3 1.8 3 1.8 3 3.4 3 6.4 3 3.9 3 3.2 3 3.7 3 1.9 3 2.7 3 3.5 3 3.7 3 .6 3 3.3 3 2.5 3 2.5 3 4 3 3.2 3-1.2 3 3.9 3 2.3 3 1.6 3 2.3 3 3.8 3 3.1 3 1.2 3 3.3 3-.1 3 1.2 3 3.7 3 .3 3 .7 3 1.3 3 .7 3 4.3 3 .4 3 1.1 3 2.6 3 .1 3-.7 3 3.5 3 1.7 3-1.1 3-1.4 3 2.5 3 1.6 3 .3 3 .7 3 2.1 3-.6 3 1.1 3 1.1 3-1.4 3 .1 3 2 3-1.1 3 2.7 3 2.8 3 .4 3-2.4 3-.7 3-1.5 3 .6 3 .2 3 .1 3-1.9 3-.4 3-.8 3-1.8 3 .9 3-.9 3-1.6 3-3.1 3-3.2 3-2.4 3-1.3 3-4.2 3-2.6 3-3.9 3-.9 3-2.7 3-2.1 3-3.6 3-6.4 3-6.3 3-2.7 3-3.8 3-7.5 3-2.4 3-4.7 3-7.6 3-4.9 3-7.2 3-10.1 3-7.2 3-4.3 3-7.4 3-12.3 3-12.4 3-8.7 3-5.3 3-5.4 3-11.5 3-9.9 3-6.3 3-5 3-8 3-4.4 3-4.4 3-5.7 3-.5 3 1.3 3-.7 3-2.3 3 .5 3 4 3 7.3 3 4.9 3 9.1 3 5.5 3 8.8 3 10.3 3 10.2 3 10 3 11.3 3 12 3 14.8 3 13.7 3 12.6 3 11.8 3 12.5 3 15.6 3 15.9 3 12.3 3 16.1 3 16.6 3 12 3 10.8 3 11.4 3 10.2 3 12.2 3 10.5 3 9 3 5.3 3 5.7 3 6.8 3 7.4 3 4.6 3 3.8 3 5.3 3 1.6 3 2.1 3 5.4 3 4.3 3 1.3 3 3.6 3 1.5 3-.8 3 1.6 3 0 3 3.2 3 3.2 3 .5 3 .4 3 1.1 3 .4 3 3.5 3 1.1 3-.7 3 .3 3 .6 3 1.6 3 2.8 3 2.4 3 .5 3-1.4 3 1 3 1.3 3 2.1 3-.2 3-1.8 3 1 3 4.3 3-1.5 3-1.1 3 2.4 3 1.3 3-1.4 3 1.3 3 2 3 1.9 3 2 3 1.9 3-.7 3-1.1 3 .6 3-.3 3 2.7 3 1.9 3-3.1 3 1.6 3 .2 3 2.4 3 0 3-2.7 3 1.7 3 .1 3 .6 3-.4 3 1.8 3-1.6 3-.7 3-1.2 3-.4 3 2 3 1 3 .9 3-.8M214 2033.1l3-4 3-1.3 3 1.8 3-1.8 3-2.5 3-1.9 3-1.5 3-3.5 3-8.5 3-15.3 3-27.6 3-14 3 27.1 3 20.7 3 10.7 3 8.2 3 5.7 3 1.3 3 2.8 3 .7 3 1 3-1 3 1.4 3 .1 3 .3 3-1.3 3 .5 3 .1 3 4.7 3-1 3-.2 3-.3 3 .3 3-.4 3 1.2 3 1.2 3-.2 3-2.4 3-1.4 3 1.8 3-.1 3-1.2 3-2 3-.5 3 2.3 3-2.3 3-.4 3 1.1 3 .6 3 1.2 3-1.7 3-2.6 3-.8 3-.4 3 1.7 3-.9 3-1.7 3 .7 3-1.9 3-1.1 3-.2 3-1.5 3-1.2 3-2.6 3 .1 3-.2 3-2.8 3-2.1 3-1.1 3-1.3 3-.5 3-.6 3-.5 3-2.6 3-.9 3-.8 3-.2 3-2.8 3-2.7 3 .8 3 2 3-.9 3-1.1 3 .4 3-2 3 .5 3-.8 3-.4 3-2 3-1.8 3-.1 3 .6 3 .3 3-1.8 3 1 3-1.4 3-.7 3 2.6 3-3.7 3-4.1 3-.5 3-.8 3-1.3 3 .6 3 2.5 3-1.4 3 .4 3-1.4 3-1.4 3-1.8 3-1.9 3 1.1 3 .9 3-3.3 3-3.6 3-.1 3-1.4 3-4.7 3-.4 3-1.1 3-3.7 3 .4 3-4 3-3.8 3-.2 3-.1 3-4.2 3-1.6 3-1.9 3-.5 3 2 3-.4 3-4.9 3-7.1 3-.8 3-1.7 3-2.7 3-3.2 3-.9 3-1.4 3-3.8 3-3.4 3-1.8 3-1.9 3-1.7 3-1.9 3-1.2 3-1.3 3-3.2 3-2.4 3-1.4 3-3.1 3-4.3 3-1.5 3-1.7 3-3.3 3-2.4 3-3.5 3-.8 3-2.5 3-2.4 3-3.9 3-2 3-2.7 3-2.4 3-3.4 3-2.8 3-1 3-1.4 3-4.4 3-4.5 3-1.8 3-5.3 3-3 3-1.2 3-5.4 3-6 3-7.2 3-5.2 3-3 3-2 3-2.9 3-5.4 3-5.6 3-6.2 3-5.4 3-4.7 3-4.9 3-3.9 3-4.7 3-3.2 3-2.6 3-4.9 3-5.9 3-4.7 3-2.2 3-4.1 3-2.9 3-.8 3-2.6 3-4.2 3-2.1 3-.7 3-1.7 3-3.8 3 .6 3 .3 3 .3 3-1.1 3 1.3 3 2.4 3-.1 3-.4 3 .7 3 .9 3 2.5 3 3.1 3 1.6 3 2.1 3 1 3 5.3 3 4.4 3 4.4 3 5 3-.1 3 1.8 3 4.7 3 5.2 3-.9 3 2.4 3 4.2 3 2.3 3 1.1 3 5 3 5.9 3 2.7 3 2.1 3 .7 3 2.5 3 3.5 3 5.5 3 1.7 3 .3 3 .9 3 3.2 3 3.2 3 .6 3 2.7 3 2.2 3 1.5 3 .8 3 1.3 3-1.4 3 .7 3 5 3 3.6 3 .5 3 2 3 1.8 3 .7 3-.3 3-.9 3 3 3 3.2 3 1.6 3 1 3-.4 3 2.2 3 2.3 3 .9 3-.3 3 1.6 3 1.7 3-1.3 3-.2 3 2.1 3 1.1 3-.5 3-1.5 3 .8 3 1.9 3-1.6 3 1.8 3 .8 3-.2 3-.3 3-.5 3-2.2 3-.5 3-1.5 3-2.2 3-.6 3-1.5 3-2.2 3-2.3 3-3.5 3-3.2 3 1.2 3-3 3-1.5 3-1.8 3-2.8 3-5.4 3-3.8 3-4.3 3-4 3-3.2 3-4.8 3-4.8 3-5.2 3-5.4 3-5.4 3-8.7 3-5.5 3-4.7 3-6.4 3-7.4 3-8.6 3-8.7 3-11 3-9.2 3-7.1 3-8.9 3-9.9 3-7.9 3-6.2 3-10.6 3-5.2 3-4.1 3-6.4 3-4.3 3-3.1 3-4.6 3-.7 3 .6 3-1.4 3 1.7 3 6.1 3 4.9 3 5.3 3 4.7 3 6.3 3 10.1 3 10.4 3 10.7 3 9.3 3 9.8 3 14.6 3 12.5 3 12 3 9.5 3 15.1 3 16.7 3 14.5 3 13.3 3 12.4 3 15.8 3 14.6 3 13.5 3 11.9 3 13.4 3 8.6 3 12.4 3 11.9 3 9.9 3 4.7 3 6.7 3 5.8 3 5.3 3 5.7 3 4.4 3 5.5 3 4.7 3 4.2 3 2.7 3 .7 3-.9 3 1.5 3 2.5 3 4.9 3 2.8 3 .7 3 4.3 3 2 3 .3 3 .6 3 1.9 3-1.9 3 1.8 3 2.3 3 3 3-.8 3-1.3 3 4.2 3 1.6 3-1.6 3 .4 3 3.2 3 .9 3 1 3-.7 3-.1 3 3.2 3 .8 3 .5 3 .8 3-2.8 3 2.7 3 4.3 3-.3 3 .6 3 .2 3-2.4 3 2 3 4.4 3 1.2 3 .8 3-1.5 3-1.4 3-1.4 3 .9 3 .7 3 1.9 3-1.4 3-.1 3 1.8 3 .8 3 2.1 3 1.1 3-2.5 3-1.3 3 1.7 3 .8 3-2 3 .9 3 .1 3-.8 3 1.1 3 .6 3-.4M214 2014.1l3-.6 3 1.3 3-2.2 3-3.1 3-.7 3 .1 3-3.8 3-4.4 3-6.8 3-13 3-25.1 3-16.9 3 25 3 23.2 3 13 3 3.2 3 3.3 3 2.6 3 1.3 3-1.1 3 2.7 3 1.1 3 3.8 3-1.8 3-.9 3 2.6 3 .1 3-1.2 3-.5 3 1.5 3-.5 3 1.7 3-2.1 3-1.1 3 3.2 3-.7 3-.2 3-.2 3 1 3 .5 3 .4 3-.3 3-1.9 3-1.8 3 1.2 3-1.1 3-1.4 3 0 3-3.1 3 0 3-.3 3 3.3 3 .7 3-2.4 3-2.9 3 .8 3-2 3-.6 3-1 3 1.2 3 .2 3-.1 3 .4 3-3 3-2 3 .2 3-1.8 3-1.2 3-2.1 3-2.6 3 1.2 3-1.8 3 .4 3-1.2 3-4 3-1.6 3-.3 3 .9 3-2.7 3-.1 3 1.4 3-.2 3-.9 3-4.2 3-.3 3-1.3 3-2.1 3 2.9 3 .1 3-2.3 3-.6 3 .9 3-1.1 3-1.2 3 .8 3-3.2 3 .6 3-1 3 0 3 .9 3-1.6 3-1.5 3-.1 3 0 3-1.5 3-2 3 1.7 3-2.1 3-2.9 3-.2 3-1 3 .3 3-.4 3 .1 3 .5 3-5 3-3.8 3-2.2 3-3 3-3.8 3-2.8 3 .8 3 1.4 3-2.1 3-2.5 3-2.4 3-2.1 3-2.4 3 .3 3-4.4 3-.3 3 .3 3-5.5 3-1.3 3-1.3 3-2.6 3 1.5 3-3.3 3-4.2 3-1.9 3-1.6 3-2.8 3-3.9 3-.8 3-3.3 3-2.9 3-2.2 3-.9 3-3.4 3-.6 3-2.8 3-2.1 3-3 3-4.2 3-.5 3-2.4 3-2.8 3-2 3-2.6 3-1.5 3-2 3-4.4 3 0 3-6.4 3-3.7 3-1.2 3-1 3-4.6 3-4 3-3.6 3-3 3-.1 3-2.6 3-5.4 3-4.2 3-3.8 3-.4 3-4.5 3-4.6 3-9.7 3-4.7 3-.9 3-7.1 3-6.3 3-3.5 3-3.7 3-3.4 3-4.6 3-4.7 3-2.8 3-7.4 3-4.1 3-2.8 3-4.4 3-7.7 3-1.8 3-3.2 3-5.1 3-3.4 3-1 3-.4 3-2.7 3-5 3 .3 3-.6 3-.2 3-2.2 3 2.2 3 1.5 3-1.4 3-4.7 3 .3 3 6.1 3 .5 3 .1 3 2.6 3 1.6 3 2.8 3 2.5 3 3.7 3 5.2 3 2.8 3 .3 3 3 3 3.5 3 3.6 3 2.6 3 3.6 3 5.3 3 3.6 3-.5 3 2.3 3 3.5 3 3 3 6 3 1.7 3 1.1 3 1.1 3 .8 3 2.8 3 3.6 3 3.7 3 2.9 3 1.7 3 .7 3 4.5 3 1.9 3 .9 3 1.4 3 3.9 3 1.1 3 1.6 3 1.1 3-.3 3 3.6 3 .2 3 3.1 3 1.7 3 .4 3 .8 3 1.7 3 2.8 3-2.2 3 .4 3 2.8 3 1.7 3-.6 3-.4 3-.2 3 3.2 3 5 3 .6 3 .2 3 2.2 3-3.8 3 1.9 3 2.5 3 1.1 3 .1 3-1.6 3 .9 3 2.5 3-.1 3-1.4 3 .6 3-4.6 3 1.9 3 3.4 3-.9 3-2.8 3-3 3-1.8 3-3.2 3-.2 3-2 3-2.4 3-2.3 3-2.7 3-2.4 3-.8 3-3.3 3-1.6 3-1.8 3-7.2 3-4.7 3-2.4 3-1.1 3-4.3 3-6.2 3-5.4 3-8 3-5.7 3-4.9 3-6.6 3-3.9 3-8.9 3-7.1 3-9.4 3-8.8 3-9.3 3-8.5 3-7.3 3-10.7 3-8.2 3-9.9 3-7.7 3-6 3-6 3-5.5 3-3.7 3-7 3-5 3 .2 3-.2 3-2.1 3-.4 3-.4 3 3.3 3 5.1 3 3.7 3 7.5 3 7.1 3 8.5 3 8.9 3 7.4 3 11.4 3 12.2 3 9.5 3 11.8 3 15.1 3 15.4 3 13.2 3 12.1 3 12.5 3 15.2 3 15.4 3 17.3 3 16.4 3 11.6 3 11 3 13.4 3 12.6 3 12 3 8.4 3 11.5 3 7.4 3 3.4 3 9.5 3 7.3 3 3.3 3 .8 3 7 3 4.5 3-1.1 3 6.2 3 2.4 3 .3 3 3.4 3 2.1 3 3.5 3 5 3 1.6 3 .6 3-1.4 3 1.2 3 3.1 3 .4 3 0 3 2.4 3 2.4 3 .7 3-1.2 3-.1 3 1.3 3 4.2 3 .7 3-.8 3-.3 3 1.5 3 1.6 3 1.4 3-.5 3 .9 3 2.1 3 1.9 3 2.3 3-3.3 3-.6 3 1.9 3 3.1 3 1.2 3-2 3-.5 3 2.1 3 .6 3 .4 3 .9 3 .3 3 .6 3-1 3 2.9 3 1.6 3 .9 3-.4 3-.7 3 1.1 3-.6 3 1 3-.8 3 .3 3 .2 3 2.2 3 .9 3-3.4 3 1 3 2.3 3 1.6 3-1.7 3-.8 3-2.1M214 1999.2l3 1.5 3-1.1 3-2.5 3-1.6 3 1.1 3-3.5 3-2.8 3-2.3 3-5.5 3-11.4 3-24.1 3-13.4 3 23.6 3 18.8 3 8.7 3 4.4 3 .7 3 2.9 3 4.6 3 .2 3 .4 3-.1 3 .5 3 .2 3 1.2 3-.8 3 1.9 3-1.7 3 .1 3 3 3 2.4 3-2.1 3-1.2 3 0 3 .1 3-.7 3 1.7 3 2.2 3-.3 3-.4 3-1.3 3-2.3 3-4.1 3 1.3 3 1.2 3 2 3 .6 3-3.5 3 1.1 3 .2 3-3.5 3-1 3 3.9 3-.2 3-2.6 3 .3 3-.9 3-.5 3-1.4 3-.7 3-2.2 3-1.2 3-1.2 3-1.9 3 1 3 2.3 3-2.6 3-.3 3-.8 3-5.3 3-2.2 3-.3 3-1.2 3 .3 3 2.1 3-2.1 3-4.7 3-2.2 3 2.3 3-2 3-2.6 3-1.7 3 1.9 3 .3 3 .3 3-2.1 3-1.6 3 .5 3-.1 3-.2 3-.6 3-.9 3 1.1 3 .4 3-3.4 3-4.5 3-.9 3 1.1 3 1.4 3 2.4 3-1.5 3-1.9 3-1.4 3 1.5 3-3.8 3 1.7 3 2.1 3-4.7 3-1 3-1 3-2.3 3 .9 3 0 3-3.8 3 .2 3-.5 3-2.5 3-3.6 3 0 3-3.6 3-3.3 3 .1 3-.3 3-1.8 3-5.8 3-2.9 3 1 3-1.5 3-3.1 3-2.9 3-1.7 3-2.6 3-1.7 3-.3 3-3.9 3-3.8 3 .4 3 1.7 3-2.9 3-5.4 3-2.2 3 .2 3-1.3 3-1.4 3-4.1 3-2.8 3-4.1 3 .1 3-4.6 3-4.4 3-1.7 3-.4 3-.5 3-3.1 3-4.2 3-1.2 3-2.8 3-6.9 3-.9 3 2.6 3-6 3-2.7 3 .1 3-2.1 3-3.8 3-3.4 3-1.3 3-2.2 3-3.5 3-2.2 3-6.7 3-4.3 3-2.1 3-4.4 3-.6 3-5.2 3-5 3-3.9 3-4.8 3-5.1 3-5.5 3-4.7 3-1.7 3-2.7 3-7.3 3-7.5 3-4.9 3-2.1 3-1.1 3-8.7 3-2.4 3-5.7 3-7.8 3-.9 3-5.1 3-4.9 3-.6 3-.7 3-6.4 3-3.8 3-2.3 3-.4 3 .4 3-2.2 3-2.7 3 .2 3 .1 3 2 3-1.4 3-.3 3 .4 3 .5 3-1.3 3-.7 3 2.7 3 1.6 3 1.5 3 1.8 3 3.6 3 2.3 3 2.1 3 3.3 3 3.7 3 2.8 3 2.9 3 3.2 3 1.6 3 3.3 3 2.5 3 4.4 3 5 3 2.8 3 2.7 3 3.2 3 3.6 3 1.8 3 .9 3 1.2 3 2.4 3 2.9 3 3.4 3 2.7 3 2.4 3 .8 3 1 3 2.9 3 5.5 3-1.3 3 2.1 3 3.6 3 2.2 3-.6 3 3.8 3-.5 3 .4 3 2 3 1.3 3 2.3 3-.9 3 1.7 3 2.6 3 1.4 3 2 3 2.3 3 .2 3 1.7 3 1.2 3 .6 3 1.2 3 .9 3 3 3 1.7 3 2.4 3-1.6 3 0 3 1.3 3-.5 3-.1 3 5.6 3-1.5 3-1 3 1.5 3-2.8 3 2.8 3 2.3 3-3 3-.8 3-1.2 3-1.1 3-.3 3-1.3 3-2.7 3-1.5 3-.5 3-3.3 3 .3 3-3.4 3-2.5 3-4 3-1.4 3-1.8 3-2.3 3-3 3-6.2 3-5.8 3-4.8 3-3.6 3-5.4 3-2.3 3-3.1 3-5.3 3-5.1 3-6.9 3-7.6 3-4.4 3-9.2 3-7.3 3-8.7 3-8 3-12 3-8.1 3-7.8 3-8.7 3-9.2 3-9.3 3-6.2 3-5.8 3-6.4 3-7.2 3-5.8 3-2.3 3-.1 3-5 3-4.7 3-3 3 1.8 3 .7 3 2.4 3 3.1 3 3.4 3 8.8 3 9.6 3 7.2 3 8.5 3 10.3 3 10.6 3 10.6 3 10 3 13.1 3 14.6 3 12.5 3 13.6 3 12.6 3 13.9 3 13 3 16.1 3 17.8 3 13 3 11.5 3 14.3 3 13.4 3 11.3 3 12.1 3 11.3 3 9.6 3 9.3 3 6.1 3 7.5 3 5.5 3 3.7 3 3.3 3 5 3 2.7 3 4.8 3 1.7 3-.2 3 4.3 3 1.6 3 2.8 3 3.4 3 2.6 3 .6 3 2.6 3 2.2 3 1 3 .4 3-1.9 3 .7 3 2.5 3 1.7 3 2.2 3-.1 3 1.1 3 1.4 3 .6 3-.1 3 .8 3 4 3 .2 3-.7 3 1.1 3 .5 3 .5 3-.7 3 3.2 3 1.2 3 1.3 3-.2 3 1.7 3 .6 3 1.2 3 1.5 3 2 3-.5 3 .3 3-.2 3 .8 3 1 3 .3 3 .4 3-.6 3 1.4 3-2.2 3 .3 3 3.8 3-.9 3 1.2 3 2.1 3 1 3-3.8 3-1.1 3 2 3 1.6 3 .4 3-.4 3-1.4 3-1.2 3-.2 3 2.5 3-2.5M214 1982.1l3-3.2 3-1 3-1.2 3-2.4 3-.6 3 1.2 3-2.5 3-3.6 3-2.8 3-8 3-16.7 3-4.8 3 14.2 3 9.9 3 5.4 3 5.3 3 2.9 3 0 3-.6 3-.1 3 1.1 3 2.5 3 .1 3 2 3 .1 3-2.7 3 1.2 3 .3 3 1.7 3 1.8 3 0 3-.9 3-3.4 3 1.1 3 2.5 3 1.2 3-.5 3 .7 3 2 3-2.1 3 .4 3-2.5 3-3.1 3-1.2 3 .5 3 1.7 3-2.7 3 .1 3 1.1 3 .3 3 .9 3-2 3 1 3-.5 3-1.7 3-1.5 3-.3 3-2.7 3-1.5 3 .1 3 1.2 3-2.1 3-1.6 3 3.7 3-1.4 3-3.1 3-2.3 3 .1 3-2.1 3-2 3-2.5 3 1.8 3-1 3-.9 3-2.8 3-2.7 3-1.8 3-.3 3 2.4 3-1.5 3-4 3 2 3 .4 3 .7 3-1.4 3-3 3-1.8 3 .1 3 1.6 3-.8 3-4.8 3 1.4 3-1.1 3 1.9 3 2.4 3-3.3 3-2.4 3 .3 3-1.4 3 .4 3-.5 3 .3 3-1.4 3-3.5 3-.2 3 2.2 3 2.2 3-.2 3-1.7 3-1.4 3-.4 3-3.6 3-.5 3-.7 3-.7 3-2.2 3-.8 3-1.7 3-2.4 3-4 3-3.1 3-1.4 3 .8 3-2.1 3-2.5 3-2.4 3-3.1 3-1.5 3-2.7 3 .7 3-3.8 3-4.1 3-3.6 3-2.2 3 .1 3-3 3-.8 3-.6 3 .3 3-3.2 3-4.8 3-1.7 3-3.9 3-.7 3-1.4 3-3.4 3-2.1 3-2.7 3-3.2 3-1.6 3-.1 3-2.3 3-2.3 3-4.1 3-4.1 3-1.8 3-.5 3-1.9 3-2.7 3-1.6 3-2.9 3-4.8 3-1.7 3-.9 3-3.4 3-4.2 3-.5 3-2.2 3-4.9 3-5.2 3-.6 3-3.3 3-4.2 3-.8 3-3.5 3-4.4 3-5.1 3-5.4 3-2.9 3-5.4 3-6.6 3-3.2 3-3.8 3-6.2 3-6.6 3-2.1 3-2.8 3-7.5 3-7 3-3.2 3-2.6 3-5.5 3-4.8 3-3 3-2.1 3 .1 3-7.1 3-3.8 3-4.6 3-4.2 3 1.4 3-2.9 3-1.6 3-.7 3-5.4 3-2.4 3 2.1 3 2.3 3 .7 3-.9 3-2.4 3 .7 3 1.3 3 1.1 3 .9 3 4.1 3 .2 3 2.2 3 2.7 3 1.6 3 2.5 3 2.2 3 1.7 3 3.6 3 3.4 3 5.1 3 .8 3 2.4 3 2 3 6.1 3 2.6 3 2.5 3 3.6 3 1.9 3 3.4 3 2.2 3 .9 3 5.4 3 1.9 3 2.2 3 3.1 3 2 3 1.6 3-.1 3 3.5 3 1.5 3 1.2 3 3.2 3 1.5 3 .3 3 .4 3 4.3 3 3.3 3-.7 3-.9 3 4.8 3-.5 3-.9 3 3.5 3 3.6 3 1.1 3 1.7 3 2.1 3-1.7 3-.6 3 4.1 3 3.6 3-.2 3-.2 3 1.2 3 1.2 3 5.1 3-.1 3-.2 3 2.6 3 .9 3 2.3 3 1.2 3-2.5 3-1 3-1.2 3 1.5 3 3.4 3-.3 3-1 3-.7 3-2 3 0 3-.9 3 .6 3-.8 3-1.9 3-2.3 3-2.9 3-.6 3-1 3-2.8 3-5.2 3-1.9 3-1.9 3-.6 3-1.7 3-2.5 3-4.6 3-6.1 3-6.8 3-3.7 3-1 3-5.5 3-6 3-5.2 3-3.3 3-6 3-8.9 3-7.5 3-4.3 3-9.1 3-10.5 3-10.3 3-4.6 3-10.8 3-9.7 3-8.5 3-9.8 3-6.6 3-6.4 3-7.8 3-5.8 3-7 3-5.1 3-6.4 3-2.2 3-.7 3-3.7 3-3.2 3 2.1 3 3.2 3 .9 3 3.8 3 4.3 3 6.4 3 6.1 3 7.3 3 7.3 3 10.3 3 11.6 3 11.8 3 9.5 3 12.1 3 14.6 3 13.6 3 14 3 12.3 3 13.7 3 12.3 3 14.8 3 14.5 3 15.7 3 14.3 3 16.1 3 15.1 3 12.2 3 11.7 3 10.5 3 7.5 3 9 3 8.8 3 3.5 3 3.6 3 6.4 3 4.4 3 3.5 3 4.2 3 1.1 3 6.7 3 4.9 3 3.7 3-.9 3 1.7 3 3 3-.7 3 3.4 3 2.4 3-.6 3 1.9 3 2.1 3 .9 3 1.5 3 2.2 3 1 3 2 3 1.3 3-.5 3-1 3 3.7 3 .7 3 1.3 3-.3 3 1.8 3 1.1 3 .9 3-1.8 3 .2 3 2.1 3 .9 3 3.2 3 .5 3-1.2 3 2.5 3 .8 3-.5 3-1.6 3 .2 3 2.8 3-.2 3-2.4 3 3.8 3 2 3 1.1 3-1.6 3 1.4 3 2.2 3 1.4 3 .8 3 .5 3-.7 3-1.6 3 2.5 3-1.4 3-.8 3 .1 3 1.5 3 .3 3-.2 3 .1 3-.6 3 1 3 .7 3 1.2 3 2.2M214 1963.0l3-.7 3-.6 3-3.4 3-2.1 3 3.3 3 2 3-4.7 3-3.4 3 0 3-.8 3-7 3-6.2 3-.3 3 11.7 3 4 3 .5 3 2 3-.2 3-.3 3 1.1 3 1.6 3 2.1 3-.2 3-1.8 3 1.7 3 .5 3-.5 3 3.6 3 .1 3-1.8 3 .6 3-1.4 3 .8 3 2.8 3-1.3 3 .6 3-.5 3-1.1 3-.1 3 1.8 3-.7 3-4.1 3-.2 3 1.3 3 1.2 3-1.7 3 .9 3 .3 3-.7 3-1.5 3 .6 3-1.5 3-3.9 3 .1 3-.9 3 2 3 .3 3-.8 3-3.8 3-.8 3-1 3 2.8 3-.8 3-1.9 3-3.8 3 .9 3 .2 3-1.4 3-1.5 3-1.5 3-1.8 3-1.7 3-1.8 3-2 3-1.9 3-1.3 3-1.6 3 .9 3 0 3-2.5 3 1.3 3-1.8 3-1.3 3 .5 3-2 3-.3 3 .3 3-.2 3-1.7 3 1.2 3-3.7 3 .1 3-.8 3 3.6 3-1.3 3-.8 3 1 3-2.7 3-1.5 3 .9 3 .6 3 .6 3 .4 3-1.7 3-1.8 3 .5 3-.2 3-1.5 3-1.4 3-.2 3 .1 3-1.2 3 .1 3-1.1 3-2.8 3-1.9 3-1.8 3-1.9 3-2.3 3-3 3-3.5 3-1 3-4.7 3-1.6 3 1.3 3 .3 3-4.3 3-1.9 3-3.4 3-2.2 3-4.7 3-4 3-1.2 3 .5 3-2.5 3-.7 3-.1 3-2.2 3-1.7 3-5.1 3-2 3-1.6 3-1.5 3-.9 3-1.9 3-3.7 3-1.3 3-2.8 3-5 3-1.7 3-4.3 3 .4 3 .7 3-3.3 3-3.3 3-.8 3-3.4 3-2.2 3-4.7 3-3 3-1.1 3-1.7 3-1.8 3-3.8 3-1.1 3-2.4 3-5.6 3-2.1 3-2.5 3-2.1 3-3.7 3-4.8 3-2.8 3-2.7 3-1.8 3-2.2 3-7 3-4.6 3-6.1 3-5.1 3-2.4 3-3.6 3-5.9 3-3.4 3-5.9 3-5 3-5.7 3-6.3 3-2.2 3-4.3 3-7.9 3-3.4 3-3.7 3-5.5 3-3.5 3-4.7 3-.3 3-3 3-4.3 3-.9 3-3.9 3-1.7 3-3 3-1.2 3-1.5 3-1.3 3-.2 3 1.5 3 .5 3-.6 3-3.9 3-1.2 3 2.7 3 0 3 1.2 3 1.8 3 2.4 3 2.8 3 1.4 3 6.3 3 1.4 3 1.8 3 1.2 3 5.7 3 2.2 3 .2 3 6.5 3 3.8 3 1.7 3 4.1 3 1.8 3 1.6 3 4.8 3 3.4 3 .4 3 2.4 3 3.1 3 2 3 2.6 3 1 3 2.5 3 2.2 3 3.3 3 4 3-1.4 3 1.4 3 2.7 3 1.2 3 2.3 3 3.3 3 .6 3 .1 3 4.8 3 2.2 3 .4 3 2.5 3 .6 3 .8 3 2.6 3 1.5 3 2 3-.5 3-.1 3-1.6 3 4.7 3 2.9 3 1.7 3 2.5 3-1.3 3 2.6 3 1.8 3 .1 3 2.1 3 1.5 3-1.9 3 1.3 3 2.6 3-.7 3 .2 3 1 3 1.2 3 1.5 3 3 3-.9 3-1.7 3-.9 3-.4 3-.9 3-.2 3-.7 3-2.1 3-1.3 3-.4 3-2.4 3-.3 3-1 3-1.3 3-3.6 3-3.9 3-4 3 .1 3-4.4 3-5 3-1.7 3-4.4 3-6.6 3-5.8 3-3.5 3-4 3-5.3 3-5.4 3-5.6 3-6.8 3-5.9 3-6.6 3-6.9 3-7.9 3-8 3-7.2 3-8.1 3-9.1 3-11.3 3-9.1 3-9.1 3-10.8 3-5.2 3-7.6 3-8.9 3-6.3 3-2.5 3-1.8 3-1 3-5.7 3-2.9 3-1.3 3-2.2 3 .7 3 3.5 3 3.3 3 4.3 3 8.3 3 7.7 3 6.7 3 5.8 3 7.5 3 13 3 10.4 3 8.4 3 14.6 3 13.4 3 11.9 3 13.9 3 15.2 3 12.5 3 14 3 17.1 3 14.8 3 12.8 3 16.5 3 14.5 3 14.5 3 10.9 3 12 3 10.3 3 9.9 3 10 3 6.3 3 6.3 3 6 3 6.8 3 1.1 3 3.7 3 5 3 4.3 3 2.2 3 3.6 3 .9 3-.3 3 6 3 2.6 3-.1 3 1.9 3 2.6 3 2.6 3 .5 3-.7 3 1.9 3 1.5 3 1.7 3 .3 3 2.2 3 1.4 3 1.7 3-1.3 3 0 3 .2 3 1.4 3 3.1 3 2.6 3 3.4 3 .4 3-1.6 3 .4 3-.6 3-.5 3 3.6 3-.1 3 1.7 3 .3 3 .6 3 3 3-.8 3-.5 3 1 3 3.5 3-.4 3-.5 3 1 3 .5 3 .3 3-.7 3-.8 3 1.2 3 2.7 3 3.5 3 0 3 .6 3 1.3 3-2.1 3-.6 3 .6 3-2.6 3-1 3 1.1 3 2.4 3 1.5 3 1.9 3 0 3-3.9 3-1.4M214 1943.1l3-.3 3 .5 3-2.9 3 .4 3 3.1 3 .8 3-4.9 3 0 3 1.2 3-.3 3-1.9 3 .2 3-.9 3-3.2 3-5.6 3 1.8 3 3.9 3 3.8 3-.2 3 3.5 3-1 3 2.7 3-3 3 1.3 3 3.1 3-.3 3-2.9 3 .1 3 2.5 3 .5 3-1.8 3-.4 3 2.2 3 .3 3-.2 3 1 3 1.5 3-1.1 3 .3 3-.3 3-1.7 3-.5 3-.1 3-.8 3-.9 3-.4 3-2.3 3 2.7 3-.5 3-3.2 3-2.1 3 .8 3 .7 3-.1 3-1.3 3-2.2 3-.4 3 2.3 3-2.2 3-4.2 3-2.7 3-3.2 3-7.9 3-13.5 3-22 3-50.3 3-35.8 3 42.4 3 40.4 3 18.8 3 6.1 3-.1 3-1.5 3-6.9 3-9.3 3 .1 3 8.6 3 6.5 3 2.8 3 2.9 3 0 3-.1 3 .1 3 1.4 3 1.1 3-4.7 3 1.9 3 .1 3-2.4 3 1.7 3-.3 3-4.8 3-.9 3-3.3 3-11.5 3-18.5 3-32.7 3-32.6 3 29.8 3 34.4 3 19 3 7.6 3 3.3 3 1.8 3 .6 3 .6 3-.2 3-.5 3 .5 3 2.1 3-.3 3-3.8 3-.5 3-.1 3-.8 3-.9 3-.8 3-4.8 3-3.2 3-.1 3-1.5 3-4.5 3-4.5 3-1.6 3-.2 3-.8 3-2.7 3-3.1 3-3.1 3-2.7 3-.2 3 .2 3-4 3-2 3-3.5 3-1.2 3-1.8 3-2.7 3 .3 3-1.7 3-.9 3-1 3-4.9 3-3 3-.9 3-3.7 3-2.9 3-2.2 3-2.3 3 .5 3-.5 3-6.1 3-4.9 3-.4 3 .7 3-3.7 3-4 3-1.2 3-3.9 3 .4 3 .7 3-4 3-3 3-3.7 3 .4 3-6.6 3-3.7 3-1.5 3-3.4 3-4.7 3-.8 3-2.4 3-4.6 3-6.6 3-2.7 3 .4 3-6.3 3-4.7 3-3.3 3-2.4 3-4.7 3-4.6 3-6.2 3-1.6 3-7.1 3-7 3-6.5 3-3.8 3-2.8 3-5.5 3-6.4 3-2 3-4 3-6.4 3-4.4 3-5.3 3-2.3 3-1.8 3-4.6 3-1.2 3-2.2 3-3.6 3-1.1 3-2.5 3 .1 3-2.2 3 1.8 3 1.3 3 .6 3-2.7 3-1.2 3-1.2 3 .2 3 .1 3 2.5 3 3.1 3 0 3 .8 3 1.8 3 2.9 3 2.7 3 4.8 3-.8 3 2.7 3 3.6 3 2.2 3 3.4 3 6.2 3 4.3 3 2.3 3 2.1 3 2.9 3 2.4 3 1.2 3 1.1 3 3.3 3 3.3 3 .9 3 3.2 3 2.4 3 4.5 3 2.3 3 1.2 3 1.8 3 3.6 3 1.7 3 .2 3 1.9 3 1.2 3 2.7 3 2.6 3 2.6 3 .4 3 1.9 3 1.6 3-.9 3 2.5 3 4 3-1.3 3 2.4 3 2.3 3-1.6 3 4.4 3 2.6 3-2.7 3 .1 3 3.8 3 1.4 3 3.2 3 3.5 3-2.6 3 .8 3 5 3-.5 3-1.1 3 1.8 3 2.3 3 .2 3-.4 3 0 3 .4 3 .9 3 2.9 3-1.3 3 2 3 .7 3-2 3-1.2 3 3 3-2 3-5.4 3-2.1 3-.7 3-1.6 3-3.3 3-1.4 3-1.2 3 .2 3-.7 3-3.2 3-4.8 3-4.7 3-4.1 3-1.7 3-4.8 3-3.7 3-4.2 3-6.2 3-3.8 3-5.4 3-5.4 3-4.2 3-6.8 3-7.2 3-5.7 3-5.7 3-9.3 3-9.3 3-7.3 3-8.9 3-10.4 3-11 3-9.6 3-7.2 3-8.7 3-8.4 3-6.3 3-6.1 3-5.3 3-5.4 3-3.6 3-3.7 3-3 3-3.3 3-2.6 3 2.8 3 .7 3 1.3 3 1.9 3 2.3 3 5.9 3 10.1 3 6.8 3 8.8 3 9.1 3 10.9 3 8.8 3 11.9 3 12.3 3 11.7 3 11.2 3 13.1 3 14 3 11.4 3 13.4 3 14.6 3 17.2 3 17.9 3 15.6 3 13.6 3 16.1 3 15.4 3 9.5 3 9.4 3 9.7 3 8.3 3 9.8 3 8 3 5.7 3 4.7 3 1 3 4.4 3 3.1 3 5.7 3 4.4 3 2.5 3 2 3 2.8 3 1.6 3 3.7 3 .5 3 2.4 3 1.2 3 1.6 3 3.1 3-1.9 3-1.4 3 2.8 3 1.3 3 1.5 3 .8 3 .1 3 1.4 3 .4 3 2.3 3 1.9 3-.1 3 4.2 3 .5 3-.6 3 .6 3 .8 3-1.5 3 2.9 3 1.6 3 2.5 3 .7 3 .6 3-1.1 3-.6 3 0 3 3.1 3 1.3 3 1.1 3-2.8 3 1 3 1.9 3 .5 3 1.5 3 1.2 3 .3 3 .8 3-1.9 3-1.6 3 .8 3 3.2 3 2.5 3-2.4 3 .4 3-1 3-.3 3 2.7 3 2.7 3-2.4 3-1.5 3 2 3 2.3 3-.2 3-1.3 3 3.5M214 1926.3l3 .8 3-4 3-3.6 3 .7 3 1.6 3 3.5 3-1.4 3 .8 3-.1 3-2.2 3 .3 3-1.8 3-1 3-2.8 3-6.1 3 1.1 3 2.9 3 5.1 3 .3 3 1.4 3 3.1 3-1.1 3 .8 3-.1 3-.2 3 .8 3 1.7 3-.1 3-.6 3 .1 3 1.3 3-1 3-1.3 3 .4 3 1.6 3-.3 3-.7 3-1.6 3-1.5 3 2 3 2.2 3-1.2 3 .3 3 1.6 3-.5 3-.8 3-1.6 3-1.7 3-1.9 3 .8 3-.9 3 1.5 3-2 3-.2 3-.8 3-.8 3-1.1 3-1.6 3-.1 3-3.4 3-5.2 3-3.9 3-4.6 3-11.1 3-23 3-44.5 3-25.4 3 42.1 3 31.7 3 13.1 3 7.2 3-.1 3-2.9 3-4.7 3-7.6 3-4 3 4.8 3 3.3 3 3.7 3 4.2 3 2.6 3 1.5 3 .6 3-.7 3-.2 3-.5 3-.9 3-2.2 3-.2 3-.1 3-.3 3-1.4 3-4 3-3.1 3-5.3 3-16 3-30.6 3-31.9 3 24.6 3 33.1 3 15.8 3 6.1 3 .8 3 4.8 3 3.9 3-.8 3-.8 3-2.5 3-.4 3 4.5 3-.7 3 .4 3 .8 3-.7 3-4.3 3-3.7 3-.9 3-3.6 3-3.2 3-1.1 3-1.7 3-2.1 3-2.3 3-5.3 3-1.2 3-2.4 3 1.4 3 0 3-3.4 3-4.8 3-3.8 3-4.1 3-2.2 3-1.2 3 .1 3 .8 3-1.4 3-1.9 3-2.4 3 .8 3-5.9 3-4.2 3 .7 3-1.5 3-1.5 3-1.6 3-5.7 3-4 3-.8 3-1.9 3-1.4 3-2.6 3-1.7 3 1.4 3-5 3-5.5 3-.2 3 .1 3-6.1 3-2.3 3-.7 3 2.1 3-2 3-3.2 3-3.7 3-6 3-1.5 3-1.3 3-5 3-3.6 3-2.1 3-3.5 3-6.6 3-.6 3-2.1 3-4.8 3-6.5 3-3.5 3-1.9 3-5.9 3-5.1 3-5.1 3-5.5 3-3.8 3-5.6 3-4.6 3-4.5 3-3.1 3-7.1 3-6.3 3-2.4 3-1.8 3-3.5 3-7.2 3-4.2 3-5.4 3-4.9 3-2 3-3.2 3-2.6 3 .8 3-1 3-3.2 3-2.9 3-2.3 3 0 3 1.7 3 .1 3-2.2 3 0 3 .7 3 1.5 3-.9 3 .6 3-1 3-.2 3-.7 3 3.6 3 2.8 3-.3 3 3.2 3 3.5 3 1.8 3 2.8 3 5 3 4.9 3 3.6 3 3 3 0 3 2.7 3 1.8 3 4 3 .4 3 2.2 3 3.9 3 5.3 3 .2 3 2.1 3 2 3 3.1 3 2.6 3 .2 3 1.5 3 4.6 3 1.2 3 1.4 3 3.8 3 .1 3-.2 3 3.3 3 2.8 3 1.6 3 2.2 3-.3 3 1.4 3 0 3 3.7 3 .3 3 3.1 3 2.5 3 1.4 3 .9 3 1.7 3 1.1 3 2.3 3 2.7 3-1.3 3 1.2 3 2.3 3 .6 3 2.7 3 3.5 3-1.4 3 1.8 3 .5 3 1.1 3 1.8 3 .8 3 1.3 3 1 3 2.5 3-.1 3 .8 3-.6 3 .5 3-2.5 3-1.2 3-1.5 3 .6 3 .6 3-1.8 3-2.1 3-4.3 3-1.9 3 2 3-1.7 3-1.4 3-2.5 3-3.6 3-3.2 3-1.1 3-5.1 3-3.7 3-2.7 3-4.4 3-3.7 3-4.8 3-6 3-4.1 3-5.8 3-4.5 3-5.8 3-5.5 3-6.4 3-8 3-6.4 3-6.7 3-7.2 3-10.3 3-10.3 3-8.7 3-10.7 3-9.8 3-7 3-7 3-8.7 3-4.9 3-7.8 3-6.4 3-3.5 3-7.5 3-3.5 3-.3 3-3.3 3-3.7 3-.4 3 2.8 3 2.8 3 2.7 3 3.8 3 6.3 3 4.9 3 6.5 3 9 3 8.5 3 8.3 3 8.3 3 13.6 3 13.1 3 10.2 3 11.5 3 14.9 3 14.5 3 11.5 3 16.2 3 15.6 3 15.3 3 15.7 3 15.6 3 15 3 15.7 3 13 3 10.1 3 10.3 3 13.2 3 8.1 3 8.4 3 5.4 3 7 3 4.6 3 4.9 3 4.7 3 4.8 3 3.4 3 1.1 3 2.9 3 1.4 3 2.5 3 2.9 3 1.8 3 4.7 3 2.2 3 .9 3-.6 3 0 3 4 3 1.9 3 1.1 3 1.2 3-.6 3 .9 3-.8 3 2.7 3 1.2 3 1.4 3 1.3 3-.5 3 .1 3 1.3 3 .7 3 2.5 3-1.7 3 2.8 3 1.9 3 .2 3 .8 3-1.3 3 3.9 3 1.1 3 .5 3-3.1 3 .8 3 .9 3 .7 3 2.2 3 4.4 3 1.8 3-1.9 3 1.5 3-.1 3-1.4 3-.6 3 2.3 3-.3 3 1.9 3-2.3 3-.9 3 3.9 3-1.1 3-1.1 3 3.4 3 0 3-.7 3 .6 3 .9 3-1.5 3 1 3-.3 3 .6 3-.7M214 1907.9l3 2.3 3-2.1 3-.2 3 .8 3-3.1 3 1.9 3 0 3-1.8 3-.4 3-1.7 3 1.2 3-1.6 3-2.6 3-2.9 3-4.6 3 1.5 3 4.3 3 2.6 3 2.8 3 2.3 3 .3 3-2.2 3 .7 3-.5 3 .8 3 1.5 3 1.1 3 1.6 3-1.4 3 1.2 3 3.3 3-2.2 3-1.2 3-1.8 3 .4 3 .3 3 .4 3-1.4 3-2.1 3 2.9 3 1.7 3-2.1 3-1.2 3 .1 3 1.6 3 2.1 3-4.3 3-2.3 3 1.7 3-.5 3-2.6 3-.9 3 1.3 3 .2 3-3.5 3-1.3 3 1.9 3-1.4 3-2.8 3 .9 3-1.2 3-1.9 3-7 3-6.3 3-12.8 3-29.8 3-37.4 3 13.5 3 33.3 3 18.2 3 6.6 3 .3 3-3 3-4.4 3-3.3 3-2.7 3 2.7 3 .9 3 1.9 3 4.1 3 .6 3-.6 3 2.1 3 .4 3-.9 3-1.5 3-1.8 3 1.5 3 1.3 3-1.7 3-.9 3-1.2 3-.3 3-3.7 3-8.2 3-11.2 3-20.8 3-29.5 3 13.1 3 29.8 3 14 3 7 3 5.1 3-.5 3-.7 3 3.5 3 1.1 3 .2 3-1 3 1.1 3 .4 3-1.4 3 .5 3-3.1 3-2.7 3-1.7 3-3.6 3 .5 3-1.9 3-4.2 3-3.3 3-.1 3-2.2 3-3.4 3 .5 3-2.9 3-4 3-.8 3-3.7 3-3.9 3-1.5 3 2.5 3 .3 3-3.9 3-2.6 3-3.3 3-3.3 3-.5 3-1 3-1.3 3-2.9 3-2.4 3-3 3-5.1 3-2 3-.8 3-.3 3-2.7 3-2.6 3-4.1 3-1.1 3-.2 3-.4 3-3.6 3-4.6 3 .8 3-2.5 3-3.7 3-2.3 3-2.6 3 .6 3-4.3 3-2.2 3-1.5 3-3.6 3-.8 3-4.2 3-4.6 3-4.8 3-1.9 3-3.4 3-4.9 3-.3 3-2.4 3-4.6 3-3.4 3-4.3 3-3.3 3-4.1 3-7.4 3-5.1 3-3 3-5 3-4.9 3-4.5 3-5.6 3-4.6 3-4.4 3-5.1 3-4 3-5.2 3-5.1 3-4.1 3-4.8 3-1.3 3-3.9 3-6.7 3-3.9 3-1 3-3.9 3-3.5 3-.7 3-1.8 3-.6 3-1.2 3 .2 3-1.4 3-1 3-1.4 3 1.1 3 .3 3 .6 3-.9 3-2.8 3 1.6 3 .5 3 .9 3 5.3 3 1.5 3-.3 3 2.2 3 3.4 3 1.2 3 5.2 3 2.1 3 3.1 3 2 3 1.4 3 4.5 3 5.5 3 2 3 2.3 3 .7 3 .6 3 4 3 3.3 3 4.6 3 .6 3 4.6 3 4.2 3 1.5 3-1.2 3 1.2 3 3.4 3 3.2 3-.5 3 2.7 3 2.3 3 2.3 3 1.1 3 2.1 3 0 3 .2 3 2 3 .2 3 3.3 3 4.4 3 1.1 3 1.1 3-.5 3 1.7 3 1.9 3 .6 3 4.1 3 1.6 3 .1 3 1.6 3 3.4 3 2.1 3-1.8 3-1 3 3 3 5.4 3 1.8 3-.7 3-.3 3 1.3 3-2.7 3 4.3 3 1.8 3-.8 3-2.1 3-.7 3 1.9 3 2.3 3 .2 3 .2 3 2.4 3-3.2 3-1.4 3-1.3 3 .6 3-1 3-4.3 3 .3 3-4.8 3-1.8 3-2.4 3-3 3-1.6 3-3.8 3-4.4 3 .7 3-5.2 3-8.9 3-1.4 3-2.7 3-4 3-5.2 3-6.8 3-5.8 3-4.5 3-4.1 3-8.3 3-6.2 3-7.6 3-9.2 3-8.2 3-6.9 3-8.8 3-8.6 3-10.5 3-8.2 3-9.2 3-10.5 3-10.5 3-6.4 3-2.9 3-5.5 3-6 3-3.4 3-4.2 3-2.7 3-3.1 3-2.9 3 2.2 3 2 3 1.6 3 2.3 3 2.6 3 6.2 3 5.1 3 5.9 3 4.8 3 9.8 3 9.3 3 11.2 3 15.1 3 12.7 3 10.5 3 9.6 3 16.5 3 13.9 3 11.5 3 12.3 3 14.5 3 16.6 3 16.3 3 14 3 16.9 3 17.6 3 12.6 3 10.5 3 11.1 3 11 3 9.9 3 8.8 3 5.6 3 5.9 3 4.6 3 3.3 3 6 3 3.7 3 5.4 3 3.5 3 2.1 3 2.7 3 2.7 3 .9 3 2.1 3 3.6 3-.2 3 2.8 3-.6 3 .7 3 3.8 3-.3 3 1.1 3 3.6 3-.4 3 1.1 3 1.5 3 1.5 3 2.9 3-1.2 3 .1 3 .6 3 .4 3 1.2 3 2.3 3 2.7 3-1.1 3-1.8 3-1.3 3 3.1 3 2.9 3 .2 3 3.1 3 .1 3 .3 3-.3 3 3 3 .9 3-1.7 3 .1 3 2.4 3-1.8 3 1.7 3 3.9 3 .5 3 1 3-1.1 3-1.9 3 1 3 1.8 3-.6 3-.6 3 .1 3 2.9 3 .4 3-1 3-1.9 3 2.6 3 .2 3-1.5 3-.1 3 .5 3 1.2 3-.3 3-.9M214 1891.5l3-2.1 3 1.4 3 .6 3-.8 3-1.9 3-.9 3-.9 3 .7 3-1.2 3 1.8 3-.5 3-2.2 3-1.5 3-2.8 3-1.9 3-2.5 3 3.9 3 2.8 3 1.3 3 2.7 3 .3 3-.4 3 .7 3 0 3 .2 3 2 3-.4 3 1.1 3 1 3-1.7 3-.1 3 .2 3 .6 3 2.1 3-1.1 3 .8 3 .4 3-.7 3 .2 3-1.1 3-1.4 3-.9 3 1.4 3-.6 3-1.7 3 1 3 0 3-.6 3-.6 3-.8 3-.6 3 .1 3-2.6 3-1.2 3 1.3 3-.3 3 1.1 3-1 3 .8 3-1.2 3-5.4 3-3 3-7.7 3-9 3-19.9 3-31.8 3-12.9 3 29.6 3 22.3 3 7.4 3 3.3 3 .2 3-.2 3-4.3 3-6.2 3-4.5 3 1.5 3 3.3 3 2.8 3 3 3 2.4 3-1 3-.2 3 1.9 3-3.3 3-1.4 3 .8 3 3.9 3 .5 3-3.1 3-2.3 3 1.4 3-3.2 3-2.3 3-5.5 3-9.7 3-16.4 3-16.2 3 15.7 3 15.8 3 8.9 3 4.7 3 2.2 3 3.1 3 .1 3-.6 3-1 3 1.2 3 1.7 3-1.5 3 .4 3-.3 3 .9 3 2 3-5.4 3-5.8 3-2.2 3-1.1 3-2.5 3-1.4 3-2.3 3-1.9 3-1.2 3-2.2 3-4.5 3-2 3-2 3-2.6 3-.8 3-3.5 3-3.6 3 1.4 3-3 3-2 3-3.6 3 1.2 3-3.8 3-1.5 3-.1 3-2.9 3 0 3-2.8 3-5.7 3-2.9 3-2.1 3-1.1 3-.7 3-2.3 3-1.2 3-1.9 3-3 3-.9 3-4.1 3-2.3 3-2.5 3-3.5 3 1.6 3-2.7 3-4.4 3-3.2 3-1.9 3-4.4 3 .1 3 2 3-3.4 3-3 3-3 3-4.4 3-4.1 3-2 3-3.1 3-4.8 3-4.1 3-1.7 3-4.6 3-4.5 3-4 3-2.8 3-3.7 3-5.3 3-5.1 3-6.1 3-6.9 3-3.5 3-.1 3-7.1 3-7.9 3-4.1 3-4.4 3-4.4 3-4.5 3-5 3-6 3-4.4 3-4.2 3-4.5 3-3.1 3-5.1 3-.5 3 1.2 3-3.8 3-3.4 3-.7 3-1.1 3-1.2 3-2.3 3-1.8 3-1.7 3 4.1 3-2 3-1.6 3-1.6 3 0 3 1 3 1.5 3 1.6 3 2.5 3 .1 3-.4 3 5 3 .9 3-.5 3 4 3 3.7 3 3 3 1.4 3 3.4 3 3.4 3 2.7 3 4.2 3 2.2 3 2.1 3 4.6 3 .4 3 .7 3 .6 3 4.2 3 5 3 1 3 3.4 3 3.6 3-1 3 4 3 4.3 3-3.5 3 1.8 3 4.2 3-1.7 3 3.1 3 4.3 3 .2 3 1.7 3 2.8 3 1.2 3-.4 3 3.2 3 2.8 3 1.9 3 0 3-.6 3 4.6 3 1.4 3 .2 3 1.2 3 .5 3 1.3 3 2.1 3 1.7 3 1.6 3 .1 3 3.3 3 1.9 3 2 3 2.9 3 1.3 3 1.7 3 2 3 2.5 3 .2 3 1.1 3 .1 3 .3 3-.2 3-.3 3 .1 3-.1 3-1.6 3-.2 3 1.2 3 1.6 3-3.3 3-2.4 3-3.4 3 .3 3-2.4 3-.4 3-1.9 3-5.8 3-1.4 3-3.6 3-3.4 3-2.5 3-1.8 3-4.2 3-3 3-1.9 3-4.8 3-6.4 3-4.8 3-7.3 3-6.4 3-6.9 3-5.6 3-5.5 3-5.3 3-6.8 3-7.7 3-6.4 3-11.3 3-9.2 3-8.9 3-8.1 3-10 3-10.3 3-6.8 3-7.1 3-9 3-7.4 3-4.5 3-6.6 3-2.7 3-3.8 3-4.3 3-1.5 3-2.2 3 .7 3 2.1 3 4.4 3 3.4 3 0 3 1.5 3 6.8 3 6.4 3 5.5 3 9.7 3 9 3 8 3 11.7 3 13.8 3 11.1 3 12.9 3 13.8 3 10.7 3 12.7 3 14.9 3 19 3 16.9 3 14.1 3 16.7 3 17.3 3 15.3 3 11 3 12.6 3 12.7 3 13.5 3 7.4 3 6.4 3 8.4 3 5.9 3 5.8 3 4.6 3 3.5 3 2.3 3 1.5 3 4.4 3 5.4 3 1.1 3-.5 3 3.2 3 3.5 3-.1 3 6.5 3 1.6 3-.5 3 .5 3 .7 3 3 3 4.4 3 1.3 3-2.9 3 2.7 3 2.4 3-.1 3-2.8 3 .7 3 3 3-.3 3 .9 3 2.5 3 2 3-.8 3-.9 3 2.6 3 0 3 2.5 3 1.1 3 .8 3 1.2 3-.8 3 1.8 3 3.2 3 1.3 3 .4 3-.9 3-.4 3 .8 3 .3 3 1.6 3 1.1 3 1.3 3 2.1 3-.8 3-.8 3-.9 3 2.5 3 1.1 3-1.4 3-1 3 .5 3 .3 3 .4 3 .5 3 2.7 3-.9 3 2.2 3 1.8 3 .7 3-2.8 3-.1 3-1.7M214 1873.8l3 .3 3 .6 3-1.8 3-.9 3-.7 3-.6 3 .6 3 1.9 3 .7 3-3.6 3-3.4 3 .3 3-1 3-4.1 3-5.1 3 .2 3 6.1 3 2.9 3 2.4 3 0 3-1.2 3 1.2 3 2.1 3-1.1 3 .9 3 3.3 3-.1 3-.2 3-.6 3 1.8 3 1.2 3-2 3 0 3-.8 3 .4 3-1.8 3 .6 3 3.7 3-.1 3-5.9 3 1.8 3 1.9 3 1.6 3-1 3 .5 3 .9 3-1.3 3-3.1 3-2.3 3-.8 3 .6 3 1.9 3-.2 3 1.2 3-.9 3-1.2 3-3.5 3 .9 3 .3 3-2.6 3-2.5 3-3.7 3-2.4 3-7.3 3-15.3 3-21.4 3-13.9 3 22.7 3 13.5 3 6.7 3 .6 3-.2 3-.4 3-3.4 3-4.8 3-5.1 3 3.2 3 4.5 3 1.8 3-2.5 3 .3 3 1.3 3-.4 3 2.1 3 .1 3-1.1 3-2.7 3 1.5 3 .6 3-.9 3 .6 3 1.8 3-2.3 3-4.3 3-4.1 3-7.5 3-12 3-11.6 3 12.3 3 12 3 3.8 3 4.5 3 3.6 3 1.9 3-.9 3-1 3-.8 3 2.1 3-.8 3-1.3 3 .2 3 .1 3-.2 3-1.8 3-2.3 3-.3 3-2.9 3-5.5 3-2.8 3 .1 3-1.5 3-5.4 3-2.2 3-.5 3-1.2 3-2.4 3-2.3 3-2.4 3-3.3 3-4.2 3-.2 3 1.7 3-5.1 3-2.8 3 .8 3-1.4 3-4.1 3-2.9 3-.2 3 .7 3-4.2 3-4.2 3 .1 3-1.1 3-5.2 3-1.8 3 .1 3-3.8 3-2.6 3-2.3 3-1.8 3-1 3-1.5 3-2.2 3-2.2 3-.6 3-1.2 3-4.1 3-1.5 3-3.3 3-2.5 3-1.4 3-2.3 3-1.2 3-4.8 3-4.4 3 .6 3-3.3 3-5.3 3-1.4 3-2.8 3-4.4 3-5.4 3-3.9 3-2.7 3-.7 3-3.6 3-5.7 3-7 3-6.4 3-4.8 3-5.4 3-4 3-2.6 3-1.6 3-6.2 3-6.2 3-6 3-6.4 3-.4 3-5.5 3-7.1 3-3.3 3-4.1 3-3.5 3-7 3-2.5 3-2.8 3-.9 3-3.8 3-4 3-.5 3-5.3 3-4.7 3 1.7 3-1.4 3 .9 3 .6 3-1.7 3-.2 3 .6 3-.2 3 1.4 3 .9 3-1.5 3 .1 3-.5 3 3.5 3 3.9 3 1.8 3-1.8 3 2.3 3 4.5 3 1.8 3 1.8 3 1.3 3 1.9 3 3.7 3 5 3 3.5 3 .5 3 4 3 4 3 2.8 3 2 3-.9 3 3.2 3 4.9 3 2.5 3 1 3 1.6 3 1.6 3 4.4 3 1 3 1 3 2.6 3 1.3 3 2.3 3 3.3 3-1.2 3-.9 3 1.7 3 1.8 3 3 3 .9 3 0 3 4 3 1.8 3 2.8 3-1 3 .4 3 5.7 3 2.5 3-.9 3 3 3 1.4 3 1 3 3.1 3-.5 3 .7 3 4.1 3 1.8 3 1 3-.5 3 3.1 3 .9 3-1 3 4.2 3-1.3 3 1.6 3 1 3 3.1 3 1.9 3-.6 3-2.1 3 .2 3 .6 3 .9 3-2.3 3-1.2 3 .6 3-.3 3-3.2 3-1.3 3-.8 3-3.8 3-3.5 3-1.8 3-.5 3-.9 3-3.6 3-3.2 3-4.6 3-3.8 3-2.8 3-3.4 3-5.2 3-7 3-5.4 3-6 3-4.1 3-5.2 3-7.5 3-6.8 3-6.9 3-7.1 3-8.6 3-7 3-8.7 3-9.4 3-9.7 3-8.5 3-10.3 3-10.1 3-8.3 3-8.1 3-8.3 3-4.5 3-4.6 3-7.5 3-3.1 3-6.3 3-3.4 3 1.5 3-1.1 3-2.2 3-.4 3 2.5 3 3.6 3 5.8 3 5.2 3 1.4 3 4.1 3 6.7 3 8.6 3 9.1 3 10.5 3 11.9 3 11.6 3 12.9 3 10.5 3 14.6 3 13.7 3 11.6 3 17.7 3 15.3 3 14.7 3 14.3 3 19.1 3 16.9 3 13.2 3 13.1 3 15.9 3 14.1 3 8 3 7 3 9.5 3 5.6 3 7.1 3 7.2 3 2 3 5 3 2.4 3 3.5 3 3 3 3 3 2.4 3 3.4 3 4.5 3 .9 3 3.2 3 4.7 3-1.2 3-.8 3 2.2 3 3.9 3 .7 3 1.3 3 .4 3 2.1 3 2.7 3 2 3-2.6 3 1.4 3 .7 3 .7 3-.6 3-.3 3 1.9 3 2.5 3 .3 3 .8 3 1.5 3-.3 3 .3 3 1.4 3 .6 3 .5 3 2.3 3 1.8 3 .5 3-2 3 2.1 3 2.2 3 2 3 2 3-1.7 3-1 3-.4 3 2.5 3-.8 3 .6 3 3.1 3 1.7 3-1.5 3-.3 3 .9 3-1.2 3 1.8 3 2.1 3 1.7 3 .3 3-2.7 3-.6 3 .6 3-.3 3-.9 3 2.7 3-.2 3-1.3M214 1852.5l3 4.9 3 .2 3-3.9 3-.2 3 1.4 3-.5 3 0 3 1.1 3 .1 3-1.6 3-.6 3-4.4 3 1.5 3-2.3 3-9.8 3-1.6 3 4.2 3 8.2 3 3.2 3 .3 3-.9 3 .6 3 1.1 3 .5 3 1.8 3-1.9 3 .9 3 1.6 3-1 3-1.1 3 1.2 3-1.7 3 .1 3 .7 3 .3 3 .3 3 .6 3 1.1 3-1.6 3-2.1 3 3.7 3-.5 3-1.6 3 .9 3 .7 3 1.1 3-2.2 3-.3 3-.1 3-3.4 3 .1 3-.5 3 .1 3-.2 3 1.7 3-1 3-1.1 3-.5 3-4.3 3 .6 3-.1 3-1.4 3-5.7 3-4.8 3-10 3-18.2 3-4.9 3 15.5 3 8.4 3 2.3 3 1.5 3-3.2 3 2.7 3-3.8 3-5.7 3-1 3 1.1 3 3.8 3 .1 3-1.8 3-1.5 3 .5 3-.8 3 .2 3-1.5 3 .3 3 1.8 3-.8 3-1 3 .8 3-.9 3-1.6 3 1.1 3 .8 3-3.2 3-4.7 3-2.8 3-8.3 3 1.3 3 7.8 3 3.2 3 2.8 3 2.5 3-.5 3 1.3 3-.4 3 1.2 3-1.2 3-2.4 3 .3 3 2.1 3-1.3 3-1.7 3-2.5 3-.6 3-3.3 3-2.5 3-1.9 3-.6 3-1.5 3-2.8 3-4.8 3-2.5 3-1.4 3 0 3-3.6 3-1.7 3-1.9 3-.3 3-2.7 3-2.9 3-4.5 3-2.3 3-1.7 3-.7 3-1.3 3-2.6 3-1.1 3-4.8 3 .2 3-2 3-1.8 3-4.2 3-1.5 3-.2 3-1.4 3-5.1 3-.4 3-2 3-1.4 3-3.7 3-3.3 3-1.4 3-2.4 3-1.2 3-.3 3-1.2 3-4.4 3-4 3-.5 3-.7 3-2 3-3.5 3-3.4 3-3.5 3-4 3-2.4 3-3.2 3-.6 3-4 3-4.2 3-1.8 3-4.7 3-2.4 3-1.4 3-3.9 3-3.7 3-3.8 3-5.5 3-4.8 3-6.8 3-7.3 3-1.8 3-3.9 3-5.9 3-6.2 3-4.6 3-4 3-3.9 3-4.6 3-6.5 3-7.5 3-2.9 3-2.7 3-6.1 3-3.9 3-4 3-1.4 3-1.8 3-3.7 3-.7 3-3.4 3-3.3 3-.6 3-1.2 3-.8 3-.8 3-1.2 3 .3 3-1.9 3 .1 3-.4 3 .3 3-.6 3 .7 3-.4 3 0 3 3.5 3 1.2 3 3 3 1.5 3 .8 3 3.7 3 2 3 1.6 3 .5 3 2.3 3 3.9 3 3.7 3 3.6 3 .8 3 2.1 3 5.9 3 4 3-.9 3 3.6 3 1.4 3 1.7 3 2.9 3 4.9 3 3.2 3-.9 3 .1 3 1.4 3 3.8 3 1.2 3 3.6 3 .6 3-1.3 3 .9 3 3.4 3 2.1 3-.6 3 4.8 3 3.4 3-1.4 3 1.7 3 3.7 3-.1 3-.2 3 1.7 3 3.3 3 2.2 3 3 3 1.4 3-1.2 3 1.2 3 1.6 3 0 3 4.8 3 3.2 3 .8 3 3.5 3-1.4 3 .3 3 5.4 3 1.2 3 1.8 3 0 3 .1 3 3.5 3 .8 3-2.4 3 1.1 3 0 3 1.5 3-2.1 3 3.1 3 1.2 3 .5 3-1.2 3-6 3-.1 3 1.2 3-3.2 3-3 3-4.3 3-2.4 3-.6 3-4.6 3-1.9 3-1.3 3-4.8 3-5.1 3-4.2 3-5.3 3-5.2 3-4.5 3-5.4 3-4.1 3-5.9 3-8.7 3-4.5 3-5.6 3-5.6 3-8.3 3-6.3 3-7.9 3-9.2 3-9.2 3-10.8 3-9.3 3-8.7 3-8.7 3-7.9 3-9.4 3-7.8 3-5.3 3-7.4 3-5.8 3-5.2 3-3.7 3-3.2 3-2 3-.4 3-1.5 3 2.7 3 2.8 3 1.4 3 5.3 3 2 3 2.6 3 5.9 3 5.1 3 6.5 3 10.3 3 10.2 3 9.6 3 10.6 3 12.9 3 12.9 3 11.9 3 14.6 3 13.3 3 13.8 3 18.6 3 18.8 3 16.2 3 19.2 3 16.3 3 14 3 13.3 3 14.1 3 12.6 3 12.1 3 8.5 3 6.4 3 4.6 3 7.3 3 6.1 3 1 3 3.5 3 4.9 3 4.1 3 3.4 3 3.9 3 1.9 3 1.6 3 4.9 3 1.6 3 3 3 2.8 3 1.3 3 .5 3 2.2 3 1 3-.4 3-1.8 3 2.8 3 2.4 3 1 3 2.5 3-.4 3 1.6 3 .3 3 1.2 3 .8 3 .2 3 3.4 3 .3 3 .8 3 .8 3 2.5 3 .9 3 .4 3 .8 3-2.3 3 4.2 3 2.7 3-1 3-1.2 3 1.9 3 2.7 3-1.4 3 .1 3 2.1 3 1.3 3-.2 3 2.5 3 0 3-.8 3 1.6 3 .2 3 2.3 3-2 3 2.3 3 2 3 2 3-.3 3-3.6 3 .6 3 1.8 3-1.4 3 1.8 3-.7 3-.6 3 .4 3 .4 3 1.1 3 .4M214 1835.7l3 .4 3-.2 3 1.1 3-1.2 3-3.3 3-1.1 3 3.2 3 1.9 3-1.9 3-.9 3-1 3-1.5 3-1.6 3-4.7 3-3 3 2.7 3 3.5 3 2.2 3 1.9 3 1.4 3 .6 3-1.1 3-.7 3 1.7 3-2 3 1.7 3 2.3 3 3.5 3 1.1 3 .5 3-3.4 3-3.4 3 1.8 3-.7 3-.2 3 .6 3-.3 3-.4 3 .9 3 .7 3-.5 3 0 3-.1 3 1.7 3-2.6 3 .3 3-.3 3-.4 3 1.6 3-2.8 3-.5 3 .9 3-.3 3 2.1 3-2.4 3-1.8 3 1.1 3-1.1 3-1.9 3 .6 3-2.9 3-2.4 3 1.3 3-3.4 3-7.6 3-9.6 3-5 3 6.8 3 3 3 1.8 3 1.9 3-2.6 3-1.5 3-2.8 3-4.4 3-.9 3 1.7 3-.2 3-4.3 3 1.7 3 1.4 3-3 3 2.3 3 1.9 3-.8 3-.2 3 .7 3 .4 3-2.5 3-1 3-.3 3-1.9 3 0 3 .5 3-.1 3-1.8 3 1.5 3-1.7 3 2.5 3-.8 3-2.6 3 1.5 3-.8 3 1.6 3-.3 3-.5 3 1.2 3-.6 3-.2 3 .9 3 .1 3-.2 3-.7 3-1.9 3-1.4 3-3.1 3-2 3-4.8 3-2.8 3-2 3-1.4 3-2.1 3-4.6 3 .4 3-1.2 3-.9 3-2.8 3-2.2 3-1.5 3-2.4 3-2.4 3-.8 3-2.6 3-4.1 3-1.4 3-1.8 3-2.6 3 .1 3-1.1 3-2.5 3-3.4 3-3.9 3-2.4 3-2.3 3-1.4 3-3.6 3-1.9 3 .9 3-.1 3-1.5 3-5.3 3-1.8 3-4.9 3-.7 3-1.7 3-.3 3-1.5 3-3.5 3-2.7 3-2.5 3-2.3 3-3.3 3-1.9 3 .7 3-2.9 3-4.5 3-4.3 3-2.6 3-.2 3-2.3 3-6.8 3-1.1 3-4.4 3-4.7 3-3.6 3-5.1 3-3.2 3-2.3 3-5.5 3-4 3-5.8 3-4.5 3-6 3-5.8 3-4.9 3-2.6 3-3.3 3-7.2 3-4.7 3-4.8 3-3.2 3-6.8 3-8.2 3-2.8 3-4.4 3-5.1 3-1.9 3-4.6 3-3.7 3 1.3 3-4.9 3 .4 3 .8 3-3.6 3-2.1 3-2.4 3 .1 3-.8 3-2.7 3 2.4 3 .5 3-.6 3 .5 3-1.5 3-1.5 3 2.6 3 1 3 1 3 1.4 3 1.5 3 2.5 3 4.5 3 1.9 3 .2 3 1.6 3 1.8 3 0 3 2.5 3 6.2 3 3.2 3 1.6 3 3.8 3 3.8 3 1.3 3 1.9 3 .4 3 1.6 3 1.4 3 4.1 3 3.7 3 2.2 3 3 3 1.3 3-.7 3 4.5 3 .2 3 1.2 3 3.2 3 1.1 3 3.9 3 1.1 3-2.6 3 1.1 3 3.7 3 0 3 .9 3 3.8 3 2 3 2.6 3 2.2 3 2.4 3 .9 3-.4 3 .1 3 3.2 3 2.6 3 2.2 3-1.7 3 1.3 3 3.8 3 1.7 3 3 3-.9 3 1.9 3 2.7 3 1.9 3 .8 3 3.3 3 .2 3 1 3 .7 3-.2 3 3.1 3 2.2 3-.2 3 1.4 3-.1 3-.2 3-2.4 3-1.3 3-.2 3 .4 3-2.1 3-2.3 3-3.2 3-1.2 3-1.7 3-4.5 3-3.4 3-.5 3-.9 3-5 3-4.6 3-3.6 3-4.8 3-3.4 3-1.8 3-7.5 3-5.7 3-3.2 3-2.7 3-8.5 3-5.6 3-5.7 3-7.5 3-5.8 3-11.7 3-9.7 3-8.4 3-7.3 3-8.9 3-12.6 3-9.4 3-6.6 3-9 3-7.8 3-7.8 3-7.5 3-7.1 3-5.2 3-2.9 3-2.8 3-3.6 3-1.9 3-3.4 3 .6 3 2.4 3 .6 3 1.7 3 5.8 3 2.6 3 1 3 7.2 3 8.5 3 6.5 3 7 3 11.3 3 13 3 7.2 3 9.7 3 14 3 14 3 11.8 3 13.1 3 13.4 3 17.2 3 17.1 3 19.5 3 13.4 3 19 3 17.4 3 14.8 3 13.8 3 12.1 3 11.8 3 8 3 6.5 3 9.2 3 4.8 3 5.7 3 4 3 3.9 3 3.3 3 1.3 3 4.4 3 4.9 3 2.1 3 4.3 3 2.6 3-.6 3 2.9 3 2.3 3 3.1 3 .3 3 .5 3 1.9 3 3 3 2.5 3-.3 3-.8 3 .5 3 1.2 3 1.8 3 2.3 3 2.5 3-2 3-.3 3 3 3 1.2 3 1.2 3 .7 3 .1 3 1.2 3 .2 3 .2 3 3.4 3 1.1 3-1.8 3 1.3 3 1 3 1.2 3-.1 3 .8 3 2.7 3 .1 3 1.6 3-.2 3 2.1 3 1.2 3 .6 3-.6 3-.2 3 2.4 3 1 3-1.1 3 .3 3-.4 3 1.4 3 2.2 3 0 3-.1 3-1.1 3 2.1 3-1 3-2.3 3 2.3 3 1 3 .4 3-1.2 3-.9M214 1823.1l3-.8 3-.5 3-1 3-.6 3-.4 3 .2 3-.9 3-.6 3-2.6 3-.8 3 .5 3-.8 3-1.6 3-6.1 3-5.9 3 4.6 3 3.7 3 4.3 3 1.2 3-1.2 3-1.2 3 .3 3 3.2 3-.7 3 1.8 3 1.9 3-1.7 3 .4 3 1.2 3-.3 3 2.5 3 .8 3-.6 3-1.1 3-1.5 3 0 3-.4 3-1.4 3 4.4 3 .8 3-2 3 .6 3-.6 3-1.2 3-.8 3-.1 3 1 3-.5 3-.3 3 1.9 3 .2 3-2.9 3-.4 3-.4 3-.1 3 2.1 3-.2 3-2.9 3-1.1 3-1.7 3 .1 3-.6 3 .4 3-2.9 3-1.3 3-5.4 3-3.4 3 .6 3-1 3 1.1 3 .9 3-5.7 3-2.3 3-1.2 3-1.3 3-.9 3 .1 3 .4 3-.1 3-.4 3-.9 3-3.2 3-1.2 3 2.9 3 1.7 3-2.8 3-3.5 3 .9 3 1.7 3-2.5 3 1.6 3 2.7 3 .4 3-1.5 3-2.2 3-.3 3-1.5 3-4.5 3-1.6 3 5.3 3 2.7 3 .6 3-.8 3-.8 3-2.9 3 3.8 3 .3 3-1.3 3 .9 3 .9 3-2.1 3-1.6 3-2 3 1.5 3-.9 3-2.4 3-5.5 3-3.8 3 0 3-2.1 3-4.8 3-2.2 3-1.7 3-2.7 3-.6 3-1.8 3-2.8 3-2.4 3-1.3 3-2.7 3-2.2 3-1.8 3-2.6 3-1 3-1.5 3 .2 3 .4 3-1.7 3-7 3-2 3 .4 3-5.1 3-2.3 3-2.7 3-2.8 3-2.6 3-2.2 3-3.3 3-2.2 3 1.3 3 .3 3-2.7 3-3.6 3-1.8 3 .7 3-1.8 3-5.3 3-2.4 3-.9 3 2.2 3-3.6 3-3.8 3-4.2 3-3.6 3-1.5 3-1.5 3-2.4 3-3.6 3-1.9 3-4.1 3-2.2 3-5.1 3-6.1 3-2.2 3-3.5 3-2.1 3-1.5 3-7.8 3-6.5 3-1.1 3-2.5 3-7.1 3-7 3-3.9 3-2.6 3-5.2 3-3.5 3-7.3 3-3.5 3-7.1 3-5 3-5.4 3-5.6 3-7.4 3-2 3-4.8 3-3.1 3-3.2 3-3.3 3-2.6 3 .3 3-3.1 3-4 3 2.8 3 3 3-2.8 3-3.6 3-2.3 3-.6 3 .2 3-1.6 3 .3 3-.4 3-1.8 3-1.5 3 1.7 3 1.9 3 0 3 .1 3 .2 3 .5 3 7.3 3 1 3 .8 3 5.4 3 1.5 3 .2 3 1.4 3 5.4 3 3.2 3 .5 3 3.2 3 2.6 3 3.6 3 4 3 3.7 3 .1 3 2.5 3 2.3 3 .5 3 2 3 2.8 3 3.5 3 .6 3-.9 3 5.2 3 1.8 3 1 3 2.3 3 1.3 3 .6 3 .4 3 1.8 3 .6 3 0 3 3.7 3 0 3 3.1 3 3.6 3 .2 3 2.5 3 1.4 3-.7 3 1.9 3 3.9 3 1.7 3 2 3 1.7 3 1.6 3 4 3 .4 3 .4 3 2.5 3 .1 3 3.3 3 2.1 3 1.5 3 2.6 3-1.3 3 .9 3 2.3 3 1.1 3 .9 3 2.7 3 1.6 3 .4 3-.2 3-3.2 3-1.9 3 .5 3-1.7 3-1.3 3-.3 3-.4 3-1.9 3-2.2 3-4.2 3-1.2 3-3 3-3.7 3 .3 3-6.2 3-4.3 3-2.2 3-5.4 3-3.6 3-5.3 3-5.8 3-5.7 3-5.8 3-4.7 3-3.6 3-5.9 3-7.1 3-4.8 3-9.6 3-8.5 3-7.9 3-7.7 3-9.4 3-10.5 3-9.2 3-9.5 3-10.4 3-7 3-6.5 3-7.1 3-9.7 3-5.1 3-4.3 3-3.5 3-4.9 3-6.4 3-2.4 3-.6 3-.8 3 1.1 3 3.4 3 1.5 3 .9 3 3.3 3 5.1 3 7.1 3 4.7 3 4.3 3 9.5 3 9.6 3 9.8 3 11 3 11.9 3 14.4 3 14.5 3 12.1 3 13.3 3 13.5 3 16.4 3 17.4 3 17.8 3 19.5 3 16.8 3 13.4 3 15.3 3 14.5 3 13 3 11.5 3 9.9 3 9.3 3 6.3 3 4.6 3 5.2 3 2.4 3 4.6 3 5.8 3 2.3 3 4.6 3 4.2 3 5.6 3 .5 3-1.2 3 3.4 3 3.7 3-.4 3 1 3 3.7 3 2.9 3 3.1 3 2.6 3 .4 3-.6 3 .5 3 0 3 3.2 3-.3 3 .7 3-.8 3-1.4 3 .8 3 2.5 3 1.5 3 1.2 3 .8 3 2 3 .9 3 1 3-1.6 3 2.3 3 2.9 3-.6 3 .2 3 1.5 3 0 3 2.5 3 3.2 3 .5 3-1.7 3 0 3 3.3 3 1.3 3 .7 3 .8 3 0 3 .1 3 1.9 3-1.7 3-.9 3 1.9 3 .8 3 .2 3 .2 3 .4 3 .3 3-.5 3 1.5 3 .3 3 1.6 3 3.1 3-3.4 3-2.2 3 1.8 3 .1M214 1802.4l3-.4 3 .7 3-.5 3-2.1 3-2.1 3 1 3 3.5 3-3.1 3-.5 3 .8 3-.2 3-1.7 3 1.3 3-1.3 3-4.7 3-1.9 3 2.4 3 2 3-.9 3 1.3 3 3.3 3 0 3 1.6 3-.2 3-.6 3-.3 3 2.3 3-2 3-1.6 3 3.9 3 .8 3 2.3 3 1.6 3-1.5 3-2.6 3 .9 3-.8 3 .4 3 .5 3-.6 3-.6 3-2.7 3-.5 3 .2 3-.7 3 2.1 3-.6 3-.8 3 3.2 3-.4 3-1.8 3 .5 3-.4 3-1.2 3-.6 3-1.8 3 1.8 3 1.7 3-4.9 3 1.1 3-1.9 3-.1 3 1 3-.4 3-2.4 3 .3 3-2.3 3-3.8 3-1.9 3-1.5 3-4.2 3-1.5 3-.6 3-.2 3-3.5 3-.9 3 1.1 3-2.3 3-6 3 .4 3 1.2 3-.3 3 1.8 3-.3 3-.6 3 1.7 3-2.7 3-1.8 3 2 3-.6 3-.9 3-.3 3-.2 3 .9 3 1.2 3-.6 3-.5 3 .5 3-.3 3-.4 3 .4 3-.6 3-2.2 3 .6 3 2.5 3 1.4 3 .9 3-2.3 3-1.9 3-1 3 3.1 3 1.3 3-3 3-.6 3-.9 3-3.2 3-3.2 3 .6 3-7.3 3-4.3 3-1 3 0 3-2.3 3-2.6 3-1.6 3-3.3 3-3.4 3-2.1 3-1 3-1.1 3-4.1 3-1.5 3-2.4 3-2.6 3-2.2 3-1 3-.5 3-1.4 3-.9 3-.9 3-2 3-4.1 3-3.9 3-2.1 3-1.6 3-1.1 3-4.2 3-2 3-.2 3-2.9 3-3.6 3-1.6 3-2.1 3-3.4 3-2 3-2 3 1.3 3-1.5 3-3.6 3-.9 3-1.8 3-1.2 3-2.4 3-1.9 3-1.7 3-4.4 3-3.2 3-3.3 3-2.2 3-4.4 3-2.6 3-2.5 3-4.7 3-4.7 3-4.6 3-2.3 3-.3 3-3.5 3-4.3 3-5.7 3-6.4 3-5.2 3-6.2 3-6.6 3-7.6 3-4 3-1.5 3-4.8 3-5.1 3-8.2 3-5 3-3.1 3-4.9 3-4.8 3-7 3-2.3 3-1.8 3-4.4 3-2.4 3-3 3-2.9 3 1.7 3-1.2 3-1.8 3-2.9 3-1.8 3-1.4 3-.3 3-1.3 3 0 3 .1 3-1.7 3-.4 3-.3 3-.5 3 .9 3-.1 3-.5 3 .5 3 2.3 3 1.6 3 2.2 3 .6 3 1.2 3 4.5 3 3.9 3-.2 3 2.8 3 1.4 3 2.5 3 5.1 3 1.8 3 1.9 3 3.2 3 4.3 3 4.8 3 1.2 3 2.8 3 1.8 3 1.8 3 .7 3 2.9 3 4.1 3-1.9 3 1.5 3 1.7 3 .7 3 2.4 3 .7 3 .5 3 2.5 3 1.2 3 1 3 4.1 3 1.7 3-.1 3 3.7 3 .7 3-.2 3 1.3 3 4.8 3 5 3-.9 3-.5 3 3.2 3 2.5 3-1.3 3 4.9 3 2.8 3 2.4 3 2.1 3 .3 3-1.9 3 1 3 4.1 3 1.1 3 3.9 3 4.7 3 .9 3-.5 3-.6 3 .7 3 1.9 3 2.3 3-1.8 3 1.5 3 .6 3-1 3-1.8 3 .1 3 .1 3-1.3 3-2.4 3-2.4 3-1.5 3-1.4 3-1 3-1.7 3-3.3 3-4.5 3-4.2 3-.5 3-2.8 3-7.2 3-6.6 3-4.6 3-4.2 3-3.6 3-2.6 3-5.1 3-9.2 3-9 3-4.2 3-3.9 3-7.3 3-6.8 3-9 3-8.5 3-7.7 3-8.8 3-10.2 3-10.1 3-7.3 3-10.8 3-8.6 3-6.8 3-4.2 3-9.8 3-8.1 3-4.3 3-3.8 3-4.1 3-4.1 3-2.9 3-.4 3-1.1 3 1.9 3 2 3 .7 3 2.9 3 3.8 3 4.6 3 3.1 3 2.8 3 9.4 3 7.8 3 9 3 10.1 3 11.6 3 10.5 3 11.2 3 13.5 3 14.6 3 13.4 3 14.1 3 16.8 3 18.3 3 16.8 3 19.1 3 16 3 18.3 3 18 3 13.5 3 12.6 3 11.1 3 8.4 3 8 3 10 3 4.4 3 4.1 3 6.7 3 2 3 2.9 3 2.7 3 3.8 3 3.5 3 3 3 2.8 3 2.3 3 1.9 3 2.1 3 1.8 3 .1 3 2.2 3 1.3 3 2.4 3 2.5 3 1.5 3-1.4 3 1.4 3 3.2 3 .4 3 .8 3 .8 3-.2 3 2.1 3 1.5 3 1.8 3 1.1 3-1.6 3 2.8 3 2.6 3-.7 3-.3 3 1.5 3-.3 3 .5 3 1.6 3 .5 3 .1 3 1.7 3 5.2 3 .1 3-1.9 3 1.4 3 2.8 3 .9 3-.9 3 1.9 3 1.9 3-.1 3-.1 3-.2 3 2.1 3-.4 3-.5 3 2.4 3 1.2 3-1.6 3-2.2 3-1.1 3 2.6 3 .9 3 .2 3 .5 3 1.3 3 .1 3 .6 3-1.3 3-.7M214 1763.9l3 .2 3-.1 3-.6 3-.8 3-.5 3-.7 3-.3 3-.7 3-1.9 3-1.8 3-4.9 3-4.1 3 4.6 3 4.1 3 1.9 3 1.1 3-.2 3-.6 3 .4 3 .6 3 .5 3 .4 3-.1 3 .4 3 1.7 3 1.2 3-.5 3-.6 3 .8 3 .5 3-.2 3-.1 3-.1 3-.6 3-1.1 3-.6 3 1.5 3 1.5 3-.7 3-.8 3 .5 3 .3 3-.7 3 .1 3 .2 3 0 3 0 3-.7 3-1 3-.6 3 .6 3 .1 3-.3 3-.4 3 .2 3 1.4 3-.3 3-1.1 3-.5 3-1.5 3-1 3-1.2 3-1.8 3-1.5 3-1.3 3-.3 3-1.6 3-2.3 3-1.6 3-1.6 3-1.9 3-1.4 3-1.4 3-1.5 3-.8 3-1.5 3-2.8 3-1.3 3-.1 3-1 3-.4 3 .7 3 .1 3-1.7 3-1.8 3 .3 3-.1 3 .1 3 0 3-.4 3 .7 3 1.5 3-.6 3-.9 3 .3 3-.2 3 0 3 .3 3-.3 3 .1 3-.2 3-.8 3-.5 3 .9 3 .2 3-1.4 3-.5 3 1.4 3 .2 3-1.4 3-.8 3 .6 3 .2 3-.8 3-1.7 3-2.8 3-3 3-3.1 3-3.3 3-3.9 3-2.4 3-1.3 3-2 3-2.5 3-1.9 3-1.1 3-.7 3-1.7 3-3.1 3-3.5 3-2.5 3-1.6 3-2.1 3-2.8 3-1.8 3-1 3-1.5 3-1.9 3-1.1 3-.6 3-1.5 3-2.5 3-2.7 3-3.3 3-3.3 3-2.3 3-1.8 3-1.8 3-2.5 3-2.7 3-2.2 3-2.3 3-2.6 3-1.9 3-1.4 3-.9 3-.3 3-.1 3-2.4 3-4.3 3-2.4 3-.5 3-1.6 3-2.7 3-2.9 3-2.2 3-2.9 3-3.8 3-3.7 3-3.9 3-3 3-2.5 3-3.7 3-3.6 3-4.1 3-3.5 3-3.2 3-3.8 3-5.1 3-4.8 3-3.4 3-3.5 3-5.6 3-6.3 3-5.5 3-4.4 3-4 3-4.7 3-5.5 3-5.2 3-4.7 3-5.1 3-4.3 3-3.8 3-4.8 3-4.8 3-3.9 3-3.1 3-3.3 3-3.2 3-2.6 3-2.6 3-1.9 3-1.9 3-1.3 3-.8 3-.8 3-.5 3-.1 3-.6 3-1.2 3-.5 3-.9 3-.4 3-.1 3 0 3-.1 3-.4 3 1.5 3 2.7 3 1 3 .7 3 1.9 3 1.9 3 1 3 1.3 3 3.3 3 3.4 3 2.3 3 2 3 2.8 3 3.2 3 3 3 2.7 3 2.1 3 2.2 3 2.3 3 2.7 3 2.5 3 1.6 3 2.5 3 2 3 1.2 3 1.4 3 1.4 3 1.6 3 .9 3 1.6 3 2.4 3 1.4 3 1.2 3 1.2 3 1.6 3 2.1 3 1.6 3 1.2 3 1.3 3 2.3 3 2.8 3 1.7 3 .4 3 1.9 3 3.3 3 1.8 3 1.8 3 2.4 3 1.3 3 1.3 3 2.7 3 2.9 3 1.3 3 1.1 3 1.7 3 1.6 3 1.9 3 1.8 3 1.8 3 2.2 3 1.5 3 1 3 1.6 3 1.1 3 .2 3 .7 3 1.3 3-.2 3-.2 3 .9 3 0 3-.9 3-1.4 3-1.9 3-2.1 3-1.2 3-.8 3-2.6 3-3.2 3-2.4 3-2.1 3-3 3-3.9 3-3.3 3-3.7 3-4.8 3-4 3-3.1 3-3.6 3-3.8 3-4.9 3-6 3-5.9 3-6 3-6.2 3-6.7 3-7.2 3-6.6 3-6.9 3-8.3 3-9.8 3-9.2 3-8.1 3-10.1 3-10.6 3-8.8 3-8.3 3-8.4 3-7.8 3-6.7 3-5.5 3-5.8 3-5.2 3-4.6 3-3.2 3-1.8 3-.5 3-.1 3 .6 3 1.3 3 1.3 3 2.4 3 2.9 3 3.1 3 4.5 3 5.7 3 6.2 3 7.6 3 9.3 3 10 3 11.5 3 12.2 3 12.6 3 11.7 3 12.2 3 14 3 15.5 3 16.8 3 18.2 3 18.2 3 18.2 3 18 3 16 3 15.4 3 14.8 3 12.3 3 11.2 3 10.4 3 8 3 5.7 3 5.6 3 4.9 3 3.8 3 4.3 3 3.9 3 3.8 3 3.5 3 4.2 3 5 3 2.5 3 .3 3 1.8 3 3.9 3 3.4 3 1.1 3 .1 3 1.3 3 1.2 3 1.1 3 1.4 3 .7 3 .5 3 .9 3 .9 3 1.3 3 1.3 3 .1 3 .6 3 1.6 3 1.4 3 .9 3 1.4 3 .7 3 .2 3 1 3 1.1 3 .7 3 2 3 1.7 3-.4 3 0 3 .7 3 1 3 2.5 3 2 3 .9 3 .7 3 .5 3 .2 3 .9 3 .4 3 .5 3 .7 3 2 3 1.9 3-.1 3-1 3 .1 3 .3 3 .5 3 .5 3 .8 3-.2 3-.1 3-.3 3 .3 3 .6 3-.2 3 .3 3 .5 3 .6 3 .4M214 1749.7l3-.2 3-1.3 3-.7 3 .1 3 .1 3-.4 3-1.5 3-1.9 3-1.5 3-2 3-4.6 3-3.4 3 5.4 3 4.3 3 1.7 3 .6 3-.4 3-.6 3 .7 3 .7 3 .4 3 .6 3 .3 3-.1 3 .1 3 .4 3 .6 3-.5 3 .2 3 1.2 3 .3 3-.2 3-.3 3-.8 3 .7 3 .9 3-1.1 3-1.6 3 .3 3 .1 3-1.2 3-.3 3 .5 3 .6 3 .1 3-.8 3-.6 3-.1 3 .3 3 .2 3-.3 3-.5 3 .1 3-.1 3-.3 3 .5 3 .6 3-.7 3-.3 3-.4 3-1.7 3-1.5 3-1.1 3-2 3-2.1 3-.8 3-1.3 3-1.2 3-.7 3-1.6 3-1.9 3-2.6 3-2.1 3-.7 3-.9 3-1.4 3-.9 3-.9 3-2 3-1 3-.6 3-.8 3-.9 3-.7 3 .3 3 .5 3 .1 3 0 3 0 3-.6 3-1 3-.6 3-.1 3 .4 3-.4 3 .2 3 .3 3 .5 3 1 3 0 3-.5 3-.5 3-.8 3-.2 3-.4 3 .1 3 1.2 3-.1 3-.9 3-.6 3-.3 3-.4 3-.1 3-.5 3-1.2 3-3.1 3-3.3 3-2 3-2.9 3-3 3-1.9 3-2.7 3-3.2 3-2.4 3-1.4 3-1.6 3-2.1 3-2.4 3-2.2 3-2 3-1.8 3-1.6 3-2.9 3-3.1 3-1 3 .2 3-1.3 3-2.6 3-1.9 3-1.8 3-1.7 3-1.2 3-1.8 3-3.1 3-2.9 3-2.7 3-3 3-2.9 3-2.3 3-1.7 3-1.5 3-1.4 3-2.6 3-2.6 3-1.6 3-1.4 3-1.4 3-1.8 3-2.6 3-2.2 3-2.3 3-3.1 3-2 3-.8 3-1.8 3-2.5 3-3 3-3.1 3-2.9 3-2.9 3-3.4 3-2.9 3-2.7 3-3.9 3-4.6 3-3.8 3-2.8 3-4.1 3-4 3-4 3-5.1 3-3.9 3-4.5 3-5.9 3-4.5 3-4.2 3-5.5 3-5.2 3-4.1 3-4.8 3-4.7 3-5 3-4.8 3-4.2 3-4.2 3-4.4 3-4.4 3-3.5 3-3.8 3-3.1 3-1.6 3-2.2 3-2.7 3-3 3-2.1 3-1.1 3-.1 3 0 3-.1 3-1.1 3-2.3 3-.5 3 .9 3-.4 3-.5 3-.1 3 .5 3 .9 3 .5 3 .3 3 .7 3 1.8 3 1 3 1.6 3 2.1 3 2.1 3 3 3 2.6 3 2.8 3 2.8 3 3 3 2.1 3 1.2 3 1.2 3 2.6 3 3 3 2.6 3 2.7 3 2.8 3 1.8 3 1.9 3 1.9 3 1.3 3 1.2 3 .9 3 2.5 3 2.9 3 1.3 3 1.9 3 2.1 3 1.2 3 1.7 3 1.7 3 1.6 3 2 3 1.3 3 1.3 3 2.2 3 2.3 3 1.1 3 1.5 3 2.3 3 2.3 3 1.5 3 1.4 3 2.2 3 2.2 3 1 3 2.1 3 2.6 3 1.4 3 1.7 3 1.2 3 1.3 3 2 3 2 3 1.9 3 1.3 3 1.2 3 1.3 3 .9 3 .9 3 1.6 3 1.1 3-.2 3-.3 3 0 3 0 3-.2 3-.3 3-1.4 3-2 3-1 3-1.3 3-1.7 3-1 3-2.1 3-2.5 3-2.5 3-3.3 3-3.4 3-2.9 3-3.3 3-4.2 3-4.8 3-4.9 3-4.8 3-4.3 3-3 3-4.7 3-6.1 3-6.1 3-6.2 3-6.9 3-7.1 3-7.3 3-7.9 3-8.1 3-8.4 3-8.9 3-8.9 3-8.6 3-8.7 3-8.9 3-9.1 3-8.4 3-7 3-7.2 3-6.2 3-3.4 3-5 3-4.9 3-2.4 3-1.4 3-1.5 3-1.4 3-.3 3 .4 3 1.1 3 1.9 3 3.4 3 4.5 3 3.9 3 4.5 3 6.4 3 8.1 3 9.7 3 10.9 3 11.8 3 12.7 3 12.3 3 12.7 3 13.5 3 14.8 3 15.3 3 15.6 3 16.9 3 17.7 3 17.3 3 17.7 3 16.6 3 14.9 3 13.9 3 12.4 3 10.5 3 9 3 7.9 3 6.2 3 5.5 3 4 3 3.7 3 5.5 3 5.3 3 4.1 3 3.9 3 4.3 3 3.4 3 2 3 2.4 3 2.5 3 1.2 3 1.2 3 1.4 3 1 3 1.7 3 2 3 1.1 3 1.2 3 1.4 3 .7 3 .4 3 1.2 3 1.4 3 .4 3 1.2 3 1.6 3 1.4 3 .4 3 .6 3 .9 3 1.8 3 1.1 3 .1 3 .7 3 .5 3 1.5 3 1.6 3 .6 3 .6 3 1.5 3 .9 3 1.5 3 1.4 3 .6 3 .3 3 .2 3 .7 3 1.3 3 .8 3-.3 3 .2 3 1.1 3 .7 3 1 3 1.8 3 .8 3-.1 3-.2 3-.6 3 .3 3 .4 3 .2 3 1.4 3 1 3 .4 3-.1 3 .2 3-.2 3-.2 3 .9M214 1732.7l3-1.8 3-1.8 3-.6 3-.6 3-.1 3 .1 3-.4 3-1.6 3-1.5 3-2.6 3-5.6 3-3.2 3 6.1 3 3.6 3 1.5 3 .9 3 .3 3 0 3-.4 3 .6 3 .4 3-.4 3 .3 3 .7 3 .5 3-.2 3 .1 3 .9 3 .9 3 .3 3 .4 3-.5 3-.5 3 0 3 0 3-.7 3 .1 3 .1 3-.5 3-1.1 3-.5 3 .3 3 0 3 .5 3 .7 3-.4 3-.2 3 .7 3-.1 3-.2 3 .1 3-.2 3-1.3 3-1 3-.2 3 1 3 .1 3-1.2 3-.7 3-.3 3-1 3-2.2 3-1.5 3-.6 3-1.3 3-1.5 3-1.1 3-1.4 3-2.1 3-1.8 3-1.7 3-.7 3-1.7 3-2.2 3-1 3-1.1 3-1 3-.9 3-1 3-1.6 3-.5 3 .6 3-.7 3-1.3 3 .2 3-.4 3-.4 3 .4 3 0 3 .2 3-.5 3-.8 3-.2 3-.1 3-.6 3 .2 3 .4 3-.3 3-.2 3 .7 3 .6 3-.8 3-.9 3 .2 3 .3 3-.5 3-1.2 3-.8 3 .3 3 .4 3 .2 3-.4 3-.4 3-.9 3-2.2 3-2.9 3-3 3-3.4 3-2.9 3-1 3-1.7 3-2.3 3-2.7 3-1.4 3-1.3 3-2.1 3-1.9 3-1.4 3-2.3 3-3.4 3-3.1 3-1.4 3-1.2 3-1.9 3-2 3-1.8 3-1.1 3-1.2 3-2.3 3-2.3 3-2.2 3-2.8 3-3 3-2.8 3-1.6 3-2.2 3-2.9 3-2.3 3-1.6 3-1.3 3-1.4 3-3 3-2.9 3-1.1 3-1.5 3-1.6 3-1.1 3-1.5 3-2.5 3-3.4 3-2.9 3-1.7 3-2.1 3-2.1 3-3 3-3.7 3-2.2 3-1.5 3-2.5 3-4 3-4.6 3-2.7 3-2.1 3-2.9 3-3.5 3-3.2 3-3 3-3.9 3-4.5 3-3.7 3-3.7 3-4.6 3-4.1 3-5 3-5.3 3-5 3-4.7 3-4.3 3-5.3 3-5.9 3-5 3-4.9 3-4.6 3-3.3 3-3.8 3-4.9 3-4.2 3-3.8 3-3.8 3-2.7 3-1.3 3-1.7 3-1.8 3-1.8 3-2.1 3-2.3 3-1.6 3-.9 3-.7 3-1.3 3-1.3 3-1.1 3-.5 3-.1 3-.2 3 0 3-.6 3 1.2 3 2.7 3 .4 3-.5 3 .9 3 2.5 3 2.5 3 2 3 2.2 3 2.4 3 2.5 3 2.5 3 3 3 1.8 3 1.6 3 3 3 2.4 3 1.3 3 1.7 3 2.7 3 2.2 3 3.3 3 3.3 3 1.8 3 1.7 3 2.3 3 1.8 3 0 3 .8 3 1.7 3 1.5 3 1.8 3 1.6 3 1.7 3 2.6 3 2.1 3 1 3 .5 3 2 3 2.4 3 2.5 3 1 3 .5 3 2.4 3 2.9 3 2.1 3 1.5 3 1.6 3 2.4 3 2.5 3 1.6 3 2.5 3 2.3 3 1.2 3 1.5 3 2.1 3 1.2 3 .5 3 1.1 3 2.1 3 1.6 3 1.6 3 1.2 3 .7 3 1 3 1 3 .5 3 .6 3 .5 3 .5 3-.4 3-1.7 3-1.4 3-.9 3-1 3-1.6 3-1.7 3-1.5 3-1 3-2.5 3-3.4 3-2.7 3-1.8 3-2.2 3-3.6 3-3.5 3-3.6 3-3.1 3-3.8 3-4.6 3-4.6 3-5.5 3-6.6 3-4.8 3-4.6 3-5.5 3-5.5 3-7.8 3-8.6 3-7.7 3-7.6 3-8.8 3-10.2 3-9.3 3-8.1 3-8.1 3-9.4 3-8.8 3-7.5 3-6.7 3-5.9 3-6 3-5.2 3-4.7 3-4.6 3-3.3 3-2.4 3-1.8 3-1 3-.2 3 1.6 3 2.2 3 2.4 3 2.5 3 3.8 3 4.9 3 4.9 3 5.4 3 7.7 3 10 3 10.8 3 11.1 3 12.5 3 14.1 3 14.6 3 13.9 3 13.5 3 14.4 3 15.8 3 17.1 3 17.9 3 17.6 3 16.7 3 16 3 15 3 13.2 3 11.1 3 10.7 3 10.2 3 7.6 3 5.4 3 5.5 3 5.1 3 4.5 3 4.6 3 3.5 3 3.5 3 3.8 3 4 3 3.5 3 2.8 3 2.9 3 2.3 3 1.9 3 1.8 3 1.3 3 2 3 2.7 3 1.7 3 .4 3-.4 3 .8 3 1.9 3 1 3 .5 3 1.4 3 1.2 3 .3 3 .5 3 .4 3 1.1 3 1.2 3 .8 3 1.6 3 1.9 3 1.2 3 .8 3 .4 3 .1 3 .6 3 1.2 3 2.1 3 1.3 3 1.3 3 .9 3 .1 3 .3 3 .8 3 1.3 3 1 3 1.3 3 .9 3-.1 3 .2 3 .6 3 .8 3 .8 3 .6 3 .5 3-.2 3-.3 3 .7 3 1.6 3 1.3 3 0 3-1.4 3-.6 3 1.5 3 .6 3-.1 3 1.1 3-.2 3-.9M214 1713.0l3-.5 3-.8 3-.4 3 .2 3-.3 3-.5 3-.9 3-.3 3-.7 3-3.7 3-5.2 3-1 3 5.8 3 2.6 3 .4 3 .7 3 .5 3-.2 3 .3 3 .9 3-.2 3 0 3 .7 3 .4 3 .5 3 .5 3 .1 3 .5 3 .2 3 0 3-.2 3-.1 3-.4 3-.9 3 .1 3 1.3 3 0 3-1.4 3-.5 3 .7 3 .5 3-.9 3-.7 3 .2 3-.1 3-.4 3-.3 3-.2 3-.1 3 1.1 3 0 3-1.8 3-1.7 3 .5 3 .4 3-.9 3-.3 3-.7 3-.5 3 .2 3-.7 3-1.8 3-1.1 3-1.4 3-1.9 3-1.5 3-1.6 3-1.4 3-1.3 3-1 3-.8 3-.8 3-.9 3-1.7 3-1.4 3-1 3-1.8 3-1.3 3-.3 3-.9 3-1.1 3-.4 3-.8 3-.7 3-.4 3-.3 3 .3 3 .6 3-.7 3-.9 3 0 3-.1 3-.3 3-.2 3-.6 3-.3 3-.2 3-.1 3 .3 3 .6 3 .2 3-.3 3-.4 3-.3 3 .1 3 0 3-.3 3-.2 3-.6 3-.8 3 0 3-.7 3-1.9 3-.6 3-.8 3-2.1 3-2.6 3-2.9 3-3.3 3-2.8 3-1.7 3-1.3 3-2.1 3-1.6 3-.9 3-2 3-2.6 3-3 3-2.5 3-1.6 3-2.9 3-2.9 3-1.6 3-1 3-.6 3-1.7 3-1.8 3-1.2 3-1.6 3-2.2 3-2.5 3-2.3 3-2.1 3-2.6 3-3.1 3-2.4 3-2.4 3-1.9 3-2.3 3-2.6 3-2.5 3-2.1 3-1.5 3-1.9 3-2.3 3-1.8 3-2.3 3-1.1 3-1.1 3-2.6 3-3.2 3-2.3 3-1.4 3-2.1 3-2.3 3-2.9 3-2.4 3-1.8 3-2.8 3-3 3-2.2 3-3.3 3-4.4 3-3.5 3-2.4 3-3.8 3-3.9 3-3.8 3-4.1 3-3.5 3-3.7 3-3.5 3-4.4 3-4.7 3-4.4 3-5.8 3-5.8 3-5.1 3-3.8 3-3.9 3-4.9 3-4.5 3-4 3-4.4 3-5.2 3-4.5 3-4 3-4 3-4.1 3-2.8 3-1.6 3-1.9 3-3.6 3-3.1 3 0 3-.7 3-2.8 3-2.7 3-1.4 3 .2 3-.8 3-1.7 3 .6 3 1 3 .4 3-.4 3-.4 3 1.3 3 1.3 3 .2 3 .3 3 .6 3 .9 3 2.3 3 3.1 3 2.1 3 2.1 3 1.8 3 2.1 3 2.7 3 1.7 3 1.6 3 2.6 3 2.8 3 3.1 3 3.5 3 3 3 2.2 3 1.5 3 1.7 3 2.4 3 1.8 3 1.4 3 1.4 3 1.5 3 1.5 3 1.7 3 1.4 3 1.8 3 1.2 3 2.1 3 1.8 3 1 3 2.4 3 2 3 1.4 3 1.4 3 2.3 3 2.7 3 2.7 3 1.8 3 1.4 3 1.7 3 1.9 3 1.5 3 1.5 3 2.8 3 2.3 3 1.2 3 1.1 3 .9 3 2.7 3 2 3 1.1 3 1.1 3 1.4 3 .4 3 1.2 3 2.7 3 1.7 3 .6 3-.1 3 .1 3 .2 3 1.1 3 .9 3-.2 3-.5 3 .1 3-.5 3-.9 3-.9 3-1.8 3-1.9 3-1.1 3-.7 3-2.5 3-4.4 3-3.1 3-2.4 3-2.8 3-3.8 3-3 3-2.5 3-3 3-4.5 3-4.5 3-4.2 3-4.5 3-5.9 3-6.6 3-6.3 3-4.5 3-5 3-6.2 3-7.4 3-8 3-8.5 3-9.3 3-8.8 3-8 3-9.3 3-9.6 3-8.9 3-7.8 3-7.7 3-7.6 3-7.3 3-6 3-4.6 3-4.1 3-3.1 3-3.6 3-3.5 3-2.2 3-.2 3 .8 3 1.7 3 1.5 3 1.6 3 3.2 3 3.7 3 4 3 5.3 3 5.9 3 8 3 9.8 3 11.1 3 12.6 3 14 3 13.9 3 12.3 3 13.4 3 14.8 3 14.7 3 15.7 3 18 3 18.4 3 16.8 3 15.7 3 14.8 3 14 3 12.4 3 12.1 3 11.3 3 8.7 3 6.7 3 6.1 3 5.4 3 5.2 3 4.8 3 4.8 3 5.2 3 3.8 3 3 3 4.3 3 3.7 3 2.4 3 2.6 3 2.8 3 1.3 3 1.5 3 2.4 3 1.8 3 1.3 3 .8 3 1.3 3 1.2 3 .3 3 1 3 2.1 3 1.5 3 .6 3-.4 3-.4 3 1.1 3 1.8 3 .8 3 .8 3 1.5 3 1 3 .5 3 .4 3 1.9 3 2.3 3 .8 3 .5 3 .9 3 1.1 3 .5 3 1.2 3 1.4 3 1.2 3-.2 3-.5 3 .5 3 1.1 3 .8 3 .9 3-.2 3 .6 3 1.6 3 1.3 3 .8 3-.4 3-.1 3 .9 3 1.4 3 1.3 3-.3 3-.6 3-.1 3 .7 3 0 3-.2 3 1.1 3 1 3-.2 3-.3 3-.1M214 1691.7l3 .1 3-.6 3 .1 3-.3 3 .3 3 .6 3-.3 3-1 3-1.4 3-2 3-4.1 3-2.2 3 4.2 3 2.5 3 .7 3 0 3-.1 3 .3 3-.4 3 .6 3 1.3 3 1.2 3 .3 3-.4 3-.4 3 0 3-.1 3 .7 3 1.3 3 .6 3-.7 3-1.7 3-1.3 3 1 3 1.5 3 0 3-.5 3-.1 3 .6 3 .5 3-1.2 3-.9 3 .5 3 .1 3-1 3-.9 3-.8 3 .4 3-.2 3-.7 3 0 3 .2 3-.4 3-.9 3-.5 3-.7 3 0 3 .3 3-.6 3-1.1 3-1.8 3-2.1 3-.4 3 .3 3-.4 3-2.5 3-2.8 3-1.5 3-1 3-.2 3-.3 3-1.4 3-2.1 3-2.1 3-1 3-.2 3-1.8 3-1.5 3-1.3 3-1 3 0 3-1.2 3-1.3 3-.2 3 .6 3-.2 3-1.1 3-.2 3 .1 3 .4 3 .1 3-.3 3 .4 3 .6 3-.3 3-1.5 3-.3 3 .5 3-1.6 3-1.4 3 .3 3 1.2 3 .2 3-1 3-.8 3-.3 3 0 3 .7 3 .3 3-.9 3-.8 3-.4 3-1.4 3-.2 3-.7 3-2.6 3-2.9 3-2.9 3-3.1 3-2.4 3-1.4 3-.5 3-2.2 3-2.3 3-1.5 3-2.2 3-3 3-2.6 3-1.6 3-1.9 3-2.2 3-1.5 3-.8 3-1.7 3-2.3 3-2 3-2.1 3-2.2 3-2.4 3-2.6 3-1.8 3-1.3 3-2.4 3-2.7 3-2.5 3-2.2 3-3 3-2.1 3-2 3-2.4 3-1.2 3-1.7 3-2.2 3-1.9 3-2.2 3-2.5 3-3 3-2.6 3-1.3 3-1.3 3-2.1 3-2.5 3-1.7 3-1.4 3-2.8 3-3.6 3-2.8 3-2.5 3-2.5 3-2.8 3-2.7 3-2.5 3-2.9 3-3.2 3-3.1 3-2.9 3-3.4 3-3.6 3-4.6 3-3.8 3-3.1 3-3.5 3-4.4 3-4.5 3-4.4 3-5.4 3-4.4 3-3.5 3-5 3-5.3 3-4.5 3-4.1 3-4.7 3-5.3 3-5.1 3-3.7 3-4.1 3-4 3-3.6 3-3.3 3-2.8 3-2.3 3-2.9 3-2.2 3-.9 3-1.5 3-2 3-1 3-1.1 3-1.2 3-.9 3-.2 3 .4 3-.5 3-1.3 3-.4 3 .5 3 .2 3 1 3 2 3 .2 3 .4 3 1.9 3 1.7 3 1.5 3 1.7 3 2.1 3 2.8 3 3.9 3 2.1 3 .3 3 1.7 3 2.8 3 2.2 3 2.2 3 1.6 3 1.7 3 3.2 3 2.9 3 2.2 3 1.7 3 2.1 3 3.1 3 3.3 3 .6 3 .9 3 2.6 3 1.7 3 1.6 3 1.2 3 1.6 3 1.3 3 .7 3 1.8 3 2.4 3 3.1 3 2.8 3 1.1 3 .7 3 1.8 3 3 3 1.9 3 1.2 3 1.4 3 2.4 3 1.9 3 1.4 3 1.7 3 2.2 3 2.5 3 2 3 .4 3 .2 3 1.5 3 1.4 3 1.1 3 1.4 3 1.7 3 1.7 3 1.5 3 .1 3-.3 3 0 3-.4 3 .9 3 1.7 3 .2 3 .1 3-.4 3-.4 3-1 3-2.4 3-1.7 3-.7 3-1 3-1.3 3-2 3-2.5 3-3.3 3-2.8 3-2.5 3-2.9 3-3.5 3-2.8 3-2.9 3-3.8 3-3.8 3-5.1 3-5.2 3-4.7 3-5.6 3-5.8 3-6.8 3-7 3-6.4 3-6.9 3-6.6 3-6.9 3-8.9 3-9.5 3-8.9 3-8.3 3-8.4 3-8.7 3-8.4 3-7.6 3-6.7 3-6.1 3-7 3-6.5 3-4.6 3-3.8 3-3.3 3-2.7 3-1.2 3 .7 3 .7 3-.2 3 1.1 3 2.5 3 2.7 3 3.1 3 3.8 3 5.6 3 7.7 3 8.4 3 9.8 3 11.6 3 13 3 13 3 12.7 3 13.6 3 14.8 3 15.3 3 15.2 3 14.9 3 16.8 3 18.2 3 17 3 15 3 13.6 3 13 3 13.3 3 12.2 3 8.5 3 7.5 3 8 3 6.9 3 5.4 3 5.5 3 4.3 3 3 3 4.4 3 6 3 4.5 3 2.5 3 2.9 3 3.8 3 4 3 3 3 2.2 3 1.6 3 2.2 3 1.4 3 1 3 1.3 3 .9 3 .3 3 .9 3 .6 3 1.1 3 1.1 3 .5 3 .6 3 1.3 3 1.9 3 .7 3 0 3 .6 3 .5 3 .9 3 .9 3 .5 3 1.6 3 1.7 3 .8 3 1.3 3 .7 3 1 3 .3 3 1 3 1.6 3 .7 3 .2 3-.1 3 .6 3 1.4 3 1.7 3 .8 3 .2 3 .2 3 .5 3 1.1 3 .8 3-.1 3 1.1 3 1.3 3 0 3 .4 3 .1 3 .3 3 1.5 3 1.1 3 .3 3-.7 3-.5 3-.6 3 .5 3 1.3 3 1M214 1673.8l3 .4 3-.1 3 .1 3 .8 3 0 3-.8 3-.2 3 .1 3-1.3 3-4.1 3-7.4 3 .9 3 6 3 2.8 3 1.3 3 .3 3 .6 3 .6 3 0 3 .1 3-.6 3-.3 3 .3 3 0 3 .2 3 .8 3 .8 3 .7 3-.7 3-.5 3 .9 3 .7 3 .1 3-.7 3-.4 3 .1 3-.4 3-.3 3-.7 3-.1 3 .6 3 .8 3 .3 3-1.3 3-.9 3 .1 3-.1 3-1 3-.8 3-1.2 3-1 3 1 3 1.1 3-.1 3-.9 3-1.1 3-1.5 3-.8 3 .2 3 .2 3-1.6 3-1.2 3-.4 3-.3 3-1.3 3-2.1 3-.5 3 .2 3-1.8 3-2 3-2.1 3-1.3 3-.6 3-1.1 3-.8 3-1 3-1.5 3-1.6 3-.7 3-.9 3-1.1 3-.4 3-.3 3-.7 3-.9 3-1 3-.8 3-.6 3 .1 3-.5 3-.4 3 .3 3-.8 3-.2 3-.3 3 .4 3-.4 3-.9 3 .1 3 .2 3 .3 3 .2 3-.3 3-.8 3-.7 3 .2 3 .5 3-.1 3-1 3-.3 3-.3 3-.9 3-2.1 3-2.1 3-1.5 3-1.3 3-2.2 3-2.2 3-2.3 3-1.9 3-1.9 3-2.7 3-2.3 3-1.1 3-1.5 3-1.7 3-1.9 3-1.2 3-1.2 3-1.5 3-1.1 3-2.7 3-2.9 3-2 3-2 3-2.1 3-1.9 3-1.8 3-2.2 3-2.5 3-2.7 3-2.2 3-1.1 3-1.7 3-2.7 3-2.7 3-3.1 3-2.6 3-1.1 3-1.1 3-2.5 3-3.4 3-2.6 3-2.3 3-1.9 3-1.2 3-1.2 3-2.5 3-2 3-2.1 3-2.7 3-2.6 3-2.2 3-1.3 3-.8 3-3.4 3-3.8 3-2 3-1.9 3-2.8 3-3.2 3-3.4 3-3.5 3-2.6 3-2.1 3-3.4 3-3.9 3-2.9 3-3.3 3-4.9 3-3.7 3-3 3-3.6 3-5.2 3-5.4 3-3.5 3-3.5 3-4.1 3-4.4 3-4.9 3-4.8 3-4.8 3-5.1 3-4.3 3-4.6 3-5.5 3-4.2 3-3.3 3-4.2 3-3.8 3-2.6 3-1.8 3-2.2 3-2.7 3-2.4 3-1 3-.2 3-.8 3-2.7 3-2.4 3-.4 3 0 3-.5 3 .4 3 .4 3 .1 3-.9 3 0 3 2.1 3 .8 3 .1 3 1.4 3 1.5 3 1.3 3 1.9 3 1.6 3 1.3 3 1.5 3 2 3 1.7 3 1.8 3 3 3 2.9 3 1.6 3 1.9 3 2.6 3 2.2 3 2.9 3 2.8 3 2.2 3 2.5 3 2.2 3 1 3 2.4 3 2.2 3 1.8 3 1.7 3 1.4 3 2.5 3 1.4 3 1 3 2.6 3 2.1 3 .7 3 2 3 2.3 3 1.8 3 3.2 3 2.4 3 .6 3 .9 3 1.9 3 2.6 3 2.2 3 1.3 3 1.3 3 2 3 2.1 3 .8 3 1 3 1.6 3 2.1 3 1.7 3 1.3 3 2 3 1.4 3 .9 3 .6 3 1.1 3 .8 3 .5 3 1 3 .1 3 .1 3 1.7 3 .6 3-1.1 3-1.2 3-1.6 3 0 3-.1 3-1.8 3-2.1 3-1.3 3-.8 3-1.8 3-2.5 3-1.9 3-2.7 3-3.1 3-2.1 3-2.5 3-3.4 3-2.1 3-3.1 3-3.6 3-4.3 3-5.2 3-4.7 3-4.4 3-4.9 3-6 3-6 3-6.4 3-7.2 3-6.7 3-8.5 3-8.3 3-6.9 3-7.5 3-9.7 3-9.8 3-8.7 3-8.9 3-7.7 3-6.7 3-7.3 3-7.2 3-5.8 3-5 3-5.1 3-4.3 3-2.4 3-1.9 3-2.1 3-1.4 3-.2 3 1.4 3 2.4 3 2 3 3 3 4.3 3 4.9 3 5.3 3 6.5 3 8.3 3 10.1 3 11.2 3 12.4 3 13 3 13.5 3 14.4 3 14.6 3 15.2 3 15.7 3 16 3 16.2 3 16.8 3 17 3 15.5 3 13.6 3 12.3 3 12.3 3 12 3 10.4 3 7.3 3 6.1 3 7 3 5.7 3 4 3 4.4 3 5 3 4.6 3 3.3 3 4.4 3 5.3 3 4.2 3 3.5 3 2.7 3 2.2 3 1.1 3 .8 3 1.3 3 2.1 3 2.9 3 1.3 3-.2 3-.3 3 .5 3 2 3 1.4 3 .1 3 .9 3 1.4 3 .2 3 1.1 3 1.7 3 1.3 3-.1 3 .4 3 1.2 3 1.6 3 1.3 3 .2 3-.1 3 1 3 1.7 3 1.2 3-.2 3 .5 3 1.1 3 .9 3 1.7 3 1.4 3 .4 3 .2 3 .5 3 1.3 3 1.2 3 .3 3 .1 3 .2 3 .9 3 1 3 .6 3 1 3 0 3 .5 3 1.1 3 .8 3 .5 3-.4 3-.5 3 0 3 .8 3 .8 3 .1 3 .6 3 1.2 3 .8M214 1660.7l3-.2 3-1 3-1 3-.5 3-.1 3-.6 3 .2 3 .1 3-1.5 3-2.4 3-4.8 3-1.1 3 4.5 3 2.9 3 1.4 3 1.5 3-.4 3-.7 3-.2 3 .6 3 .4 3-1.1 3-.5 3 .2 3 1.8 3 1.2 3-.9 3-.2 3 .8 3-.5 3 0 3-.7 3-.4 3 1.2 3 .6 3 0 3-.7 3-.9 3 0 3 .6 3-.4 3-.2 3-.1 3-.5 3-.5 3-.2 3-.6 3-.3 3-.3 3 .1 3 .3 3-1.4 3-.8 3 .2 3-.7 3-1.8 3-1.3 3 0 3-.1 3 0 3-1.4 3-1.2 3-1 3-.9 3-.9 3-1 3-.7 3-1.1 3-1.5 3-1 3-.9 3-1.3 3-1.9 3-1.7 3-1 3-1.2 3-.8 3-1 3-.6 3-.7 3-1.4 3-1 3-.2 3 1 3 .3 3-.9 3-1.9 3-1.1 3-.4 3-.3 3-.3 3-.3 3 .2 3-.4 3-.2 3 .2 3-.9 3-.4 3 .2 3-.6 3 0 3 0 3-.5 3-.7 3-.3 3-.2 3 .1 3-.5 3-.7 3-1 3-.8 3-.7 3-.2 3-.8 3-2 3-1.6 3-1.7 3-2.1 3-3.2 3-1.9 3-.6 3-1.6 3-2.2 3-2.3 3-1.4 3-1.4 3-1.4 3-2.7 3-3.4 3-2.5 3-1.7 3-1 3-1.5 3-1.5 3-2.5 3-3.1 3-2.5 3-.9 3-1.4 3-1.8 3-2 3-2.6 3-2.4 3-1.5 3-2.2 3-2.5 3-3.6 3-2.9 3-1.5 3-1.9 3-1.9 3-2.5 3-2.9 3-1.6 3-1.4 3-2.5 3-2 3-1 3-1.6 3-2.6 3-2.8 3-2.3 3-2.2 3-3.2 3-1.8 3-2 3-3.3 3-3 3-2.3 3-2.7 3-1.9 3-1.2 3-2.9 3-3.4 3-2.8 3-2.8 3-3.9 3-3.9 3-3.5 3-4 3-3.9 3-3.8 3-3.4 3-3.3 3-4.3 3-4.5 3-4.5 3-3.9 3-3.5 3-4 3-5.3 3-5.6 3-5 3-5 3-4.5 3-4 3-3.2 3-3 3-3.1 3-3.4 3-4.3 3-4 3-2.5 3-2 3-2.3 3-2.1 3-1.8 3-1.9 3-1.3 3-1 3-1.3 3-.1 3 .1 3-.7 3-.2 3-.3 3-.1 3 2 3 2.4 3 .7 3 .1 3-.2 3 1.2 3 2.5 3 1.8 3 1.2 3 2.1 3 2.3 3 1.7 3 1.9 3 .8 3 1.1 3 2.8 3 2.8 3 1.8 3 1.6 3 1 3 2.6 3 3.7 3 2.7 3 2.2 3 2.5 3 2.4 3 2.4 3 2.3 3 2.1 3 1.3 3 1.2 3 2.1 3 2.2 3 1.8 3 .9 3 1.3 3 1.8 3 1.9 3 1.8 3 2.2 3 2.8 3 2.2 3 1.2 3 1.2 3 2 3 1.6 3 1.2 3 2.1 3 2 3 2.4 3 2.4 3 .5 3 1.1 3 2 3 1.2 3 .6 3 2 3 2.2 3 1.3 3 .7 3 .4 3 .8 3 1 3 .5 3 .5 3 .6 3 .4 3 .1 3 .1 3 .1 3 0 3-1.8 3-1.2 3 0 3-.2 3-1.2 3-1.5 3-1.2 3-2.1 3-2 3-1.3 3-1.8 3-2.7 3-3.9 3-3.9 3-3.2 3-3.5 3-3.4 3-2.5 3-3.4 3-4.1 3-4.1 3-5 3-5.3 3-5.3 3-6.8 3-7.6 3-6.9 3-7.8 3-7.6 3-6.7 3-6.1 3-7.6 3-8.7 3-9.2 3-9.6 3-9.5 3-7.7 3-6.9 3-7.1 3-6.1 3-5.9 3-5.8 3-3.8 3-2.3 3-4.2 3-3.8 3-1.8 3-1.1 3 .3 3 2.2 3 .9 3 .3 3 2.7 3 3.8 3 4.3 3 6.1 3 7 3 8.9 3 10.6 3 11.2 3 12.9 3 13.9 3 15.3 3 15.9 3 14.1 3 14.6 3 14.8 3 15.6 3 16.4 3 16.5 3 15.7 3 14.2 3 13.9 3 13.1 3 11.7 3 10.3 3 9.3 3 8.6 3 6.9 3 6 3 5.1 3 4.9 3 5.1 3 4.3 3 4.6 3 4.7 3 3.7 3 3.1 3 3.4 3 3.9 3 4.1 3 2.7 3 2 3 2.2 3 2.2 3 1.5 3 .9 3 1.1 3 .5 3 .6 3 1.4 3 1.5 3 .5 3 .2 3 .9 3 1.4 3 .9 3 .6 3 .5 3 .9 3 1 3 .6 3 .6 3 1.5 3 1.2 3 .3 3 0 3 .8 3 1.1 3 1.8 3 1.7 3 .3 3 .3 3 1.2 3 .9 3 .4 3-.3 3 .4 3 1.8 3 1.3 3 0 3 .6 3 1.2 3 1.8 3 1.7 3-.5 3-1.1 3-.1 3 1 3-.3 3 .4 3 1.9 3 .2 3 0 3 .7 3 .5 3 0 3 0 3-.2 3-.1 3 .1 3-.6M214 1639.0l3-.6 3 .1 3 .4 3 .5 3 .2 3-.9 3-.7 3-1 3-.5 3-1.2 3-5.3 3-1 3 5.1 3 2.5 3 1.5 3 .8 3 .5 3-.2 3 0 3 .3 3-.7 3-1.3 3-1.2 3 1.5 3 2.2 3-.9 3-1.7 3-.3 3 1.7 3 1.4 3-.6 3-.1 3 .6 3-.2 3-.2 3-.4 3-.2 3-.5 3-.3 3-.4 3 0 3 .6 3 .1 3-.8 3-1.3 3-.4 3-.6 3-.8 3 .3 3-.4 3-1.5 3-.6 3-.2 3-.6 3 .1 3 .1 3-.2 3-1.7 3-1 3 .1 3-.5 3-.2 3-.9 3-2.2 3-1.8 3-.4 3-.7 3-1 3-1.2 3-.9 3-.5 3-.9 3-2.1 3-1.1 3-1 3-1 3-.4 3-1 3-1.5 3-1.2 3-.9 3-.9 3-.5 3 .1 3-1 3-1.6 3-.2 3 .6 3-1 3-.6 3 .2 3 .2 3-.6 3-1 3-.9 3-.8 3 0 3 .8 3 0 3-.3 3-.7 3-.7 3-.6 3-1.5 3-.7 3 .3 3-.1 3-.6 3 .1 3 .3 3-1 3-1.2 3-1.7 3-.1 3-.5 3-2.4 3-2.9 3-3 3-2.1 3-.9 3-.6 3-2 3-2.1 3-1.7 3-1.4 3-1.1 3-2.3 3-3.4 3-2.2 3-.6 3-.9 3-1.6 3-2.7 3-2.6 3-2.3 3-2 3-2.2 3-2.4 3-1.9 3-1.5 3-1.7 3-2.7 3-2.5 3-1.2 3-2 3-2.5 3-3.1 3-2.4 3-1.9 3-2.9 3-3.3 3-1.7 3-1.2 3-1.8 3-2.5 3-2.6 3-1.8 3-1.3 3-2 3-2.7 3-2.9 3-2.9 3-2.9 3-3 3-1.6 3-.3 3-1 3-3.1 3-3.9 3-3.2 3-2.1 3-2.4 3-2.7 3-2.4 3-3 3-3.1 3-2.9 3-3.4 3-3 3-3 3-3.4 3-3.2 3-3.9 3-4.3 3-5 3-4.1 3-3.2 3-4 3-4.4 3-4 3-4.1 3-4.9 3-5.7 3-5.4 3-4.6 3-3.9 3-3.9 3-4.7 3-4 3-3.3 3-2.9 3-2.6 3-2.7 3-2.9 3-2.2 3-1.4 3-1.1 3-1.5 3-1.6 3-.3 3-.3 3-2 3-1.6 3-.6 3 .3 3 1.7 3 1.1 3 0 3-.2 3 .6 3 1.3 3 .6 3 .3 3 1.5 3 1.7 3 .8 3 1.7 3 2.8 3 2.5 3 1.1 3 .4 3 1.8 3 2.2 3 2.9 3 3.1 3 1.7 3 1.5 3 2.9 3 3.5 3 2.2 3 1.3 3 1.3 3 1.8 3 2.9 3 3.6 3 3 3 1.8 3 1.2 3 1.6 3 1.5 3 .7 3 1.6 3 2.8 3 1.5 3 2.4 3 2.4 3 1.4 3 2.1 3 2.1 3 1.9 3 1.8 3 2.5 3 1.2 3 .7 3 1.6 3 2.3 3 1.7 3 1.6 3 2 3 1.7 3 1 3 .8 3 2.2 3 2.3 3 .5 3 0 3 .8 3 1.5 3 .7 3 0 3-.1 3 1 3 .2 3 0 3-.1 3-.7 3 .9 3 .9 3 0 3-.7 3-1.1 3-1.4 3-1.4 3-1.5 3-2.2 3-1.8 3-1.5 3-1.6 3-2.2 3-1.8 3-2.5 3-3 3-2.4 3-2.6 3-4.3 3-3.8 3-3 3-4.7 3-5.5 3-4.4 3-5.5 3-6.4 3-5.8 3-6.4 3-5.9 3-5.5 3-8.2 3-8.6 3-6.7 3-7.4 3-9.3 3-9.7 3-9.1 3-8.1 3-6.3 3-7.5 3-8.4 3-6.2 3-5 3-4.5 3-5 3-4 3-3.4 3-3.8 3-1.9 3 .9 3 1 3 .2 3 1 3 1.6 3 2.4 3 4 3 4.6 3 5.8 3 7 3 8.3 3 9.9 3 10.5 3 13.1 3 16.1 3 16.1 3 14.5 3 15 3 14.8 3 15.5 3 15.6 3 16.2 3 16.8 3 15.2 3 13.7 3 12.6 3 11.7 3 12.9 3 11.8 3 8.8 3 6 3 5.3 3 5.5 3 5.6 3 5.3 3 4.9 3 4.5 3 4.3 3 5.5 3 4.9 3 3.6 3 3.7 3 4.1 3 3.3 3 2.9 3 1.7 3 1.3 3 1.8 3 2 3 1 3 .9 3 1.1 3 1.6 3 2.4 3 0 3-.9 3 .5 3 1.8 3 1.5 3 .3 3-.3 3 1.4 3 .8 3 .4 3 .2 3 .2 3 2.2 3 .8 3 .6 3 1.2 3 .9 3 1.1 3 .6 3 2.4 3 2 3 0 3-.6 3-.2 3 1.3 3 1.6 3 .6 3 .1 3 .5 3 1.9 3 .8 3 0 3 0 3 .3 3 .7 3 .3 3 .7 3-.1 3 0 3 .5 3 .7 3 1.5 3 1.4 3 .5 3 .1 3 0 3 .4 3-.5 3-.4 3 .3 3 .7M214 1623.0l3-.7 3-.2 3-.3 3-.1 3-.6 3-.4 3 .9 3 0 3-1.3 3-2.6 3-4 3-2.1 3 4.8 3 3 3-.1 3-.3 3 .7 3 .7 3 .9 3 .6 3-1 3-.5 3 .2 3 .3 3-.4 3-.3 3 .6 3 1 3 .3 3-.4 3-.3 3-.1 3-.4 3-.3 3-.2 3 .3 3 .4 3 0 3-.6 3 .1 3 .3 3 0 3-.1 3-1 3-1.9 3-1.1 3 .1 3 .2 3-.7 3-.3 3-.6 3-.3 3-.5 3 .1 3 .2 3-1.1 3-1.5 3-1.9 3-.7 3-.5 3-.4 3-.3 3-.7 3-1 3-.5 3-.2 3-1.8 3-2.2 3 0 3-.7 3-1.5 3-1.7 3-1.7 3-.5 3-1.1 3-.7 3 .5 3-.6 3-1.3 3-1 3-.9 3-.3 3-.7 3-1.2 3-.1 3-.7 3-.3 3 .1 3-1.2 3-.9 3-.6 3-.5 3-.8 3-.9 3-.2 3 .3 3-.4 3-.9 3-1.1 3 .1 3 1.4 3 .5 3-.6 3-.6 3-.6 3-.9 3-1.1 3-1.4 3-.4 3 0 3-1.4 3-.7 3-.2 3-1.4 3-1.6 3-1.9 3-1.6 3-1.7 3-1.2 3-1 3-1.6 3-2.6 3-2.4 3-2.2 3-2 3-1.5 3-1.8 3-2.7 3-1.7 3-1 3-1.6 3-2.1 3-2.1 3-2 3-2.2 3-2.1 3-2.2 3-2.2 3-1.3 3-1.6 3-1.9 3-2.2 3-2.7 3-3.2 3-2.1 3-1.5 3-2.1 3-3.2 3-2.9 3-1.1 3-1.8 3-2.7 3-2.3 3-1.7 3-2.5 3-2.2 3-1.7 3-2.3 3-2.5 3-2.7 3-2.1 3-2.2 3-2 3-2 3-3.2 3-3.3 3-1.8 3-2.3 3-2.4 3-1.8 3-2 3-2.8 3-2 3-2.8 3-3.2 3-3.3 3-2.6 3-1.6 3-3.2 3-4.4 3-3.5 3-3.2 3-2.9 3-3.5 3-3.9 3-4.7 3-4.6 3-4.1 3-4.7 3-4.7 3-3.8 3-4 3-5.2 3-4.7 3-4 3-4.3 3-4 3-4 3-4.5 3-3.9 3-2.9 3-2.6 3-3.2 3-3 3-2.2 3-2.5 3-2.1 3-1.3 3-1 3-1.3 3-.5 3-.8 3-1 3-.5 3 .6 3 1 3 .1 3-.6 3-.3 3 1.7 3 2 3 .9 3 1 3 .3 3 .9 3 1 3 1 3 .7 3 2 3 3.7 3 1.8 3 1.8 3 1.9 3 1.7 3 2.7 3 1.2 3 1 3 3.2 3 3.4 3 3.3 3 2.8 3 2.7 3 3 3 2.3 3 1.5 3 1.4 3 1.8 3 1.9 3 1.3 3 1.5 3 1.9 3 2.6 3 2.9 3 2.3 3 1.5 3 1.8 3 1.9 3 1.5 3 1.5 3 1.9 3 2.6 3 2.1 3 1.3 3 1.8 3 2.3 3 1.7 3 .9 3 .3 3 1.2 3 2 3 2 3 1.4 3 1.2 3 1.6 3 1.5 3 .8 3 .2 3 .1 3 .3 3 1.2 3 .2 3-.4 3-1 3-.6 3 1.2 3 1.1 3-.5 3-.8 3 .1 3-.9 3-1 3-.7 3-1.2 3-1.1 3-1.5 3-1.7 3-1.2 3-1.6 3-1.8 3-1.9 3-1.7 3-3.2 3-4.1 3-2.8 3-3.2 3-4.4 3-3.5 3-2.8 3-4.2 3-6.3 3-6.8 3-6 3-4.4 3-4.8 3-6.8 3-8.4 3-8.1 3-6.8 3-6.8 3-7.6 3-7.5 3-7.9 3-9.2 3-9.1 3-8.1 3-7.4 3-6.5 3-5.3 3-5.3 3-5.2 3-4.5 3-5.7 3-4.6 3-1.9 3-1.4 3-1 3-.2 3 1.5 3 2.2 3 2 3 2.6 3 3.5 3 4.9 3 6.8 3 7.6 3 8 3 9.6 3 11.9 3 13.2 3 14 3 15.6 3 15 3 15.1 3 15.8 3 15.4 3 15.7 3 15.9 3 15.2 3 15.3 3 14.7 3 13.9 3 12 3 10.8 3 8.3 3 7.4 3 8 3 7 3 5.1 3 5.5 3 5.2 3 4.2 3 5 3 5.5 3 5 3 3.4 3 4.1 3 3.7 3 3.4 3 3.9 3 2.9 3 2.4 3 2.5 3 .8 3 .8 3 1.2 3 1.7 3 1.3 3 .1 3 .7 3 1.6 3 1.4 3 1 3 1.4 3 .3 3 .1 3 .7 3 1.1 3 1.1 3 1.1 3 .9 3 .6 3-.1 3 .4 3 1.2 3 .2 3 1.3 3 2.2 3 .8 3-.8 3 .1 3 .6 3 1.1 3 .8 3 0 3 1.6 3 1.6 3 .3 3 .3 3 1.7 3 1.1 3 .5 3-.6 3-.2 3 .6 3 .2 3 .7 3 1.2 3 1.1 3 .5 3-.1 3 .2 3 .2 3 .4 3 .7 3 .4 3 .8 3 1.1 3 1.2 3 .4 3-.6" fill="none" stroke-linejoin="round"/></g>
<use href="#gl" mask="url(#mband)" stroke="#404040" stroke-width="1.75"/>
<path d="M214 2607.6l2-1.8 2-1.9 2-.5 2 .7 2 .4 2-1.2 2 .3 2 .3 2 .1 2 0 2-1.5 2-1.6 2-5.3 2-10.1 2-5 2 4.1 2 5.5 2 3.1 2 2.5 2 2.4 2 2 2 1.9 2 1.6 2 3.4 2 3.3 2 1.1 2-.7 2-1.3 2-.2 2 2.2 2 2.9 2 1.5 2-1 2-2.2 2-1.4 2-.8 2 .2 2 2.3 2 2.2 2-1.8 2-1.3 2 .3 2 .1 2-.2 2-.7 2-1 2-1.2 2-.8 2 .7 2 .4 2-.9 2-.8 2-.2 2 1.2 2 2 2 .5 2 .2 2 .1 2-1 2 .3 2 1 2 .7 2 1.4 2 1.1 2-.4 2-1.2 2-1.4 2-.4 2 .5 2 .2 2-.7 2-.7 2-.4 2-.4 2-.1 2 .7 2-.6 2-1.1 2 1.4 2 2 2 .7 2-.9 2 .3 2 1.5 2-.4 2-1.5 2-1 2-1.9 2-1.7 2-1 2-.8 2 .1 2 .4 2-1.6 2-.9 2-.8 2-3.8 2-3.1 2 .5 2-1.6 2-1.8 2 .4 2 0 2-.4 2 .4 2 .6 2-.8 2-.6 2 1.1 2-.1 2-.6 2-1.7 2-3.1 2-2.5 2-.8 2-1 2-.6 2-.3 2-.5 2 0 2 .2 2-.2 2-1.1 2-1.4 2-1.4 2 .3 2 .6 2-1.4 2-.9 2-.4 2-.1 2-.5 2-1.3 2-1.1 2-1.4 2-.3 2 .2 2 .6 2 .7 2-.8 2-1.2 2-1.8 2-1.2 2 .8 2 .5 2-.5 2 .3 2 .4 2-1.8 2-3.3 2-2.4 2-.2 2-.5 2-1 2 .2 2 1.2 2 .5 2-.5 2-1 2-.6 2-.1 2-2.1 2-2.8 2-1.3 2 .7 2 .4 2-3.2 2-1.9 2-.7 2-.4 2-.4 2-.5 2-1.6 2-1.6 2-.3 2-2.2 2-2.4 2-1.7 2 .1 2-.1 2-2.7 2-2.3 2 0 2 0 2-2.2 2-3 2-1.3 2 1 2 .4 2-1.6 2-2.8 2-1.8 2-.4 2-1.6 2-1.5 2-.7 2-1.3 2-1.2 2-.7 2-1.3 2-2.6 2-1.7 2-.3 2-.2 2-1.4 2-2.7 2-1.8 2-1.5 2-1.8 2-1.6 2-.7 2 .6 2-.2 2-2.4 2-3 2-.2 2-.4 2-2.6 2-1.9 2-.9 2-1 2-2.8 2-2.7 2-.3 2 1.2 2-1.3 2-1.9 2-.7 2-1.4 2-2.4 2-1.4 2-.7 2-1.4 2-1.3 2-.4 2-.3 2-1.6 2-2.3 2-2.5 2-1.9 2-1.1 2 0 2-.9 2-2.2 2-2.3 2-2.1 2-1 2-.8 2-1.9 2-1.1 2-2 2-3.8 2-3 2-1.1 2-1.9 2-3 2-2.2 2-1.9 2-3 2-2.6 2-2 2-1.9 2-2.2 2-2.2 2-3.4 2-4.2 2-1.5 2-1.5 2-4.2 2-4 2-2.1 2-2.6 2-2.9 2-2.4 2-3.5 2-3.4 2-2 2-3.2 2-4.2 2-3.4 2-1.6 2-2.3 2-3.5 2-2 2-1.4 2-4.1 2-4.4 2-3.5 2-1.9 2-1.7 2-3 2-4.6 2-4.4 2-1.5 2-1 2-1.8 2-.8 2-1.7 2-1.8 2-2.4 2-2.2 2-2 2-.9 2 1.2 2-1 2-3.8 2-2.4 2 .2 2 .4 2-.6 2-1.2 2-.3 2 1.3 2 1.2 2 1.2 2-.3 2-1.6 2-.5 2 1.1 2 .9 2-.2 2 .5 2 1.9 2 .3 2-.8 2-.7 2-.8 2 .8 2 1.7 2 1.7 2 1.9 2 1.5 2 1.9 2 1.7 2 2.6 2 4.2 2 2.5 2 1.4 2 2.8 2 3.6 2 3.1 2 .8 2-.4 2 2.1 2 4.3 2 3 2 2.3 2 2.1 2 .8 2 1.7 2 3.2 2 2.3 2 2.8 2 3.7 2 1.2 2 .8 2 3.1 2 1.7 2-.2 2 .4 2 1.1 2 2.5 2 3.7 2 3.9 2 2 2 .5 2-.2 2 .3 2 2.2 2 2.1 2 .6 2 1.4 2 1.9 2 1.8 2 .4 2 1.4 2 2.7 2 1.4 2 .9 2 .5 2-.1 2-.5 2-.6 2 2 2 2.2 2 .7 2 .8 2 2 2 .6 2-.6 2 .4 2 .5 2 .4 2 1.4 2-.8 2-2.2 2 .2 2 1.6 2 1.4 2 .6 2-.3 2 1.3 2 .7 2-1.1 2-1.8 2-.7 2 .9 2 1.7 2 .3 2-.3 2 1.1 2 2.1 2 .8 2-.2 2 1.5 2 .8 2-1.9 2-1.5 2 1.2 2 1.2 2 0 2 .6 2 .5 2-1.2 2-2.3 2-.7 2 1.1 2 1.6 2 .6 2-.7 2-1.3 2-2.1 2-.6 2 .3 2 .5 2-1 2-1.2 2 1.4 2-.2 2-2.2 2-1.4 2-.7 2-2.3 2-1.8 2-.5 2-1.1 2-2.3 2-2 2-1.3 2-1.7 2-.8 2-.7 2-2.2 2-2.8 2-2 2-2.8 2-2.8 2-2.7 2-2.5 2-.7 2-1.4 2-3.2 2-3.7 2-4.4 2-4.1 2-3.2 2-4 2-3.7 2-3.5 2-4.1 2-4.1 2-4.7 2-5.3 2-5.8 2-5.9 2-5.5 2-5.1 2-5.3 2-4.6 2-4.7 2-5 2-5 2-5.4 2-4 2-3.5 2-5 2-4.3 2-3.9 2-4.9 2-4.2 2-3.8 2-3.7 2-3.9 2-3.6 2-3.6 2-4 2-2.8 2-1.3 2-1.4 2-1.8 2-1.4 2-.8 2-.6 2 .2 2 1.4 2 .7 2 .7 2 1.8 2 1.6 2 1.8 2 2.4 2 4.8 2 6.5 2 7.7 2 5.8 2 5.3 2 6.5 2 6.4 2 8.1 2 10.4 2 9.5 2 8.8 2 9.9 2 9.2 2 8.5 2 8.8 2 9.3 2 11.5 2 12 2 11.3 2 12 2 12.5 2 12.1 2 11.6 2 10.7 2 11.4 2 10.9 2 8.9 2 8.1 2 8.4 2 7.6 2 6.1 2 6.6 2 5 2 3.5 2 3.1 2 3.2 2 3.3 2 3.7 2 4.2 2 2.8 2 2.2 2 3 2 1.9 2 1.9 2 2.9 2 3.6 2 2.1 2 .3 2 1.6 2 2.9 2 2.1 2 1.5 2 1.6 2 1.4 2 2.4 2 2.8 2-.1 2-.1 2 1.7 2 2.2 2 2.4 2 .4 2-.6 2 1 2 2.4 2 1.9 2 .7 2 1.4 2 2.5 2 .8 2 .2 2 0 2-1.5 2-.7 2 2.4 2 1.9 2-.3 2-.3 2 .5 2 1.8 2 1.9 2 .2 2 .2 2 .2 2-.5 2 .7 2 1.3 2-.8 2-1 2 .1 2 .6 2-.7 2 .6 2 .5 2 .6 2 1.6 2 1.3 2 .8 2-.1 2-.6 2-1 2 .4 2 1.9 2 2 2-.4 2-.5 2 .2 2-.4 2 .2 2 .7 2-.4 2 .2 2 1 2 .2 2 .5 2 .6 2 .2 2 .7 2 .4 2-2 2-1.6 2 1.1 2 1.8 2 2.1 2 1 2 .6 2 1.2 2 1.1 2-.6 2-1.4 2-1 2-.2 2-.3 2-.4 2 .3 2 .7 2-.5 2 .4 2 1.5 2-.2 2 0 2 .1 2 .5 2-.1 2-.4 2 .7 2 0 2-.2 2 .8" stroke="#000000" stroke-width="5.4" fill="none" stroke-linejoin="round"/>
<path d="M214 2333.3l2 4 2 4.2 2 2.2 2 2 2 1.6 2-1.3 2-.6 2 .9 2 1.3 2-.1 2-1 2 .6 2-.5 2-3.3 2-2.8 2-.1 2-1.8 2-4.2 2-3.1 2-1.4 2-2.5 2-2.9 2-2.5 2-.6 2 3 2 3.3 2 3.7 2 2.5 2 1.4 2 1.8 2 2.3 2 4 2 4.4 2 2.4 2-2 2-5.5 2-3.5 2 .2 2 1.3 2 1.9 2 2.7 2-.1 2-1.3 2-.7 2 0 2 .9 2-1 2-2 2-.3 2 .8 2 .6 2 .9 2 0 2-1.6 2-.5 2 .7 2-.6 2 .3 2 2 2 2.4 2 1.5 2 1.9 2 .2 2-3.6 2-4.1 2-1.6 2 2 2 1.7 2 1 2 1.3 2-.4 2-2.3 2-2 2-2.7 2-2.6 2-3 2-2.7 2-.7 2 2.1 2 3 2 1.3 2 1.7 2 1.5 2 .1 2-2.3 2-3.7 2-4 2-3.4 2-1.6 2 0 2 1.3 2-.1 2-1.6 2-2.8 2-3.3 2-5 2-5.7 2-1.4 2-.4 2-1.6 2-1.6 2 .1 2 .2 2 0 2 1.6 2 2.7 2-1 2-3.4 2-2.6 2-.7 2 .8 2-.1 2-1 2 .2 2-.3 2-1.7 2 .7 2 1.9 2 1.8 2 3.1 2 3.7 2 1.4 2-.4 2 .6 2 .3 2 1.6 2 1.8 2-.5 2-1 2-2.3 2-3.1 2-2.7 2-.9 2 .2 2 .1 2 .5 2 .3 2-.7 2-.5 2-.7 2-5.6 2-8.3 2-4.1 2-1.1 2-3.9 2-3.7 2-1.8 2 1.3 2 7.6 2 9.2 2 6.9 2 2.5 2 .5 2 .5 2-1.4 2-1.8 2-1.6 2 .6 2 2.2 2 .2 2-1.3 2-2.1 2-2.5 2-2.4 2-2.1 2-2.1 2 .2 2 .1 2-1.5 2-2 2-1.6 2-1.6 2-2.4 2-2.8 2-2.2 2 0 2-1.8 2-3.2 2-1.3 2-2.2 2-2.3 2-1 2-.2 2 .5 2 .1 2-.9 2-1.3 2-.1 2-2 2-2.7 2-1.1 2-1 2 .8 2 .5 2-.2 2-1.1 2-2.5 2-3.5 2-2.4 2 .1 2-.5 2-1.2 2-1.6 2-2.6 2-1.1 2-2.6 2-2.9 2 0 2-.8 2-2.5 2-1.9 2-.8 2 .4 2-.8 2-1.5 2 .2 2 .7 2-.8 2-1.8 2-1.6 2-1.5 2-1.3 2-.1 2-1 2-2.9 2-2.6 2-2 2-.4 2 2 2 .1 2-3.1 2-3.9 2-2.5 2-.8 2-1.3 2-.5 2 1.4 2-1.7 2-3.4 2-2.6 2-4.1 2-1.8 2 1.5 2-1 2-2.7 2-2 2-2.7 2-4.2 2-2.2 2-1.5 2-2.1 2-.2 2 .8 2-1.2 2-3 2-3.7 2-2.9 2-3.5 2-2.8 2-1.7 2-1.8 2-2.3 2-2.8 2-1.5 2-3 2-4.2 2-2.9 2-2.5 2-4.1 2-4.7 2-3.6 2-3 2-3 2-3.3 2-1.7 2-2.8 2-4.7 2-3.5 2-3.2 2-3 2-3.7 2-3 2-2.3 2-1.9 2-.5 2-1.6 2-4.7 2-4.8 2-3.3 2-3 2-.6 2 .5 2-1.8 2-2 2-2.6 2-3.8 2-3.2 2-.9 2-.8 2-1.1 2-1.2 2-2.4 2-1.5 2 0 2 .5 2-.3 2-1.8 2-2.2 2 .1 2 1.6 2 .2 2 .3 2 1.8 2-.2 2-1.1 2 0 2 .9 2 1 2-.6 2 .7 2 1.2 2-.1 2-.9 2 .4 2 2.6 2 2.2 2-1 2-1.1 2-.1 2 1.1 2 1.8 2 2.8 2 3 2-1.2 2-3.6 2 .7 2 3.6 2 2.5 2 2.3 2 2.5 2 4.6 2 5.4 2 1.4 2-1.8 2 .1 2 4.7 2 3.8 2 1.2 2 .5 2 1.4 2 3.7 2 4 2 3.6 2 1.4 2-.4 2 1.4 2 3.2 2 1.2 2 1.2 2 2.6 2 2.2 2 .7 2 .8 2 0 2-.5 2 1.4 2 1.9 2 2.1 2 1.2 2 .4 2 .2 2 1 2 1 2 2.1 2 1 2 1.1 2 1.5 2 1.2 2 1.4 2-.6 2 .3 2 .2 2 1.3 2 2.1 2 .1 2 .4 2 .5 2 1.4 2 2.1 2 1.8 2 1 2 .6 2 1 2 1.7 2 1.1 2 .9 2 1.4 2 0 2-1.3 2 .2 2 2.6 2 .8 2-1.5 2-.6 2 .2 2 .8 2 .1 2 .8 2 2.1 2 .3 2-1.5 2-1.3 2 1.4 2 3.8 2 1.3 2-2 2-1.1 2 .4 2 1.1 2 .1 2-1 2-.4 2-.1 2 1.1 2 1.3 2-.8 2-1.5 2 .2 2 1.1 2-.8 2-2.4 2 .1 2 .6 2 .8 2 1 2-.1 2-1.7 2 0 2 .6 2-1.9 2-2.2 2-.1 2 1.8 2-1.9 2-5.6 2-3.7 2-2.5 2-2.9 2-3.1 2-2.1 2-1.7 2-.9 2-1.5 2-4.6 2-3.9 2-1.4 2-1.9 2-3.2 2-4.2 2-4.9 2-4.4 2-8.3 2-9.6 2-4.5 2-2.9 2-1 2 2.2 2 2.5 2 1.6 2 .6 2-2.6 2-4.1 2-2.8 2-2.1 2-4.5 2-6.3 2-4.2 2-4.3 2-5.2 2-5.2 2-5.8 2-5.6 2-3.8 2-2.6 2-5.9 2-8.3 2-3.4 2-2 2-4.3 2-4.7 2-5.3 2-5.4 2-4.9 2-4.4 2-4.8 2-3.9 2-3 2-2.3 2-.9 2-1.6 2-.7 2-.3 2-.1 2-.5 2-1 2 1 2 .9 2 0 2 0 2 .7 2 1.5 2 3.7 2 6.4 2 5.6 2 2.5 2 5.1 2 7.8 2 8.9 2 8.6 2 10.5 2 11.3 2 10.3 2 10.3 2 12.5 2 12.7 2 12.1 2 11.6 2 9.8 2 9.9 2 10.3 2 12.8 2 10.8 2 8.9 2 7.1 2 6.1 2 6.3 2 8.3 2 8.4 2 5.5 2 2.7 2 3.5 2 7.3 2 8 2 5.4 2 4.3 2 5 2 4.9 2 6.1 2 7.5 2 6.2 2 4.1 2 2.3 2 2.6 2 4.5 2 5.4 2 4 2 3.2 2 2.2 2 1 2 3.7 2 4.1 2 3.2 2 3.2 2 2.7 2 .4 2-1.8 2 .8 2 2.3 2 1.5 2 2 2 2 2 2.1 2 .6 2-1.1 2 .8 2 3 2 1.7 2-.5 2 1.3 2 3.2 2 2.5 2-1.3 2-.3 2 2.3 2 1.7 2-1 2-.9 2 0 2 .4 2 .5 2-1.1 2-.2 2 1.7 2 2.3 2 1.6 2 .7 2 1 2-1.6 2-1 2 2.4 2 .9 2-1.3 2-.3 2 1 2 .3 2 1.1 2 0 2-.9 2-1.5 2 .3 2 3.4 2 2.9 2 .9 2-.4 2-1 2 .1 2 .4 2 .7 2 .7 2-.3 2 1.1 2 2 2-.4 2-1.7 2 .2 2 .6 2 1.2 2 .3 2 1.1 2 0 2-.1 2 .5 2 .2 2 .8 2 1.9 2 .7 2-.4 2 .8 2 .6 2-1.3 2 .3 2 1.4 2-.7 2-.3 2-.3 2-.2 2-.8 2-1 2 .9 2 1.7 2 1.6 2-.8 2-1.7 2 1.2 2 1.6 2 2.2 2 2.9 2 1.1 2-1.1 2-.3" stroke="#ff0000" stroke-width="6" fill="none" stroke-linejoin="round"/>
<path d="M214 2135.7l2 1.4 2 2 2-.8 2-1.3 2 .7 2 1.7 2 .9 2-1 2-1.7 2-2.1 2-2.1 2-1.8 2-2 2-1.4 2 2.7 2 4.1 2 1.2 2 .9 2 1.8 2 2.2 2 .3 2-.3 2-.1 2-.2 2 .4 2 .4 2-.7 2-.6 2 .8 2 0 2-1.3 2-.2 2 .8 2 .7 2 .6 2-.2 2-.6 2-1 2-.3 2 1.4 2 1 2 .1 2 .2 2-.1 2-.7 2 1 2 2.1 2 .5 2-1 2-1.2 2 .1 2 1.1 2-.1 2-.9 2 0 2 0 2-.1 2 1 2 .6 2-.3 2-1.4 2-.9 2-.2 2 .4 2 1.1 2 .1 2-1.5 2-1.8 2-.2 2 .4 2-1.4 2-.7 2 1.1 2 0 2-.5 2 .4 2-1.4 2-3.3 2-1.4 2 1.6 2 1 2-.6 2-1 2-1.2 2-1.2 2-.2 2 .8 2-.2 2-1.6 2-.2 2 .7 2-.4 2-2.3 2-3.2 2-.9 2 .1 2-.7 2 0 2 1.7 2 1.4 2-1.3 2-2.6 2-1.1 2-.2 2 .4 2 .7 2-1.4 2-1.7 2-.4 2-.6 2-1.8 2-1.8 2-1.2 2-.7 2-.2 2-.8 2-1.2 2 .3 2 .9 2-.9 2-.5 2 .2 2 .1 2-.4 2-.6 2-1.4 2-1.4 2-1 2-.2 2-.1 2-.1 2 0 2 .3 2-.7 2-1.8 2-1.6 2-.2 2-.5 2-.3 2 0 2 0 2 .2 2-.5 2-.3 2-.2 2-2.2 2-2.5 2-.5 2 .2 2 1.1 2 .7 2-1 2-1.6 2-.8 2 .5 2-.1 2 1 2 .6 2-.2 2-1.7 2-2.4 2-2 2-.7 2-1.3 2-1.1 2 .6 2-.1 2-2.7 2-2.8 2-1.6 2-.5 2 .5 2 .1 2-.3 2-1.6 2-1.8 2-2.2 2-3 2-1.7 2-.1 2 .1 2-1.3 2-1.2 2-1.7 2-2.9 2-2.5 2-.9 2-.2 2-.8 2-1.5 2-1.2 2-1.3 2-1.4 2-1.3 2-1 2-1.1 2-1.4 2-1.9 2-2 2-1.4 2-.7 2-.5 2-1.1 2-1 2-1.8 2-2.5 2-1.2 2 .3 2-1 2-1.1 2-.9 2-1.9 2-2 2-1.5 2-1.2 2-1.9 2-2.3 2-2.4 2-2 2-1.4 2-1 2-.7 2-1.7 2-1.7 2-1.6 2-1.8 2-1.8 2-1.4 2-1.7 2-2.8 2-2.4 2-1.3 2-1.1 2-1.7 2-2.4 2-2.5 2-1.9 2-1 2-1.8 2-2.4 2-2.3 2-2.4 2-2.8 2-3.1 2-.2 2 .7 2-1.6 2-2.8 2-2 2-2.1 2-3.3 2-2.9 2-.8 2-.2 2-1.8 2-2.2 2-1.6 2-1.5 2-1.1 2-2.6 2-3.3 2-3.5 2-3.9 2-3.6 2-3.2 2-1.6 2-.8 2-2.1 2-3.4 2-3.8 2-4.4 2-3.8 2-1.9 2-1.8 2-2.8 2-3.9 2-4.2 2-3.2 2-2.3 2-2.6 2-3.8 2-2.8 2-2.6 2-3.7 2-2.9 2-3.7 2-3.3 2-1.7 2-1.9 2-2.7 2-2.8 2-1.7 2-1.8 2-3.5 2-2.9 2-1.3 2-.5 2-.4 2-2.1 2-2.7 2-3 2-2.9 2-.3 2 1.2 2-1.2 2-2.7 2-2.8 2-1.1 2 1.6 2 2 2 .2 2-.6 2 0 2 .1 2 .5 2 .5 2 1.2 2 1.8 2 2 2 1.8 2 1.1 2-.5 2-.6 2 1.5 2 3.1 2 1.4 2 1.6 2 2.6 2 2.1 2 2.7 2 2.4 2 1.3 2 1.7 2 3.4 2 3.1 2 2.7 2 3.5 2 3.5 2 2 2 1.1 2 1.8 2 2.8 2 3.2 2 2.2 2 2.2 2 2.8 2 2.4 2 .8 2 .8 2 2.9 2 3.4 2 3.1 2 2.7 2 1.8 2 .9 2 .5 2 1.3 2 2.9 2 2.4 2 1.9 2 1.7 2 1.2 2 1.5 2 1.2 2 1.1 2 2.7 2 2.4 2 .9 2 .2 2 .7 2 1.5 2 2 2 1.7 2 2.2 2 1.5 2 1.9 2 2.2 2 .5 2 0 2 .9 2 2 2 3.4 2 1.8 2-.4 2-.3 2 .1 2-.5 2 .1 2 1.1 2 2.2 2 2.2 2 .4 2 .2 2 .6 2 .7 2 1.4 2 .1 2-1.5 2-1.3 2 .9 2 1 2 0 2 .1 2 .9 2 .9 2 .6 2-.5 2-1.1 2-.5 2 .8 2 1.5 2 2.5 2 .7 2-.9 2-.9 2-.2 2 .6 2 .4 2-.7 2-.9 2 0 2-.9 2-1.3 2 .7 2 .1 2-1.2 2 .1 2-.1 2-1.1 2-.1 2-.2 2-1.5 2-2.2 2-1.1 2 .2 2-1 2-.4 2-.3 2-1.7 2-1.4 2-.4 2-.5 2-1.2 2-2.1 2-2.5 2-1.8 2-.9 2-1.5 2-1 2-.7 2-2 2-2.5 2-2.2 2-3.2 2-2.7 2-1.2 2-.5 2-1.3 2-1.6 2-1.9 2-2.3 2-2.8 2-4.7 2-4.5 2-2.5 2-2.5 2-2.9 2-4.5 2-4.5 2-4.3 2-4.2 2-3.4 2-3.9 2-5.1 2-6.2 2-4.4 2-5 2-7.3 2-6.8 2-6.9 2-6.2 2-4.9 2-5.2 2-5 2-6.3 2-7.4 2-6.2 2-4.5 2-3.8 2-3.3 2-4.3 2-4.3 2-3.7 2-4.9 2-4.2 2-2.4 2-1.5 2-2.3 2-1.9 2-1.3 2-1.8 2-.3 2-.3 2-.7 2 .3 2 2.2 2 3.4 2 3.6 2 3.5 2 5 2 6.3 2 5.5 2 4.8 2 4.8 2 6.8 2 9 2 10.4 2 10.3 2 7.8 2 8.5 2 9.7 2 7.5 2 6.6 2 9.6 2 9.9 2 8.8 2 9.9 2 10.7 2 9.2 2 8.7 2 9 2 9.5 2 9.6 2 9 2 8.2 2 8.4 2 7.2 2 7 2 8.6 2 8.6 2 7.3 2 6.5 2 6.5 2 5.6 2 6.1 2 5.9 2 4.8 2 4.2 2 4.9 2 5.7 2 4.2 2 3.8 2 4.3 2 2.3 2 1.3 2 3.3 2 4 2 1.4 2 .3 2 2.1 2 3.9 2 3.2 2 1.1 2 1.1 2 1.4 2 0 2-.2 2 2.1 2 3.8 2 2.4 2 .2 2 .2 2 1 2 .8 2 .2 2 .9 2 1.5 2 .9 2 .1 2 1.5 2 1.7 2 .5 2 .6 2 .4 2-.7 2-.1 2 2.2 2 1.2 2 .3 2 0 2 .3 2 1.9 2 1.8 2 .2 2-.2 2 0 2-.4 2 1.1 2 2.9 2 1.3 2-.9 2-.3 2 .8 2 .6 2 0 2 1 2 1.2 2-1 2-.8 2 1 2 1 2 .1 2-.1 2 .5 2 1.7 2 .8 2 .9 2 1.3 2 .3 2 0 2 .5 2 .2 2-1.4 2-1.5 2 1.3 2 2 2 2 2 2 2-.7 2-1.8 2 .3 2 .7 2-1 2-1.1 2-.4 2 .8 2 1.5 2 1 2 1 2 .1 2-.8 2-.9 2 .1 2 .7 2 .2 2 0 2-.3 2 .1 2 .2 2 .3 2 .4 2 .9 2 1.5 2 .6 2-1 2-1.9 2-.3 2 1.5 2 .7 2-.2" stroke="#0000ff" stroke-width="6" fill="none" stroke-linejoin="round"/>
<path d="M214 1784.8l2 .9 2 .9 2-.3 2-1.7 2-1 2-.1 2 .1 2 .4 2 1.2 2 .8 2-1.2 2-2.2 2-1.5 2-1 2-1.9 2-1.8 2 .1 2 .6 2-2.3 2-3.5 2-1.2 2-.4 2-1.1 2-.9 2 .4 2 1 2 2.2 2 2.8 2 1.9 2-.4 2 .7 2 2.1 2 1.4 2 1.2 2 .2 2-.3 2-.1 2 1.2 2 1.8 2 2.4 2 .9 2-1.7 2-1.7 2-.4 2-.1 2 .1 2 1.7 2 .3 2-1 2-.3 2-.4 2 .5 2 1.1 2-.9 2 0 2 1.3 2-.2 2-1.3 2-1.2 2-.6 2 .1 2 .2 2 .2 2-1.1 2-.7 2 1.3 2-.7 2-1.1 2 1.3 2 .8 2 .2 2 1 2 .6 2-.8 2 0 2 1.1 2-.8 2-1.7 2-1.1 2-1 2 .2 2 1.7 2 .3 2-.5 2 .1 2-.8 2-.8 2 .5 2 .5 2-1.6 2-2.9 2-2.7 2-1.7 2-1.4 2-1.9 2-2.5 2-3.1 2-5.4 2-8.4 2-7.9 2-5.2 2-2.1 2-.3 2 1.9 2 4.5 2 1.9 2-.6 2-.6 2-1.2 2-1.2 2-.9 2-1.8 2-1.5 2-.8 2 .8 2 2.8 2 2.1 2 1.7 2 1.4 2 1.3 2 1 2-.5 2 .1 2 3 2 2.3 2-1.5 2-1 2 .7 2-.8 2-.8 2 .3 2 .8 2 .1 2 .4 2 1.6 2 .9 2-1.4 2-2 2-2.2 2-1.7 2-.7 2-.8 2-1.8 2-2.8 2-3.3 2-3 2-2.2 2 0 2 2.2 2 4.5 2 5.2 2 4.7 2 3.6 2-.3 2-2.8 2 .3 2 2.1 2 .6 2-.9 2 .5 2 2.2 2 .9 2-.3 2-.5 2-1.5 2-.5 2-.8 2-1 2 1 2 .8 2-1.2 2-2.3 2-1.8 2-2.4 2-1.4 2-1.4 2-2.8 2-1.8 2-2.7 2-2.4 2-.9 2 .1 2-1 2-1 2-1 2-3.1 2-2.1 2-1.6 2-2.9 2-1.9 2 .4 2 .8 2-.5 2-1.3 2-2.7 2-3 2-2.3 2 .3 2 .6 2-2.6 2-1.2 2-.4 2-2.8 2-2.1 2 0 2-.4 2-1.3 2-1.4 2-1.5 2-.6 2-1.5 2-2.3 2-2 2-1.1 2-1.2 2-2.9 2-2.9 2-.7 2-.4 2-2.2 2-3.5 2-2.3 2-.4 2-.1 2-.2 2-1.2 2-2.4 2-1.9 2-.4 2 .9 2-.1 2-1.2 2-.9 2-1.5 2-2.4 2-1.8 2-.8 2-.4 2-.9 2-3 2-2.8 2 .5 2 .1 2-1.9 2-2 2-1 2-.6 2-2.2 2-3.4 2-2 2 .3 2-.4 2-3.8 2-4.9 2-4.3 2-1.3 2-1.2 2-3.5 2-2.9 2-2.1 2-3.9 2-3.4 2-1.6 2-.7 2-1.7 2-1.7 2-1.5 2-1.9 2-3.6 2-4.9 2-3.3 2-1.7 2-2 2-3.1 2-3.4 2-3.3 2-3.7 2-3.7 2-4.7 2-4.7 2-2 2-2.8 2-5.6 2-4.7 2-3 2-4.4 2-4.4 2-3.4 2-2.5 2-2.6 2-1.9 2-1.7 2-1.6 2-2.7 2-4.9 2-4.1 2-1.4 2-1.9 2-1.8 2-.9 2-.6 2-1.4 2-2.6 2-.8 2-.2 2-1.9 2-1.1 2-.9 2-1.4 2 1.1 2 1 2-.1 2-1.1 2-1.4 2 .5 2-.3 2-.6 2-.2 2-1.4 2-1.7 2-1 2-.3 2 0 2-.2 2 1.6 2 1.5 2 .6 2 .5 2 1.2 2 .1 2-.3 2 .9 2 1.3 2 1.2 2 1.8 2 1.3 2 .5 2 .2 2 2.2 2 3.3 2 1 2 .4 2 1.8 2 2.4 2 3 2 2.3 2 .8 2 1 2 1.5 2 1.4 2 3.7 2 3.1 2 .4 2 1.6 2 2.5 2 1.3 2 0 2-.1 2 .5 2 2.2 2 2.4 2 1.8 2 1.6 2 2.3 2 2.5 2 .7 2-.3 2 1.1 2 1.5 2 .9 2 .4 2 .8 2 .5 2-.1 2 .9 2 1.3 2 1.4 2 2 2 .6 2 .4 2 .2 2 1.4 2 1.7 2 .5 2 .2 2 1.7 2 1.2 2 .8 2 1.6 2 .5 2 1.2 2 2.6 2 1.5 2 1.2 2 1 2 .4 2 2.2 2 2.9 2 1.3 2 .4 2 .5 2 1.6 2 2.5 2 .7 2 .3 2 1.8 2 1.7 2 1.2 2 1.7 2 .7 2 .8 2 .6 2 1.1 2 2.2 2 2.2 2 2.1 2-.4 2-1.4 2 .7 2 1.8 2 2.2 2 2.8 2 2.2 2 .3 2 .2 2 .6 2-.8 2-.3 2 .1 2-.1 2 1.4 2 1.3 2-.7 2-1.7 2-1.1 2-1.2 2-1.7 2-1.1 2-.8 2-1.5 2-.8 2 .4 2 .4 2-1.3 2-1.5 2-1.2 2-2.7 2-3.4 2-1.8 2-.8 2-2.1 2-1.8 2-1.8 2-3.1 2-3.3 2-3.6 2-3.7 2-4.3 2-4.2 2-1.8 2-1.5 2-3.7 2-3.4 2-2.7 2-3.6 2-4.9 2-5 2-3 2-2.4 2-4.3 2-3.8 2-3.2 2-5.4 2-6.8 2-5.5 2-5.3 2-5.7 2-5.5 2-5.9 2-6.7 2-7 2-6.8 2-5.9 2-5.5 2-6.6 2-7.6 2-7.2 2-5 2-4.4 2-3.9 2-4 2-4.2 2-4.5 2-5 2-3.1 2-2.3 2-3.4 2-3.2 2-1.6 2-.9 2-1.4 2-.9 2-.3 2 .5 2-1 2-1.1 2 .5 2 1.2 2 2.3 2 1.6 2 1.6 2 2.3 2 2.2 2 2.9 2 2.6 2 3.6 2 6.1 2 4 2 1.8 2 4.9 2 7.9 2 8.2 2 8.4 2 9.3 2 8.6 2 7.3 2 7.2 2 8.4 2 8.2 2 7.4 2 7.9 2 10.1 2 12 2 11.3 2 10.7 2 11.8 2 13.9 2 14.4 2 12.1 2 11.3 2 11.1 2 10 2 10.7 2 11.5 2 10 2 7.8 2 7 2 7.9 2 6.6 2 4.7 2 4.7 2 4.4 2 3.7 2 3.1 2 3.1 2 3 2 2.3 2 2.8 2 4.2 2 2.7 2 1 2 2 2 3.2 2 2.1 2 1.9 2 3 2 3 2 .8 2 .7 2 .8 2 1.5 2 2 2 1.3 2 2 2 1.8 2-.1 2-1 2 1 2 2.8 2 .8 2 0 2 1.2 2 1.3 2-.3 2-.4 2 .4 2 .2 2 2.2 2 2.3 2-1.1 2-2 2-.2 2 1.2 2 1.7 2 2.7 2 2.4 2 .4 2 .1 2 1.4 2 .8 2-.6 2-.9 2-.1 2 .4 2 .6 2 .4 2 2.2 2 2.2 2 .8 2-.8 2-.9 2 .4 2 2.1 2 2 2-.1 2-1.3 2-.2 2 .6 2 1.6 2 2.5 2 2.1 2 1.7 2 .7 2 .7 2-.1 2-1.3 2 .5 2 2.2 2 1.1 2 .1 2-.3 2-1.3 2 1 2 2.1 2 .6 2-.5 2-1.1 2-1.5 2-1.8 2 .9 2 2 2 1.2 2 0 2-.1 2 .2 2 .2 2 .1 2 1.3 2-.1 2-1 2 .1 2-.9 2 .1 2 1.8 2 1.3 2 .4 2 0 2-.9 2 .5 2 1.2" stroke="#ff0000" stroke-width="6" fill="none" stroke-linejoin="round"/>
<path d="M214 1604.1l2 .7 2 1.5 2 .8 2-.3 2 0 2-.1 2-.4 2-.5 2-.4 2 1.1 2 .8 2-1.3 2-2.3 2-2.3 2-1.9 2-2.6 2-2.4 2-1.1 2 1.9 2 3.6 2 1.7 2 .8 2 1.2 2 1.2 2-.5 2-.3 2 .1 2 .4 2 .5 2 .4 2-.1 2-.8 2-.6 2-.2 2 .5 2 .7 2-.3 2-.5 2-.4 2 .5 2 .6 2-.1 2 .1 2 .9 2 .6 2-.6 2-1 2 .2 2 .8 2 .4 2-.8 2-.4 2 .2 2 .2 2 .2 2-.1 2-.5 2-.3 2-.3 2-.8 2-.6 2-.2 2-.4 2 .1 2 .5 2 .3 2-.6 2-1 2-.7 2-.6 2-.4 2-.1 2-.5 2-.1 2-.1 2 0 2-.7 2-1 2 0 2-.5 2-1 2-.2 2-.2 2-.4 2-.6 2 0 2 .3 2-.3 2-1.1 2-1.1 2-.3 2 .1 2-.3 2-.8 2-.7 2-.3 2-1.1 2-1.6 2-.6 2-.5 2-.8 2-.4 2-.3 2-.8 2-.9 2-.6 2-.6 2-.5 2-1.1 2-1.5 2-.4 2 .1 2-.3 2 0 2-.3 2-.9 2-1 2-1 2-.9 2-.6 2 0 2-.1 2-1 2-.9 2 .1 2 .5 2 0 2 0 2-.6 2-1 2-1.1 2-.9 2-.7 2 .3 2 1 2-.3 2-1.2 2-.9 2 0 2 .3 2-.1 2-.3 2 0 2-.6 2-.6 2 0 2-.3 2 0 2 .5 2 .4 2-.2 2-.7 2-.2 2 .4 2 .2 2-.3 2-.5 2-.6 2-.3 2-.8 2-1.7 2-1.5 2-.6 2-.1 2-.2 2-.2 2-.5 2-.2 2-1.1 2-1.8 2-1.3 2 .1 2-.3 2-1.6 2-.9 2-.2 2-.9 2-1.3 2-1.4 2-1.5 2-.7 2-.8 2-1.8 2-1.2 2-.7 2-.8 2-.5 2-.7 2-.9 2-1.4 2-1.8 2-1.1 2-1.1 2-1.5 2-1.2 2-.8 2-1.4 2-2 2-1.9 2-1.7 2-1.7 2-1 2-.4 2-1.2 2-1.7 2-1.3 2-.9 2-1.3 2-2.6 2-1.7 2-.8 2-1.7 2-1.7 2-1.5 2-1.2 2-1.3 2-2.1 2-1.9 2-1.2 2-1.2 2-.8 2-.8 2-1.6 2-2.4 2-2.7 2-1.6 2-.7 2-.5 2-1 2-2.3 2-2.4 2-1.7 2-1.9 2-1.6 2-1.5 2-1.7 2-1.1 2-1.3 2-1.9 2-1.9 2-.8 2-1.7 2-2.1 2-1.6 2-1.3 2-1.6 2-1.1 2-1.1 2-1.9 2-1.4 2-1 2-1.2 2-1.5 2-1.9 2-2 2-1.2 2-.7 2-1.4 2-1.3 2-1.3 2-1.8 2-1.9 2-1.6 2-1.9 2-1.8 2-1.7 2-1.9 2-2.3 2-3.3 2-2.5 2-1.7 2-1.9 2-2.3 2-1.7 2-1.8 2-2.6 2-3.1 2-3.1 2-2.9 2-3.2 2-2.9 2-1.6 2-1.3 2-3.4 2-3.9 2-2.7 2-2.5 2-3.6 2-3.7 2-3.8 2-3.2 2-1.7 2-2.3 2-3.3 2-3.1 2-3 2-3.3 2-3.4 2-2.8 2-1.9 2-1.7 2-1.5 2-2.4 2-2.7 2-1.8 2-1.6 2-1.6 2-1.1 2-1.3 2-1.6 2-1.3 2-1.2 2-1.2 2 .1 2 .2 2-1.3 2-2.2 2-.9 2-.1 2-.4 2-.6 2 .1 2 1.1 2 1 2 0 2-.1 2 .5 2 .6 2 .9 2 .3 2 .2 2 .4 2 .5 2 .1 2 .1 2 .4 2 1.4 2 .9 2 .5 2 1.6 2 1.4 2 .9 2 .8 2 .9 2 1 2 .9 2 1.3 2 1.6 2 1.8 2 2 2 .8 2 .9 2 1.9 2 1.4 2 .8 2 1.4 2 2.3 2 2 2 1.6 2 1.9 2 1.6 2 .8 2 1.6 2 2.2 2 1.7 2 1.5 2 1.4 2 .9 2 1.4 2 2.1 2 1.5 2 1.3 2 1.8 2 1.2 2 .6 2 1 2 1.6 2 1.9 2 1.9 2 1 2 .5 2 1.2 2 1.7 2 1.4 2 1.3 2 .9 2 .5 2 .4 2 1.3 2 1.9 2 1.9 2 1.1 2 .6 2 1.7 2 1.9 2 .9 2 .6 2 .4 2 .8 2 .9 2 1.4 2 1.4 2 1 2 1.3 2 1.1 2 .5 2 .3 2 .8 2 1.2 2 .9 2 .8 2 .8 2 .5 2 0 2 .8 2 1.1 2-.3 2 0 2 .7 2 0 2-.1 2 .5 2 .9 2 .8 2 .1 2-.5 2 0 2 .2 2-.4 2-.8 2-.7 2 0 2 .3 2-.4 2-1 2-.2 2-.2 2-1.4 2-1.2 2-.3 2-.4 2-1.2 2-1.1 2-1.1 2-.5 2-.9 2-1.5 2-1.5 2-.9 2-1.5 2-2.3 2-2 2-1.4 2-1.4 2-1.6 2-1.9 2-1.7 2-2 2-2.5 2-2 2-2.7 2-3.7 2-2.5 2-1.5 2-1.9 2-3.3 2-4.1 2-3.6 2-3.5 2-4.3 2-4 2-4.2 2-4.9 2-4.8 2-6 2-6.8 2-4.9 2-4.2 2-5.8 2-6.2 2-5.4 2-5.3 2-5.4 2-6.2 2-6.1 2-4.9 2-4.3 2-5.1 2-4.5 2-3.6 2-4.6 2-5.1 2-4.1 2-3.4 2-2.9 2-2.5 2-2.6 2-3 2-3.3 2-2.6 2-1.1 2-1.2 2-1 2-.6 2-.6 2-.3 2 .8 2 1.7 2 1.6 2 1.8 2 1.7 2 1.5 2 2.3 2 3.3 2 3.4 2 3.3 2 3.3 2 4.8 2 6.4 2 7.7 2 8.5 2 8.8 2 8.8 2 9.2 2 10.3 2 11 2 10.6 2 10.7 2 10.5 2 9.7 2 9.9 2 11.5 2 11.6 2 9.9 2 9.8 2 10.5 2 11.1 2 10.2 2 8.9 2 8.3 2 8.3 2 7.4 2 6.8 2 7.9 2 6.8 2 5 2 5.9 2 5.2 2 4 2 3.7 2 3 2 4.3 2 4.9 2 4.1 2 3 2 2.8 2 3 2 2.8 2 3.6 2 4.1 2 3.6 2 3.1 2 2.7 2 2.4 2 2.2 2 2.7 2 3.1 2 2.5 2 2.5 2 2.7 2 1.8 2 1.2 2 .8 2-.3 2-.3 2 .5 2 1.8 2 2 2 .5 2 .5 2 .9 2 .7 2 .1 2 .1 2 .5 2 1.1 2 .9 2-.1 2-.5 2 .6 2 1 2 .3 2 .2 2 1.1 2 .5 2 0 2 0 2 .1 2 1.1 2 1.2 2 .2 2 .1 2 .5 2 .6 2 1 2 1.5 2 1.2 2-.1 2-.1 2-.2 2 .4 2 .8 2 0 2 .3 2 .7 2 .8 2 .3 2 .3 2 1.4 2 1 2 .6 2 .2 2 .1 2 .1 2 .2 2 .6 2 .5 2 .1 2 .7 2 .9 2 1 2-.1 2-.4 2 1.2 2 .5 2-.5 2 .4 2 .8 2 1 2 .5 2 .3 2 .6 2 .6 2 .7 2 0 2-.2 2 0 2 0 2 .1 2 .5 2 .8 2 .3 2-.5 2-.7 2 .5 2 1.5 2 .5 2 0 2 .3 2 .1" stroke="#0000ff" stroke-width="6" fill="none" stroke-linejoin="round"/>
</g>
<text transform="matrix(0.497 0 0 0.512 198.205 906.264)" font-size="100" fill="#000">3.0</text>
<text transform="matrix(0.497 0 0 0.512 2105.406 906.264)" font-size="100" fill="#000">3.0</text>
<text transform="matrix(0.497 0 0 0.512 198.205 778.084)" font-size="100" fill="#000">3.2</text>
<text transform="matrix(0.497 0 0 0.512 2105.406 778.084)" font-size="100" fill="#000">3.2</text>
<text transform="matrix(0.497 0 0 0.512 196.217 649.904)" font-size="100" fill="#000">3.4</text>
<text transform="matrix(0.497 0 0 0.512 2105.406 649.904)" font-size="100" fill="#000">3.4</text>
<text transform="matrix(0.497 0 0 0.512 198.205 521.724)" font-size="100" fill="#000">3.6</text>
<text transform="matrix(0.497 0 0 0.512 2105.406 521.724)" font-size="100" fill="#000">3.6</text>
<text transform="matrix(0.497 0 0 0.512 197.708 393.544)" font-size="100" fill="#000">3.8</text>
<text transform="matrix(0.497 0 0 0.512 2105.406 393.544)" font-size="100" fill="#000">3.8</text>
<text transform="matrix(0.497 0 0 0.512 198.205 265.364)" font-size="100" fill="#000">4.0</text>
<text transform="matrix(0.497 0 0 0.512 2104.006 265.364)" font-size="100" fill="#000">4.0</text>
<text transform="matrix(0.497 0 0 0.512 198.205 137.44)" font-size="100" fill="#000">4.2</text>
<text transform="matrix(0.497 0 0 0.512 2104.006 137.44)" font-size="100" fill="#000">4.2</text>
<text transform="matrix(0.497 0 0 0.512 413.991 1028.564)" font-size="100" fill="#000">3</text>
<text transform="matrix(0.497 0 0 0.512 1317.271 1028.564)" font-size="100" fill="#000">3</text>
<text transform="matrix(0.497 0 0 0.512 543.004 1028.564)" font-size="100" fill="#000">6</text>
<text transform="matrix(0.497 0 0 0.512 1464.164 1028.564)" font-size="100" fill="#000">6</text>
<text transform="matrix(0.497 0 0 0.512 672.514 1028.564)" font-size="100" fill="#000">9</text>
<text transform="matrix(0.497 0 0 0.512 1611.554 1028.564)" font-size="100" fill="#000">9</text>
<text transform="matrix(0.497 0 0 0.512 778.359 1028.82)" font-size="100" fill="#000">12</text>
<text transform="matrix(0.497 0 0 0.512 1735.28 1028.82)" font-size="100" fill="#000">12</text>
<text transform="matrix(0.497 0 0 0.512 907.621 1028.308)" font-size="100" fill="#000">15</text>
<text transform="matrix(0.497 0 0 0.512 1882.421 1028.308)" font-size="100" fill="#000">15</text>
<text transform="matrix(0.497 0 0 0.512 1037.131 1028.564)" font-size="100" fill="#000">18</text>
<text transform="matrix(0.497 0 0 0.512 2029.811 1028.564)" font-size="100" fill="#000">18</text>
<text transform="matrix(0.831 0 0 0.843 34.945 106.106)" font-size="100" fill="#000">(A)</text>
<text transform="matrix(0 -0.598 0.594 0 142.434 656.398)" font-size="100" fill="#000">Voltage (V)</text>
<text transform="matrix(0 -0.598 0.613 0 2278.432 685.598)" font-size="100" fill="#000">Voltage (V)</text>
<text transform="matrix(0.596 0 0 0.583 1066.404 1105.557)" font-size="100" fill="#000">Time (h)</text>
<text transform="matrix(0.324 0 0 0.345 287.106 2691.155)" font-size="100" fill="#000">1000</text>
<text transform="matrix(0.324 0 0 0.345 588.706 2691.155)" font-size="100" fill="#000">1200</text>
<text transform="matrix(0.324 0 0 0.345 890.306 2691.155)" font-size="100" fill="#000">1400</text>
<text transform="matrix(0.324 0 0 0.345 1191.906 2691.155)" font-size="100" fill="#000">1600</text>
<text transform="matrix(0.324 0 0 0.345 1493.506 2691.155)" font-size="100" fill="#000">1800</text>
<text transform="matrix(0.843 0 0 0.856 62.683 1250.516)" font-size="100" fill="#000">(B)</text>
<text transform="matrix(0.383 0 0 0.385 711.622 2760.913)" font-size="100" fill="#000">Raman Shift (cm</text>
<text transform="matrix(0.199 0 0 0.222 1012.505 2740.5)" font-size="100" fill="#000">-1</text>
<text transform="matrix(0.364 0 0 0.385 1034.7 2760.913)" font-size="100" fill="#000">)</text>
<text transform="matrix(0 -0.395 0.39 0 157.601 2238.163)" font-size="100" fill="#000">Normalized Intensity (a. u.)</text>
<text transform="matrix(0.544 0 0 0.527 1561.825 1628.741)" font-size="100" fill="#0000ff">end of discharge in 2</text>
<text transform="matrix(0.362 0 0 0.344 2105.266 1612.6)" font-size="100" fill="#0000ff">nd</text>
<text transform="matrix(0.553 0 0 0.527 2163.186 1628.741)" font-size="100" fill="#0000ff">cycle</text>
<text transform="matrix(0.543 0 0 0.527 1562.326 1806.341)" font-size="100" fill="#ff0000">end of charge in 2</text>
<text transform="matrix(0.38 0 0 0.344 2026.543 1790.2)" font-size="100" fill="#ff0000">nd</text>
<text transform="matrix(0.547 0 0 0.527 2085.611 1806.341)" font-size="100" fill="#ff0000">cycle</text>
<text transform="matrix(0.536 0 0 0.527 1562.756 2159.941)" font-size="100" fill="#0000ff">end of discharge in 1</text>
<text transform="matrix(0.386 0 0 0.386 2104.057 2144.714)" font-size="100" fill="#0000ff">st</text>
<text transform="matrix(0.546 0 0 0.527 2151.516 2159.941)" font-size="100" fill="#0000ff">cycle</text>
<text transform="matrix(0.535 0 0 0.527 1562.36 2363.441)" font-size="100" fill="#ff0000">end of charge in 1</text>
<text transform="matrix(0.364 0 0 0.392 2026.843 2349.108)" font-size="100" fill="#ff0000">st</text>
<text transform="matrix(0.543 0 0 0.527 2073.027 2363.441)" font-size="100" fill="#ff0000">cycle</text>
<text transform="matrix(0.554 0 0 0.57 1561.883 2635.43)" font-size="100" fill="#000">OCV</text>
</svg>
</body></html>
